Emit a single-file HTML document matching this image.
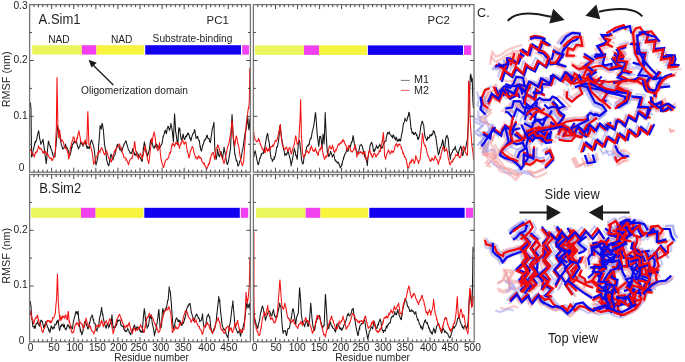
<!DOCTYPE html><html><head><meta charset="utf-8"><style>html,body{margin:0;padding:0;background:#fff;width:685px;height:362px;overflow:hidden}svg{display:block;will-change:transform;filter:blur(0.35px)}text{font-family:"Liberation Sans",sans-serif;fill:#1e1e1e}</style></head><body>
<svg width="685" height="362" viewBox="0 0 685 362">
<rect x="32.2" y="45.2" width="49.70" height="9.40" fill="#ebf55c"/>
<rect x="81.9" y="45.2" width="14.50" height="9.40" fill="#f040f0"/>
<rect x="96.4" y="45.2" width="47.70" height="9.40" fill="#f6f43c"/>
<rect x="145.2" y="45.2" width="95.80" height="9.40" fill="#1400f0"/>
<rect x="242.2" y="45.2" width="6.70" height="9.40" fill="#f040f0"/>
<rect x="254.9" y="45.4" width="49.10" height="9.50" fill="#ebf55c"/>
<rect x="304.0" y="45.4" width="15.20" height="9.50" fill="#f040f0"/>
<rect x="319.2" y="45.4" width="47.80" height="9.50" fill="#f6f43c"/>
<rect x="367.9" y="45.4" width="95.10" height="9.50" fill="#1400f0"/>
<rect x="464.0" y="45.4" width="7.20" height="9.50" fill="#f040f0"/>
<rect x="31.1" y="207.8" width="49.90" height="10.00" fill="#ebf55c"/>
<rect x="81.0" y="207.8" width="14.60" height="10.00" fill="#f040f0"/>
<rect x="95.6" y="207.8" width="47.80" height="10.00" fill="#f6f43c"/>
<rect x="144.3" y="207.8" width="95.50" height="10.00" fill="#1400f0"/>
<rect x="240.8" y="207.8" width="7.40" height="10.00" fill="#f040f0"/>
<rect x="256.1" y="207.8" width="49.60" height="10.00" fill="#ebf55c"/>
<rect x="305.7" y="207.8" width="14.70" height="10.00" fill="#f040f0"/>
<rect x="320.4" y="207.8" width="47.80" height="10.00" fill="#f6f43c"/>
<rect x="369.3" y="207.8" width="95.30" height="10.00" fill="#1400f0"/>
<rect x="465.8" y="207.8" width="7.20" height="10.00" fill="#f040f0"/>
<path d="M30.10,104.03 30.29,102.54 30.54,104.31 30.94,107.93 30.98,109.32 31.42,143.79 31.59,157.50 31.86,156.34 32.30,155.07 32.74,152.34 33.18,150.31 33.31,148.88 33.62,148.73 34.05,147.24 34.49,144.81 34.93,142.20 35.37,141.68 35.47,142.41 35.81,141.92 36.25,140.81 36.69,139.20 37.13,136.89 37.57,134.99 38.01,133.23 38.45,131.34 38.70,130.56 38.89,132.04 39.33,135.70 39.77,139.10 40.21,140.67 40.65,142.72 40.85,144.57 41.09,143.53 41.52,142.41 41.96,142.01 42.40,140.83 42.84,139.67 43.01,139.18 43.28,140.99 43.72,144.54 44.16,147.61 44.60,151.38 45.04,154.92 45.16,155.34 45.48,157.62 45.92,160.77 46.24,163.97 46.36,162.84 46.80,158.15 47.24,152.96 47.68,148.33 48.12,143.47 48.40,141.34 48.55,141.25 48.99,143.11 49.43,144.68 49.87,145.46 50.31,146.94 50.55,146.72 50.75,148.36 51.19,149.39 51.63,149.70 52.07,151.90 52.51,153.48 52.71,153.19 52.95,155.19 53.39,156.05 53.83,156.26 54.27,155.91 54.71,155.93 54.86,157.50 55.15,154.02 55.59,149.33 56.02,145.34 56.46,139.88 56.59,138.10 56.90,134.97 57.34,129.38 57.66,125.17 57.78,126.99 58.22,129.29 58.66,131.11 59.10,132.90 59.17,133.79 59.54,134.90 59.98,137.58 60.42,139.93 60.86,141.89 61.30,144.77 61.33,144.57 61.74,145.84 62.18,147.12 62.62,148.69 63.05,148.70 63.48,148.88 63.49,149.06 63.93,148.12 64.37,146.59 64.81,146.20 65.25,145.17 65.64,144.57 65.69,145.11 66.13,147.31 66.57,147.17 67.01,147.57 67.45,148.53 67.79,148.88 67.89,149.45 68.33,151.45 68.77,152.80 69.21,154.14 69.65,154.98 69.95,155.34 70.09,155.03 70.52,153.48 70.96,151.70 71.40,148.81 71.84,146.24 72.10,146.72 72.28,144.32 72.72,144.37 73.16,143.84 73.60,142.67 74.04,141.00 74.26,142.41 74.48,141.79 74.92,142.58 75.36,141.84 75.80,141.99 76.24,141.54 76.41,140.26 76.68,142.25 77.12,144.48 77.56,146.14 77.99,147.20 78.43,148.87 78.57,148.88 78.87,147.30 79.31,147.09 79.75,146.66 80.19,144.19 80.63,142.84 80.72,142.41 81.07,142.62 81.51,143.11 81.95,144.10 82.39,144.51 82.83,144.63 82.88,146.72 83.27,144.69 83.71,144.01 84.15,143.03 84.59,141.48 85.03,140.79 85.03,141.34 85.46,142.98 85.90,144.48 86.34,145.47 86.78,147.14 87.19,146.72 87.22,148.24 87.66,147.93 88.10,146.96 88.54,148.01 88.98,147.85 89.34,148.88 89.42,147.80 89.86,146.00 90.30,144.06 90.74,141.96 91.18,140.88 91.50,140.26 91.62,139.69 92.06,141.40 92.49,143.03 92.93,143.88 93.37,145.64 93.66,146.72 93.81,146.92 94.25,149.96 94.69,153.19 95.13,158.09 95.57,162.51 95.81,163.97 96.01,164.63 96.45,163.10 96.89,161.55 97.33,159.63 97.77,157.51 97.97,155.34 98.21,152.96 98.65,146.31 99.09,140.16 99.53,134.44 99.96,128.56 100.12,125.17 100.40,127.58 100.84,128.16 101.28,128.80 101.41,127.33 101.72,126.24 102.16,122.93 102.28,124.09 102.60,124.93 103.04,128.06 103.35,129.48 103.48,131.63 103.92,136.86 104.36,142.11 104.43,144.57 104.80,145.67 105.24,148.86 105.68,151.41 106.12,154.24 106.56,158.53 106.59,159.66 107.00,160.99 107.43,162.98 107.87,164.30 108.31,165.17 108.74,166.12 108.75,165.71 109.19,163.56 109.63,160.95 110.07,158.23 110.51,156.33 110.90,155.34 110.95,153.87 111.39,154.77 111.83,156.68 112.27,158.83 112.71,159.29 113.05,159.66 113.15,158.94 113.59,157.20 114.03,155.78 114.46,155.45 114.90,154.93 115.21,153.19 115.34,152.57 115.78,151.06 116.22,148.96 116.66,147.39 117.10,144.95 117.36,144.57 117.54,144.32 117.98,144.79 118.42,145.99 118.86,146.26 119.30,147.83 119.52,148.88 119.74,148.20 120.18,148.69 120.62,149.30 121.06,150.65 121.50,151.49 121.67,151.03 121.93,150.41 122.37,149.59 122.81,147.83 123.25,146.32 123.69,145.33 123.83,144.57 124.13,144.16 124.57,143.34 125.01,142.82 125.45,141.90 125.89,140.47 125.98,141.34 126.33,141.76 126.77,143.90 127.21,145.39 127.65,146.81 128.09,148.47 128.14,148.88 128.53,149.75 128.97,150.36 129.40,151.02 129.84,151.89 130.28,153.57 130.29,153.19 130.72,152.97 131.16,153.02 131.60,153.30 132.04,151.52 132.45,151.03 132.48,149.50 132.92,150.26 133.36,151.00 133.80,151.99 134.24,152.63 134.60,155.34 134.68,153.30 135.12,154.37 135.56,154.57 136.00,155.50 136.43,153.41 136.76,153.19 136.87,152.22 137.31,153.28 137.75,153.85 138.19,154.19 138.63,154.96 138.91,157.50 139.07,156.01 139.51,156.30 139.95,156.93 140.39,158.10 140.83,158.43 141.15,159.61 141.27,159.41 141.71,160.84 142.15,161.48 142.23,161.77 142.59,157.22 143.03,152.94 143.31,148.84 143.47,149.04 143.90,145.30 144.34,142.31 144.38,142.38 144.78,143.63 145.22,146.44 145.66,148.63 145.89,151.00 146.10,150.56 146.54,152.01 146.98,153.89 147.42,155.83 147.62,155.31 147.86,155.20 148.30,153.47 148.74,151.76 149.18,150.78 149.34,148.84 149.62,147.50 150.06,144.14 150.50,140.29 150.85,140.23 150.94,140.34 151.37,143.57 151.81,143.12 152.25,142.86 152.35,144.54 152.69,144.94 153.13,147.01 153.57,147.18 154.01,147.15 154.08,148.84 154.45,146.66 154.89,145.90 155.33,145.59 155.77,146.35 155.80,144.54 156.21,144.97 156.65,144.29 157.09,145.25 157.31,146.69 157.53,146.19 157.97,146.73 158.40,146.89 158.84,147.21 159.28,147.93 159.46,148.84 159.72,147.84 160.16,146.98 160.60,145.86 161.04,145.12 161.48,144.91 161.61,144.54 161.92,143.59 162.36,141.71 162.80,139.01 163.12,135.92 163.24,137.15 163.68,135.45 164.12,134.20 164.56,132.33 164.85,130.54 165.00,131.18 165.44,130.47 165.87,132.08 166.31,133.96 166.57,132.69 166.75,131.90 167.19,128.72 167.63,127.68 168.07,125.76 168.08,127.31 168.51,127.03 168.95,128.77 169.39,129.97 169.58,129.46 169.83,129.35 170.27,127.63 170.71,125.26 170.88,123.00 171.15,124.90 171.59,126.66 172.03,129.63 172.38,131.61 172.47,133.12 172.91,137.55 173.34,140.92 173.46,142.38 173.78,132.25 174.22,121.17 174.54,114.38 174.66,114.56 175.10,121.79 175.54,129.54 175.61,131.61 175.98,133.19 176.42,136.40 176.69,138.08 176.86,139.85 177.30,142.87 177.74,145.05 177.77,144.54 178.18,137.71 178.62,129.94 178.84,127.31 179.06,127.97 179.50,129.99 179.92,129.46 179.94,131.45 180.37,134.49 180.81,137.43 181.00,138.08 181.25,139.47 181.69,139.83 182.08,140.23 182.13,139.35 182.57,136.60 183.01,134.72 183.15,133.77 183.45,135.86 183.89,138.01 184.33,139.09 184.66,138.08 184.77,139.53 185.21,138.00 185.65,136.20 186.09,136.45 186.38,135.92 186.53,136.75 186.97,135.29 187.41,134.23 187.84,133.24 188.11,133.77 188.28,132.78 188.72,134.37 189.16,135.00 189.60,136.97 189.61,138.08 190.04,137.92 190.48,139.26 190.92,140.64 191.12,140.23 191.36,138.87 191.80,136.78 192.24,135.33 192.68,133.98 192.84,133.77 193.12,133.41 193.56,133.26 194.00,131.90 194.44,129.94 194.57,129.46 194.88,130.96 195.31,133.32 195.75,136.06 196.08,138.08 196.19,137.97 196.63,137.17 197.07,137.73 197.51,138.08 197.58,135.92 197.95,138.36 198.39,139.33 198.83,140.33 199.27,141.31 199.31,140.23 199.71,143.57 200.15,146.90 200.38,146.69 200.59,149.31 201.03,150.30 201.46,151.00 201.47,151.54 201.91,149.13 202.34,147.26 202.75,144.54 202.78,145.90 203.22,144.42 203.66,143.04 204.10,141.34 204.26,140.23 204.54,140.71 204.98,140.30 205.42,139.20 205.77,138.08 205.86,139.01 206.30,137.27 206.74,135.67 207.18,136.30 207.49,135.92 207.62,137.68 208.06,138.33 208.50,138.24 208.94,138.77 209.00,138.08 209.38,140.08 209.81,141.84 210.25,142.03 210.51,142.38 210.69,141.17 211.13,137.14 211.57,134.49 212.01,130.72 212.23,129.46 212.45,128.45 212.89,127.04 213.33,125.51 213.77,123.87 213.95,121.92 214.21,131.06 214.65,144.12 214.81,148.84 215.09,151.10 215.53,154.85 215.97,158.32 216.11,159.61 216.41,158.10 216.84,155.35 217.28,153.11 217.61,148.84 217.72,150.79 218.16,152.57 218.60,154.79 219.04,156.42 219.12,155.31 219.48,156.29 219.92,154.91 220.36,153.46 220.80,151.49 220.84,151.00 221.24,153.07 221.68,155.04 222.12,156.88 222.56,159.27 222.57,159.61 223.00,155.44 223.44,152.78 223.88,148.95 224.07,146.69 224.31,148.89 224.75,151.49 225.19,153.23 225.58,155.31 225.63,156.58 226.07,159.02 226.51,161.47 226.95,163.70 227.30,163.92 227.39,164.90 227.83,163.53 228.27,161.82 228.71,159.90 229.03,157.46 229.15,156.67 229.59,154.10 230.03,151.44 230.47,148.93 230.54,148.84 230.91,139.55 231.35,129.46 231.78,119.44 232.04,114.38 232.22,117.64 232.66,125.47 233.10,134.22 233.34,138.08 233.54,142.11 233.98,145.55 234.42,149.15 234.84,155.31 234.86,153.82 235.30,155.54 235.74,157.91 236.18,160.60 236.35,159.61 236.62,161.10 237.06,161.01 237.50,163.03 237.94,166.03 238.07,166.07 238.38,165.66 238.82,164.62 239.25,163.38 239.69,161.59 239.80,161.77 240.13,160.71 240.57,159.35 241.01,158.23 241.30,157.46 241.45,155.90 241.89,153.21 242.33,150.80 242.77,149.44 242.81,148.84 243.21,146.68 243.65,143.58 244.09,140.20 244.53,137.44 244.54,138.08 244.97,134.34 245.41,131.12 245.85,130.05 246.26,127.31 246.28,128.12 246.72,125.03 247.16,122.35 247.60,118.83 247.77,116.54 248.04,120.68 248.48,126.44 248.84,129.46 248.92,130.10 249.36,127.76 249.80,118.69 249.80,120.85 249.80,124.03 249.80,125.15" fill="none" stroke="#141414" stroke-width="1.05" stroke-linejoin="miter" stroke-miterlimit="4"/>
<path d="M30.10,148.88 30.10,150.25 30.54,150.07 30.98,149.77 31.42,151.82 31.86,153.79 32.23,153.19 32.30,153.50 32.74,153.76 33.18,153.99 33.62,154.95 34.05,156.33 34.39,157.50 34.49,156.09 34.93,154.31 35.37,152.55 35.81,152.98 36.25,152.77 36.54,151.03 36.69,151.84 37.13,151.78 37.57,149.98 38.01,148.66 38.45,146.30 38.70,146.72 38.89,147.07 39.33,147.84 39.77,148.83 40.21,148.77 40.65,148.43 40.85,148.88 41.09,148.80 41.52,149.25 41.96,150.33 42.40,151.52 42.84,152.76 43.01,151.03 43.28,152.99 43.72,152.33 44.16,152.27 44.60,151.75 45.04,152.12 45.16,152.11 45.48,151.47 45.92,152.67 46.36,154.45 46.80,153.47 47.24,153.05 47.32,153.19 47.68,154.34 48.12,155.22 48.55,156.04 48.99,156.93 49.43,157.64 49.47,157.50 49.87,157.77 50.31,158.50 50.75,158.29 51.19,158.05 51.63,159.66 51.63,160.09 52.07,160.51 52.51,160.22 52.95,158.99 53.39,157.62 53.78,156.42 53.83,157.49 54.27,155.91 54.71,154.08 55.15,152.42 55.29,153.19 55.59,144.65 56.02,134.65 56.37,127.33 56.46,118.87 56.90,85.26 57.02,77.33 57.34,95.26 57.78,120.43 57.88,127.33 58.22,129.67 58.66,135.05 58.74,138.10 59.10,133.63 59.54,130.26 59.60,129.48 59.98,133.31 60.42,136.08 60.86,138.84 61.30,141.97 61.33,140.26 61.74,140.61 62.18,140.16 62.62,141.04 63.05,141.49 63.48,142.41 63.49,142.99 63.93,144.47 64.37,146.83 64.81,147.05 65.25,147.17 65.64,148.88 65.69,147.89 66.13,148.60 66.57,149.76 67.01,150.56 67.45,151.16 67.79,153.19 67.89,152.38 68.33,156.02 68.77,159.49 68.87,158.58 69.21,157.04 69.65,154.02 70.09,150.96 70.52,147.63 70.96,145.83 71.03,146.72 71.40,143.59 71.84,142.38 72.28,140.81 72.72,139.32 73.16,137.16 73.18,137.03 73.60,136.97 74.04,137.33 74.48,139.32 74.92,141.53 75.34,142.41 75.36,142.74 75.80,143.03 76.24,141.35 76.68,139.21 77.12,137.63 77.49,138.10 77.56,136.56 77.99,134.54 78.43,132.77 78.87,131.36 79.00,130.56 79.31,133.43 79.75,135.74 80.19,137.56 80.63,140.89 80.72,142.41 81.07,141.49 81.51,142.18 81.95,142.49 82.39,143.12 82.83,143.46 82.88,144.57 83.27,143.70 83.71,144.74 84.15,142.93 84.59,140.99 85.03,140.82 85.03,140.26 85.46,142.12 85.90,142.53 86.34,143.11 86.76,144.57 86.78,143.47 87.22,129.42 87.66,116.02 87.84,111.16 88.10,118.46 88.54,132.67 88.91,144.57 88.98,144.56 89.42,145.06 89.86,145.71 90.30,145.84 90.74,146.62 91.18,148.58 91.50,148.88 91.62,150.09 92.06,152.07 92.49,154.26 92.93,158.16 93.37,161.54 93.66,163.97 93.81,163.71 94.25,162.97 94.69,162.80 95.13,161.09 95.57,158.96 95.81,159.66 96.01,157.20 96.45,156.87 96.89,156.63 97.33,155.26 97.77,154.47 97.97,153.19 98.21,153.61 98.65,152.50 99.09,150.64 99.53,151.50 99.96,152.33 100.12,151.03 100.40,150.79 100.84,149.44 101.28,147.75 101.72,148.02 102.16,148.58 102.28,148.88 102.60,149.82 103.04,150.75 103.48,152.36 103.92,153.75 104.36,154.27 104.43,153.19 104.80,154.29 105.24,153.67 105.68,153.15 106.12,152.25 106.56,150.96 106.59,151.03 107.00,152.21 107.43,153.34 107.87,154.76 108.31,156.88 108.74,157.50 108.75,158.63 109.19,158.53 109.63,158.62 110.07,159.03 110.51,159.11 110.90,161.81 110.95,161.46 111.39,161.73 111.83,160.54 112.27,158.71 112.71,156.95 113.05,155.34 113.15,155.33 113.59,154.19 114.03,152.97 114.46,151.03 114.90,150.57 115.21,151.03 115.34,149.79 115.78,150.20 116.22,148.82 116.66,148.09 117.10,147.06 117.36,146.72 117.54,147.05 117.98,146.19 118.42,146.19 118.86,146.22 119.30,145.23 119.52,143.49 119.74,145.17 120.18,145.98 120.62,146.69 121.06,147.39 121.50,148.20 121.67,148.88 121.93,150.28 122.37,153.45 122.81,153.59 123.25,154.26 123.69,156.09 123.83,157.50 124.13,157.36 124.57,157.82 125.01,157.78 125.45,158.06 125.89,158.29 125.98,159.66 126.33,159.00 126.77,160.29 127.21,160.71 127.65,161.77 128.09,163.76 128.14,163.97 128.53,164.60 128.97,163.11 129.40,161.34 129.84,160.18 130.28,159.74 130.29,159.66 130.72,159.35 131.16,158.62 131.60,157.88 132.04,158.17 132.45,157.50 132.48,157.09 132.92,154.14 133.36,151.34 133.80,148.06 134.24,144.60 134.60,141.34 134.68,141.93 135.12,145.39 135.56,149.57 135.68,151.03 136.00,151.53 136.43,152.37 136.87,153.78 137.31,154.87 137.75,157.48 137.84,157.50 138.19,157.53 138.63,158.55 139.07,156.70 139.51,156.13 139.95,154.80 140.39,153.82 140.72,154.23 140.83,154.13 141.27,155.74 141.71,157.17 142.15,158.34 142.23,159.61 142.59,156.57 143.03,155.56 143.47,154.63 143.74,151.00 143.90,151.63 144.34,149.57 144.78,147.65 145.22,146.14 145.46,146.69 145.66,148.44 146.10,152.42 146.54,154.42 146.98,156.13 147.42,158.55 147.62,159.61 147.86,160.09 148.30,161.98 148.69,163.92 148.74,163.38 149.18,160.34 149.62,157.26 150.06,152.81 150.20,151.00 150.50,148.90 150.94,144.22 151.37,139.25 151.49,138.08 151.81,139.94 152.25,141.74 152.35,142.38 152.69,138.95 153.13,136.02 153.57,134.16 154.01,132.59 154.08,131.61 154.45,133.93 154.89,135.25 155.15,138.08 155.33,138.58 155.77,143.66 156.21,147.49 156.23,146.69 156.65,148.38 157.09,149.07 157.53,149.55 157.95,151.00 157.97,150.53 158.40,148.81 158.84,146.62 159.28,144.08 159.46,142.38 159.72,146.24 160.16,150.98 160.54,155.31 160.60,155.80 161.04,158.79 161.48,161.09 161.92,162.51 162.26,163.92 162.36,164.09 162.80,165.33 163.24,167.25 163.68,167.39 163.77,166.07 164.12,165.95 164.56,164.13 165.00,162.10 165.28,161.77 165.44,160.41 165.87,160.04 166.31,159.63 166.75,159.72 167.00,159.61 167.19,159.09 167.63,159.05 168.07,158.00 168.51,157.38 168.72,157.46 168.95,155.66 169.39,154.05 169.83,152.59 170.23,153.15 170.27,152.71 170.71,151.74 171.15,149.39 171.59,146.16 171.74,146.69 172.03,144.32 172.47,143.61 172.91,143.44 173.03,144.54 173.34,144.07 173.78,144.51 174.22,145.57 174.54,146.69 174.66,145.97 175.10,145.01 175.54,143.15 175.98,142.33 176.05,142.38 176.42,143.53 176.86,143.58 177.30,143.22 177.74,142.76 177.77,144.54 178.18,143.55 178.62,145.14 179.06,145.69 179.49,148.84 179.50,147.79 179.94,146.23 180.37,144.47 180.81,143.63 181.00,142.38 181.25,143.33 181.69,142.00 182.13,141.02 182.51,140.23 182.57,140.67 183.01,141.13 183.45,141.84 183.89,143.18 184.23,144.54 184.33,144.13 184.77,143.05 185.21,142.36 185.65,142.84 185.95,142.38 186.09,143.07 186.53,146.30 186.97,148.71 187.41,151.92 187.46,151.00 187.84,153.23 188.28,154.40 188.72,156.78 188.97,157.46 189.16,158.27 189.60,155.98 190.04,153.41 190.48,151.04 190.69,151.00 190.92,150.07 191.36,149.05 191.80,147.91 192.24,146.66 192.41,146.69 192.68,146.88 193.12,148.20 193.56,149.99 193.92,153.15 194.00,152.40 194.44,154.13 194.88,155.25 195.31,156.67 195.43,157.46 195.75,156.95 196.19,157.20 196.63,157.37 197.07,158.51 197.15,159.61 197.51,158.31 197.95,157.56 198.39,156.31 198.83,155.90 198.88,155.31 199.27,157.92 199.71,157.72 200.15,157.92 200.38,157.46 200.59,157.59 201.03,158.58 201.47,158.83 201.89,161.77 201.91,160.90 202.34,161.54 202.78,162.17 203.22,163.42 203.61,163.92 203.66,163.59 204.10,163.14 204.54,164.75 204.98,166.02 205.34,166.07 205.42,166.70 205.86,167.25 206.30,167.85 206.74,168.68 206.84,169.31 207.18,167.88 207.62,167.16 208.06,165.41 208.35,166.07 208.50,163.85 208.94,163.66 209.38,163.80 209.81,161.32 210.07,159.61 210.25,160.02 210.69,157.96 211.13,155.76 211.57,154.11 211.80,155.31 212.01,153.59 212.45,153.06 212.89,152.92 213.31,153.15 213.33,152.02 213.77,154.73 214.21,157.18 214.65,158.83 214.81,159.61 215.09,156.85 215.53,153.89 215.97,150.42 216.11,148.84 216.41,148.10 216.84,147.55 217.28,147.46 217.61,144.54 217.72,145.15 218.16,145.36 218.60,146.84 219.04,147.77 219.12,148.84 219.48,149.71 219.92,151.67 220.36,153.90 220.80,154.54 220.84,155.31 221.24,155.66 221.68,155.55 222.12,157.36 222.56,158.38 222.57,159.61 223.00,159.92 223.44,161.95 223.88,163.12 224.07,163.92 224.31,162.35 224.75,160.66 225.19,158.10 225.58,157.46 225.63,155.83 226.07,154.58 226.51,152.90 226.95,150.41 227.30,148.84 227.39,148.10 227.83,146.34 228.27,145.31 228.71,144.11 229.03,142.38 229.15,142.35 229.59,139.71 230.03,136.74 230.47,134.44 230.54,133.77 230.91,131.51 231.35,127.30 231.78,122.75 232.04,120.85 232.22,121.90 232.66,128.42 233.10,135.95 233.34,138.08 233.54,138.91 233.98,140.86 234.42,142.88 234.84,144.54 234.86,146.05 235.30,141.85 235.74,138.72 236.18,136.01 236.35,135.92 236.62,136.88 237.06,139.18 237.50,141.52 237.64,142.38 237.94,143.74 238.38,144.99 238.82,147.24 239.15,148.84 239.25,150.20 239.69,153.28 240.13,156.39 240.57,158.47 240.66,159.61 241.01,161.25 241.45,162.92 241.89,164.05 242.33,165.46 242.38,166.07 242.77,164.37 243.21,162.83 243.65,161.17 243.67,161.77 244.09,154.94 244.53,148.77 244.97,142.38 244.97,142.77 245.41,136.14 245.85,130.39 246.26,123.00 246.28,124.12 246.72,120.65 247.16,117.11 247.60,114.01 247.77,112.23 248.04,110.32 248.48,107.69 248.84,107.92 248.92,105.70 249.36,99.63 249.80,68.08 249.80,71.31 249.80,90.69 249.80,92.37" fill="none" stroke="#f41010" stroke-width="1.05" stroke-linejoin="miter" stroke-miterlimit="4"/>
<path d="M253.90,154.39 253.90,157.50 254.34,153.50 254.78,151.89 255.16,151.03 255.22,151.14 255.66,153.23 256.10,154.87 256.53,157.54 256.88,159.66 256.97,160.18 257.41,161.65 257.85,163.90 258.29,164.98 258.39,163.97 258.73,164.01 259.17,161.28 259.61,159.60 259.90,157.50 260.05,158.93 260.49,156.88 260.92,155.50 261.36,153.91 261.62,155.34 261.80,153.43 262.24,153.10 262.68,153.16 263.12,153.01 263.34,153.19 263.56,151.72 264.00,150.94 264.44,150.29 264.85,146.72 264.88,147.65 265.31,144.59 265.75,142.01 266.19,139.12 266.36,138.10 266.63,136.54 267.07,135.08 267.51,133.08 267.66,133.79 267.95,135.14 268.39,139.60 268.83,140.99 269.16,142.41 269.26,143.04 269.70,147.82 270.14,151.62 270.58,155.89 270.67,155.34 271.02,158.34 271.46,158.75 271.90,159.02 272.34,160.93 272.40,161.81 272.78,159.72 273.22,159.87 273.65,159.17 274.09,159.15 274.12,157.50 274.53,158.12 274.97,156.68 275.41,155.31 275.63,153.19 275.85,153.09 276.29,150.01 276.73,147.36 277.14,146.72 277.17,147.24 277.61,146.29 278.05,143.33 278.48,141.00 278.86,138.10 278.92,137.51 279.36,132.34 279.80,128.42 280.16,125.17 280.24,126.25 280.68,130.34 281.12,134.48 281.45,135.95 281.56,138.45 282.00,139.75 282.44,142.34 282.87,145.07 283.17,146.72 283.31,147.82 283.75,149.55 284.19,151.49 284.63,153.86 284.90,153.19 285.07,155.08 285.51,154.27 285.95,154.06 286.39,155.46 286.41,155.34 286.82,154.43 287.26,153.03 287.70,151.42 287.91,151.03 288.14,151.00 288.58,152.81 289.02,154.45 289.46,156.37 289.64,157.50 289.90,157.71 290.34,160.11 290.78,162.50 291.15,166.12 291.21,164.61 291.65,162.78 292.09,161.03 292.53,158.81 292.87,157.50 292.97,156.13 293.41,153.81 293.85,151.52 294.29,149.10 294.38,148.88 294.73,150.20 295.17,151.50 295.61,153.86 295.67,155.34 296.04,155.11 296.48,155.87 296.92,158.76 297.18,159.66 297.36,157.69 297.80,151.65 298.24,144.96 298.26,144.57 298.68,142.51 299.12,140.29 299.34,140.26 299.56,140.82 300.00,144.21 300.41,148.88 300.43,147.48 300.87,152.41 301.31,157.48 301.49,159.66 301.75,160.65 302.19,162.65 302.63,163.84 303.00,163.97 303.07,163.91 303.51,161.30 303.95,158.45 304.38,155.50 304.72,155.34 304.82,154.76 305.26,154.29 305.70,152.28 306.14,149.49 306.45,148.88 306.58,147.33 307.02,146.54 307.46,145.88 307.90,145.44 307.96,146.72 308.34,144.52 308.77,144.29 309.21,144.47 309.47,142.41 309.65,141.81 310.09,139.26 310.53,138.66 310.97,137.79 311.19,138.10 311.41,136.69 311.85,134.31 312.29,131.46 312.73,130.22 312.91,129.48 313.17,128.50 313.60,126.31 314.04,124.18 314.42,120.86 314.48,120.54 314.92,116.97 315.36,112.95 315.50,112.24 315.80,115.32 316.24,121.02 316.58,125.17 316.68,126.87 317.12,133.12 317.56,137.74 317.66,138.10 317.99,140.41 318.43,144.00 318.73,146.72 318.87,145.50 319.31,141.66 319.75,136.77 319.81,135.95 320.19,136.83 320.63,136.48 320.89,138.10 321.07,138.37 321.51,143.00 321.94,147.61 321.97,148.88 322.38,143.03 322.82,137.98 323.04,133.79 323.26,135.31 323.70,138.53 324.12,144.57 324.14,143.78 324.58,131.48 325.02,119.02 325.20,112.24 325.46,119.21 325.90,128.03 326.28,138.10 326.33,136.99 326.77,144.29 327.21,151.30 327.35,151.03 327.65,152.77 328.09,153.50 328.53,155.68 328.86,155.34 328.97,156.19 329.41,155.45 329.85,154.38 330.29,152.67 330.59,151.03 330.73,152.04 331.16,153.08 331.60,153.94 332.04,155.09 332.31,157.50 332.48,155.95 332.92,155.54 333.36,155.35 333.80,154.54 333.82,155.34 334.24,156.37 334.68,158.67 335.12,160.68 335.33,159.66 335.55,160.92 335.99,160.84 336.43,161.80 336.87,161.82 337.05,161.81 337.31,162.97 337.75,162.71 338.19,162.27 338.63,162.75 338.78,163.97 339.07,163.97 339.50,164.47 339.94,166.32 340.28,168.28 340.38,167.02 340.82,166.40 341.26,166.29 341.70,165.61 341.79,163.97 342.14,164.13 342.58,161.72 343.02,159.98 343.46,159.01 343.52,157.50 343.89,157.60 344.33,155.80 344.77,154.55 345.21,153.79 345.24,153.19 345.65,153.01 346.09,152.20 346.53,150.71 346.75,148.88 346.97,150.19 347.41,151.21 347.85,151.05 348.26,151.03 348.28,149.95 348.72,148.58 349.16,146.98 349.60,146.34 349.98,146.72 350.04,145.91 350.48,146.08 350.92,144.51 351.36,142.25 351.71,142.41 351.80,142.45 352.24,141.09 352.68,138.34 353.11,135.33 353.22,135.95 353.55,138.35 353.99,141.61 354.43,143.63 354.72,144.57 354.87,146.05 355.31,146.91 355.75,147.88 356.19,150.14 356.45,151.03 356.63,151.42 357.06,151.98 357.50,152.24 357.94,152.08 358.17,153.19 358.38,152.57 358.82,151.34 359.26,149.08 359.68,146.72 359.70,146.38 360.14,145.16 360.58,145.03 361.02,144.82 361.19,144.57 361.45,145.20 361.89,145.68 362.33,146.35 362.77,148.52 362.91,148.88 363.21,150.69 363.65,152.46 364.09,153.68 364.53,155.63 364.72,155.31 364.97,157.44 365.41,157.63 365.84,157.59 366.23,159.61 366.28,158.90 366.72,161.76 367.16,163.68 367.31,166.07 367.60,161.77 368.04,157.15 368.38,155.31 368.48,153.63 368.92,151.93 369.36,151.41 369.80,147.87 369.89,146.69 370.24,145.19 370.67,144.31 371.11,143.25 371.55,142.34 371.62,142.38 371.99,143.11 372.43,144.90 372.87,146.77 373.31,150.00 373.34,151.00 373.75,150.65 374.19,151.36 374.62,150.53 374.85,148.84 375.06,150.02 375.50,149.17 375.94,147.74 376.35,146.69 376.38,145.79 376.82,146.56 377.26,147.04 377.70,147.87 378.08,148.84 378.14,147.72 378.58,146.66 379.01,146.10 379.45,146.22 379.80,144.54 379.89,144.72 380.33,145.62 380.77,146.96 381.21,147.60 381.31,148.84 381.65,147.24 382.09,147.47 382.53,147.55 382.81,146.69 382.97,145.76 383.40,143.98 383.84,143.02 384.28,141.99 384.54,142.38 384.72,141.72 385.16,141.33 385.60,141.20 386.04,140.47 386.26,138.08 386.48,137.18 386.92,134.75 387.36,133.74 387.77,132.69 387.79,132.73 388.23,133.65 388.67,132.87 389.11,132.56 389.28,131.61 389.55,133.57 389.99,134.28 390.43,134.77 390.87,135.46 391.00,134.84 391.31,136.07 391.75,136.70 392.18,136.61 392.62,137.48 392.72,135.92 393.06,136.25 393.50,135.25 393.94,136.14 394.23,137.00 394.38,138.07 394.82,138.48 395.26,138.82 395.70,139.57 395.74,138.08 396.14,138.77 396.57,137.91 397.01,139.27 397.45,141.69 397.46,140.23 397.89,140.89 398.33,140.40 398.77,139.68 399.18,141.31 399.21,140.08 399.65,139.30 400.09,139.92 400.53,141.46 400.69,140.23 400.96,138.65 401.40,135.54 401.84,133.93 402.20,131.61 402.28,132.11 402.72,129.28 403.16,125.33 403.49,123.00 403.60,123.47 404.04,122.62 404.48,121.60 404.92,119.22 405.00,118.69 405.36,119.36 405.79,119.83 406.23,120.84 406.51,120.85 406.67,121.03 407.11,119.45 407.55,117.23 407.80,116.54 407.99,116.67 408.43,115.88 408.87,111.91 408.88,112.23 409.31,112.82 409.75,115.50 409.95,118.69 410.18,119.45 410.62,124.20 411.03,129.46 411.06,128.04 411.50,129.94 411.94,131.89 412.11,133.77 412.38,132.11 412.82,132.56 413.26,132.76 413.61,134.84 413.70,133.09 414.13,133.89 414.57,134.22 415.01,132.98 415.12,133.77 415.45,132.76 415.89,133.58 416.33,134.19 416.41,135.92 416.77,134.42 417.21,136.71 417.65,138.43 417.92,138.08 418.09,139.34 418.52,139.24 418.96,137.22 419.40,135.88 419.43,135.92 419.84,133.66 420.28,130.78 420.72,127.36 420.72,127.31 421.16,124.76 421.60,123.42 422.04,121.67 422.23,121.92 422.48,121.72 422.91,122.79 423.35,124.81 423.74,125.15 423.79,126.67 424.23,130.64 424.67,135.03 425.03,135.92 425.11,137.42 425.55,137.96 425.99,138.46 426.43,140.08 426.54,140.23 426.87,140.40 427.30,138.96 427.74,137.22 428.04,138.08 428.18,137.72 428.62,137.58 429.06,137.87 429.50,136.88 429.77,135.92 429.94,134.87 430.38,135.40 430.82,135.94 431.26,135.86 431.49,133.77 431.69,135.58 432.13,134.46 432.57,134.48 433.00,132.69 433.01,132.12 433.45,130.75 433.89,131.25 434.33,132.35 434.51,131.61 434.77,133.55 435.21,135.38 435.65,136.67 435.80,135.92 436.08,139.19 436.52,141.99 436.96,145.31 437.31,148.84 437.40,148.42 437.84,151.38 438.28,153.69 438.38,155.31 438.72,153.87 439.16,153.23 439.60,150.69 440.04,147.93 440.11,148.84 440.47,147.51 440.91,146.75 441.35,145.73 441.61,144.54 441.79,144.63 442.23,142.11 442.67,139.44 442.69,140.23 443.11,141.53 443.55,145.63 443.99,149.35 444.41,151.00 444.43,151.01 444.87,146.33 445.30,141.72 445.74,138.81 445.92,138.08 446.18,136.67 446.62,136.09 447.00,134.84 447.06,137.07 447.50,137.09 447.94,138.07 448.07,138.08 448.38,140.88 448.82,146.40 449.15,151.00 449.25,150.79 449.69,154.42 450.13,157.54 450.23,159.61 450.57,156.46 451.01,154.51 451.45,153.66 451.74,153.15 451.89,152.52 452.33,152.13 452.77,150.72 453.21,149.81 453.46,148.84 453.64,149.55 454.08,149.61 454.52,148.79 454.96,147.60 455.18,146.69 455.40,147.43 455.84,149.42 456.28,150.54 456.69,151.00 456.72,151.34 457.16,151.93 457.60,153.21 458.03,154.33 458.20,155.31 458.47,153.12 458.91,151.21 459.35,149.75 459.49,148.84 459.79,148.25 460.23,147.82 460.67,146.40 461.00,146.69 461.11,146.19 461.55,149.75 461.99,152.43 462.42,155.91 462.50,155.31 462.86,155.32 463.30,153.67 463.74,151.18 464.18,148.87 464.23,148.84 464.62,148.78 465.06,149.44 465.50,148.78 465.94,147.25 465.95,146.69 466.38,144.03 466.81,142.01 467.25,139.55 467.46,138.08 467.69,135.30 468.13,126.97 468.54,120.85 468.57,119.17 469.01,109.15 469.40,99.31 469.45,98.51 469.89,86.94 470.26,75.62 470.33,76.17 470.77,74.38 470.90,74.54 471.20,77.06 471.55,82.08 471.64,80.96 472.08,78.80 472.20,77.77 472.52,88.93 472.84,99.31 472.96,101.86 473.40,107.92 473.40,108.19" fill="none" stroke="#141414" stroke-width="1.05" stroke-linejoin="miter" stroke-miterlimit="4"/>
<path d="M253.90,131.64 253.90,134.81 254.34,136.55 254.78,138.01 255.16,140.26 255.22,139.85 255.66,140.11 256.10,141.04 256.53,141.71 256.88,141.34 256.97,142.18 257.41,141.08 257.85,140.80 258.29,140.00 258.39,138.10 258.73,139.19 259.17,139.63 259.61,141.37 259.90,142.41 260.05,143.30 260.49,144.06 260.92,145.51 261.36,146.29 261.62,146.72 261.80,147.53 262.24,148.94 262.68,149.31 263.12,149.18 263.34,151.03 263.56,149.69 264.00,149.99 264.44,150.75 264.85,153.19 264.88,152.60 265.31,152.48 265.75,149.54 266.19,147.10 266.36,148.88 266.63,148.27 267.07,149.79 267.51,151.09 267.95,150.06 268.09,151.03 268.39,149.07 268.83,149.58 269.26,150.75 269.70,150.20 269.81,148.88 270.14,149.97 270.58,147.64 271.02,146.45 271.32,146.72 271.46,146.72 271.90,146.69 272.34,146.29 272.78,146.51 272.83,144.57 273.22,146.09 273.65,144.92 274.09,144.32 274.53,142.49 274.55,142.41 274.97,141.93 275.41,140.60 275.85,140.84 276.28,141.34 276.29,141.54 276.73,140.44 277.17,139.28 277.61,137.80 277.78,138.10 278.05,135.92 278.48,133.85 278.92,131.31 279.29,131.64 279.36,129.52 279.80,126.61 280.24,125.10 280.37,124.09 280.68,129.37 281.12,135.58 281.45,138.10 281.56,139.77 282.00,142.14 282.44,144.53 282.87,146.62 283.17,146.72 283.31,147.65 283.75,148.29 284.19,148.47 284.63,148.79 284.90,148.88 285.07,149.41 285.51,148.35 285.95,147.45 286.39,147.12 286.41,146.72 286.82,147.84 287.26,149.47 287.70,150.69 287.91,151.03 288.14,150.52 288.58,149.70 289.02,148.47 289.46,147.27 289.64,148.88 289.90,148.24 290.34,149.90 290.78,152.01 291.15,153.19 291.21,153.79 291.65,153.47 292.09,151.24 292.53,149.77 292.87,148.88 292.97,147.45 293.41,147.06 293.85,145.32 294.29,143.88 294.38,144.57 294.73,141.31 295.17,138.72 295.61,135.46 295.67,135.95 296.04,137.34 296.48,139.75 296.92,142.53 297.18,144.57 297.36,144.10 297.80,143.51 298.24,142.71 298.68,142.07 298.69,142.41 299.12,134.35 299.56,126.63 299.98,120.86 300.00,120.41 300.43,107.23 300.63,99.31 300.87,110.84 301.31,129.57 301.49,138.10 301.75,140.04 302.19,147.45 302.57,153.19 302.63,153.61 303.07,155.37 303.51,157.63 303.65,157.50 303.95,156.62 304.38,155.85 304.82,155.40 305.16,155.34 305.26,154.69 305.70,152.91 306.14,152.19 306.58,151.22 306.88,151.03 307.02,150.72 307.46,151.61 307.90,152.07 308.34,152.77 308.60,153.19 308.77,153.32 309.21,151.84 309.65,150.87 310.09,149.79 310.11,148.88 310.53,149.40 310.97,147.50 311.41,146.23 311.62,146.72 311.85,147.13 312.29,148.58 312.73,150.55 313.17,150.93 313.34,151.03 313.60,150.45 314.04,151.01 314.48,151.22 314.92,149.56 315.07,148.88 315.36,148.36 315.80,149.75 316.24,151.18 316.58,153.19 316.68,152.00 317.12,152.95 317.56,153.88 317.99,155.84 318.09,155.34 318.43,153.87 318.87,151.14 319.31,150.56 319.75,149.83 319.81,148.88 320.19,149.85 320.63,148.23 321.07,147.75 321.51,146.30 321.53,144.57 321.94,148.06 322.38,150.09 322.82,151.81 323.04,155.34 323.26,154.50 323.70,155.88 324.14,157.92 324.55,159.66 324.58,159.01 325.02,158.29 325.46,157.39 325.90,156.15 326.28,157.50 326.33,157.04 326.77,156.79 327.21,155.29 327.65,153.79 328.00,153.19 328.09,151.66 328.53,149.97 328.97,147.84 329.41,146.26 329.51,146.72 329.85,146.03 330.29,147.03 330.73,147.87 331.02,148.88 331.16,148.89 331.60,148.38 332.04,146.95 332.48,145.71 332.74,146.72 332.92,146.49 333.36,148.79 333.80,151.01 334.24,151.99 334.47,151.03 334.68,152.55 335.12,151.12 335.55,150.80 335.97,148.88 335.99,151.01 336.43,149.55 336.87,148.46 337.31,147.34 337.48,146.72 337.75,145.48 338.19,144.65 338.63,144.02 339.07,143.61 339.21,144.57 339.50,143.98 339.94,143.91 340.38,143.73 340.82,143.51 340.93,142.41 341.26,142.89 341.70,141.98 342.14,140.95 342.44,141.34 342.58,140.63 343.02,139.71 343.46,141.04 343.89,141.60 343.95,140.26 344.33,142.34 344.77,143.54 345.21,144.03 345.65,145.22 345.67,144.57 346.09,145.97 346.53,147.98 346.97,149.82 347.40,148.88 347.41,149.51 347.85,148.24 348.28,146.54 348.72,145.90 348.91,146.72 349.16,145.06 349.60,146.64 350.04,148.38 350.41,148.88 350.48,150.58 350.92,150.50 351.36,151.48 351.80,151.66 352.14,152.11 352.24,152.04 352.68,151.00 353.11,150.65 353.55,149.78 353.86,148.88 353.99,149.52 354.43,148.01 354.87,146.26 355.31,145.53 355.37,146.72 355.75,148.04 356.19,150.82 356.63,154.20 356.88,157.50 357.06,155.97 357.50,154.70 357.94,153.88 358.38,152.47 358.60,153.19 358.82,152.76 359.26,153.34 359.70,153.02 360.14,152.51 360.58,152.31 360.76,151.03 361.02,152.07 361.45,152.47 361.89,152.77 362.33,153.79 362.77,154.33 362.91,153.19 363.21,153.75 363.65,153.12 364.09,152.87 364.53,151.95 364.72,153.15 364.97,152.50 365.41,155.51 365.84,158.71 366.23,159.61 366.28,160.02 366.72,159.68 367.16,158.54 367.60,157.79 367.74,157.46 368.04,157.37 368.48,154.40 368.92,152.05 369.36,150.03 369.46,151.00 369.80,149.59 370.24,151.69 370.67,153.86 371.11,154.91 371.18,153.15 371.55,156.08 371.99,156.67 372.43,157.02 372.69,157.46 372.87,155.58 373.31,155.33 373.75,153.95 374.19,152.91 374.20,153.15 374.62,153.24 375.06,154.19 375.50,155.53 375.92,157.46 375.94,156.19 376.38,156.40 376.82,154.90 377.26,154.44 377.65,155.31 377.70,154.44 378.14,153.80 378.58,153.41 379.01,151.63 379.15,151.00 379.45,151.55 379.89,150.77 380.33,151.14 380.66,148.84 380.77,148.81 381.21,145.65 381.65,144.17 382.09,141.63 382.38,142.38 382.53,139.57 382.97,135.75 383.40,132.19 383.46,132.69 383.84,139.20 384.28,149.77 384.54,155.31 384.72,156.36 385.16,157.61 385.60,157.65 385.61,159.61 386.04,156.72 386.48,155.42 386.92,153.86 387.12,153.15 387.36,152.57 387.79,152.06 388.23,150.71 388.41,151.00 388.67,150.29 389.11,151.53 389.55,152.87 389.92,153.15 389.99,153.83 390.43,153.48 390.87,152.49 391.31,151.31 391.43,152.08 391.75,151.64 392.18,151.56 392.62,151.39 393.06,152.10 393.15,153.15 393.50,151.26 393.94,150.45 394.38,149.76 394.82,147.27 394.88,146.69 395.26,145.71 395.70,144.83 396.14,144.24 396.38,144.54 396.57,143.90 397.01,145.02 397.45,146.37 397.89,146.69 397.89,145.88 398.33,144.36 398.77,144.19 399.21,144.29 399.61,144.54 399.65,143.67 400.09,145.74 400.53,146.04 400.96,146.10 401.34,148.84 401.40,147.36 401.84,149.71 402.28,150.31 402.72,151.39 402.84,153.15 403.16,152.69 403.60,153.73 404.04,154.96 404.35,157.46 404.48,156.11 404.92,157.17 405.36,157.25 405.79,158.40 406.08,159.61 406.23,159.63 406.67,161.88 407.11,164.70 407.15,163.92 407.55,167.16 407.99,167.55 408.43,167.49 408.66,168.23 408.87,167.15 409.31,164.32 409.75,163.02 409.95,163.92 410.18,162.48 410.62,162.63 411.06,161.12 411.46,161.77 411.50,159.98 411.94,160.52 412.38,160.28 412.82,160.29 412.97,159.61 413.26,160.48 413.70,161.29 414.13,163.21 414.26,163.92 414.57,162.53 415.01,161.43 415.45,158.32 415.77,155.31 415.89,156.10 416.33,157.53 416.77,158.72 417.21,159.44 417.28,159.61 417.65,160.44 418.09,161.54 418.52,163.10 418.57,163.92 418.96,161.42 419.40,160.34 419.84,159.91 420.08,159.61 420.28,157.68 420.72,153.72 421.15,148.84 421.16,149.82 421.60,144.00 422.04,138.60 422.44,132.69 422.48,133.03 422.91,135.81 423.35,139.30 423.74,142.38 423.79,142.72 424.23,144.37 424.67,145.25 425.11,146.18 425.46,146.69 425.55,146.24 425.99,147.62 426.43,149.35 426.87,151.75 427.18,153.15 427.30,154.14 427.74,154.59 428.18,156.07 428.62,156.66 428.69,157.46 429.06,158.20 429.50,159.10 429.94,159.95 430.20,161.77 430.38,160.99 430.82,160.38 431.26,160.50 431.69,159.23 431.92,157.46 432.13,158.90 432.57,158.80 433.01,159.65 433.45,160.27 433.64,159.61 433.89,159.84 434.33,158.63 434.77,157.50 435.15,155.31 435.21,155.68 435.65,156.88 436.08,158.19 436.52,158.89 436.66,159.61 436.96,159.61 437.40,160.52 437.84,162.29 438.28,164.18 438.38,163.92 438.72,162.73 439.16,161.04 439.60,159.79 440.04,158.69 440.11,157.46 440.47,158.05 440.91,155.66 441.35,153.26 441.61,153.15 441.79,151.79 442.23,150.18 442.67,148.51 443.11,146.45 443.12,146.69 443.55,147.22 443.99,147.96 444.43,148.78 444.84,151.00 444.87,150.99 445.30,150.53 445.74,150.49 446.18,149.55 446.57,148.84 446.62,149.64 447.06,151.04 447.50,152.17 447.94,155.68 448.07,157.46 448.38,158.40 448.82,160.28 449.25,162.12 449.58,163.92 449.69,164.14 450.13,164.71 450.57,163.41 451.01,162.88 451.30,161.77 451.45,162.30 451.89,161.94 452.33,161.95 452.77,160.83 453.03,159.61 453.21,160.09 453.64,159.02 454.08,158.87 454.52,157.55 454.54,157.46 454.96,157.14 455.40,156.26 455.84,154.75 456.04,155.31 456.28,155.28 456.72,155.08 457.16,155.64 457.60,154.92 457.77,153.15 458.03,154.99 458.47,155.32 458.91,156.73 459.35,157.16 459.49,157.46 459.79,157.82 460.23,157.36 460.67,157.20 461.00,155.31 461.11,155.11 461.55,151.33 461.99,151.00 462.42,149.63 462.50,148.84 462.86,148.36 463.30,146.50 463.74,147.20 464.18,147.56 464.23,146.69 464.62,149.61 465.06,151.11 465.50,152.37 465.94,153.25 465.95,153.15 466.38,153.54 466.81,153.86 467.25,155.38 467.46,155.31 467.69,146.23 468.10,127.31 468.13,124.19 468.54,82.08 468.57,80.84 469.01,83.57 469.40,86.38 469.45,88.08 469.89,106.09 470.26,123.00 470.33,121.83 470.77,129.36 471.20,136.31 471.34,138.08 471.64,142.25 472.08,146.71 472.41,148.84 472.52,150.04 472.96,152.33 473.40,157.10 473.40,159.61" fill="none" stroke="#f41010" stroke-width="1.05" stroke-linejoin="miter" stroke-miterlimit="4"/>
<path d="M30.10,300.64 30.10,300.90 30.54,303.01 30.72,304.95 30.98,306.15 31.42,312.47 31.59,315.72 31.86,317.94 32.30,321.77 32.74,325.17 32.88,326.50 33.18,326.31 33.62,326.52 34.05,326.89 34.39,328.66 34.49,326.35 34.93,326.68 35.37,327.56 35.81,324.95 35.90,324.34 36.25,323.59 36.69,323.63 37.13,323.54 37.57,321.99 37.62,322.19 38.01,322.91 38.45,323.93 38.89,324.97 39.33,325.97 39.34,326.50 39.77,324.97 40.21,324.14 40.65,321.56 40.85,320.03 41.09,320.64 41.52,320.31 41.96,321.28 42.36,322.19 42.40,321.44 42.84,323.72 43.28,325.49 43.72,327.20 44.09,326.50 44.16,327.57 44.60,326.32 45.04,324.22 45.48,322.88 45.81,322.19 45.92,321.06 46.36,322.44 46.80,324.55 47.24,326.12 47.32,326.50 47.68,327.39 48.12,327.97 48.55,329.65 48.83,328.66 48.99,330.53 49.43,331.44 49.87,332.24 50.12,330.81 50.31,330.78 50.75,328.13 51.19,326.17 51.63,326.50 51.63,326.19 52.07,327.48 52.51,328.90 52.95,329.08 53.14,328.66 53.39,327.63 53.83,327.22 54.27,327.83 54.71,326.26 54.86,324.34 55.15,324.58 55.59,324.64 56.02,324.54 56.46,323.32 56.59,322.19 56.90,322.82 57.34,321.74 57.78,320.36 58.09,320.03 58.22,320.24 58.66,324.45 59.10,327.92 59.54,330.02 59.60,330.81 59.98,328.50 60.42,327.19 60.86,325.76 61.30,325.09 61.33,326.50 61.74,325.04 62.18,325.13 62.62,324.78 63.05,324.34 63.05,324.73 63.49,326.68 63.93,325.98 64.37,325.13 64.56,326.50 64.81,327.59 65.25,329.04 65.69,329.14 66.07,328.66 66.13,329.22 66.57,328.20 67.01,326.91 67.45,325.41 67.79,324.34 67.89,325.43 68.33,325.41 68.77,326.55 69.21,326.58 69.52,328.66 69.65,328.07 70.09,327.36 70.52,327.67 70.96,326.88 71.03,326.50 71.40,327.51 71.84,328.37 72.28,328.63 72.53,328.66 72.72,327.10 73.16,323.40 73.60,320.46 73.83,320.03 74.04,318.99 74.48,317.06 74.92,316.30 75.34,313.57 75.36,313.80 75.80,311.92 76.24,312.04 76.41,311.41 76.68,313.16 77.12,313.51 77.49,314.65 77.56,313.15 77.99,311.48 78.14,311.41 78.43,315.02 78.87,320.09 79.00,320.03 79.31,324.74 79.75,326.91 80.19,329.26 80.29,330.81 80.63,330.12 81.07,332.01 81.51,333.31 81.80,335.12 81.95,334.46 82.39,332.99 82.83,331.51 83.27,329.80 83.31,328.66 83.71,326.75 84.15,324.69 84.59,321.59 84.60,322.19 85.03,322.01 85.46,321.54 85.90,323.21 86.11,324.34 86.34,324.43 86.78,325.74 87.22,326.50 87.62,328.66 87.66,328.77 88.10,329.04 88.54,327.37 88.98,325.55 89.34,322.19 89.42,324.08 89.86,321.82 90.30,320.35 90.74,317.99 91.07,317.88 91.18,316.89 91.62,316.55 92.06,315.32 92.49,316.03 92.58,315.72 92.93,318.74 93.37,320.38 93.66,320.03 93.81,322.19 94.25,323.40 94.69,323.61 95.13,323.53 95.38,326.50 95.57,326.59 96.01,329.77 96.45,330.23 96.89,330.81 96.89,330.08 97.33,328.57 97.77,327.89 98.21,327.26 98.40,326.50 98.65,326.39 99.09,322.14 99.53,318.37 99.96,316.59 100.12,315.72 100.40,315.48 100.84,312.47 101.28,310.46 101.63,307.10 101.72,308.83 102.16,311.75 102.60,315.12 102.71,313.57 103.04,316.53 103.48,318.94 103.92,320.83 104.36,323.11 104.43,322.19 104.80,325.02 105.24,325.82 105.68,327.38 106.12,328.11 106.16,328.66 106.56,326.48 107.00,324.77 107.43,324.24 107.66,324.34 107.87,325.37 108.31,325.98 108.75,327.44 109.17,326.50 109.19,326.93 109.63,324.82 110.07,324.17 110.51,323.58 110.90,322.19 110.95,322.58 111.39,319.81 111.83,316.64 111.97,314.65 112.27,319.16 112.71,323.91 113.05,328.66 113.15,327.32 113.59,327.17 114.03,327.44 114.46,327.77 114.78,326.50 114.90,327.30 115.34,327.25 115.78,326.04 116.22,325.05 116.28,324.34 116.66,324.66 117.10,322.65 117.54,321.13 117.79,322.19 117.98,320.89 118.42,320.31 118.86,320.36 119.30,320.04 119.52,320.03 119.74,320.34 120.18,320.65 120.62,322.85 121.06,325.57 121.24,324.34 121.50,325.40 121.93,326.21 122.37,326.47 122.75,326.50 122.81,326.53 123.25,325.85 123.69,328.13 124.13,329.93 124.26,328.66 124.57,330.29 125.01,330.88 125.45,330.70 125.89,331.34 125.98,330.81 126.33,330.96 126.77,331.16 127.21,329.66 127.65,329.10 127.71,328.66 128.09,329.30 128.53,329.85 128.97,330.59 129.22,332.97 129.40,332.48 129.84,333.12 130.28,334.09 130.72,334.35 130.72,335.12 131.16,332.29 131.60,331.17 132.04,330.26 132.45,330.81 132.48,329.50 132.92,328.92 133.36,327.80 133.80,326.53 134.17,326.50 134.24,325.14 134.68,325.57 135.12,327.92 135.56,329.66 135.68,328.66 136.00,329.30 136.43,328.49 136.87,327.07 137.31,327.70 137.75,328.59 137.84,326.50 138.19,328.26 138.63,328.74 139.07,328.65 139.34,328.66 139.51,329.72 139.95,330.33 140.39,331.64 140.72,330.77 140.83,330.99 141.27,331.30 141.71,332.03 142.15,332.26 142.23,332.92 142.59,327.80 143.03,321.65 143.31,317.84 143.47,315.73 143.90,312.36 144.34,308.35 144.38,309.23 144.78,311.73 145.22,317.22 145.46,320.00 145.66,321.99 146.10,322.76 146.54,323.66 146.98,326.25 147.18,328.61 147.42,326.85 147.86,326.52 148.30,326.03 148.69,324.31 148.74,324.48 149.18,320.38 149.62,317.21 149.77,315.69 150.06,316.94 150.50,317.73 150.94,316.64 151.37,315.87 151.49,317.84 151.81,319.47 152.25,323.50 152.69,325.15 153.00,326.46 153.13,327.02 153.57,328.60 154.01,331.95 154.45,335.21 154.51,335.07 154.89,333.50 155.33,331.46 155.77,330.20 156.21,327.83 156.23,326.46 156.65,325.47 157.09,322.55 157.53,319.24 157.95,317.84 157.97,316.58 158.40,312.36 158.81,309.23 158.84,309.33 159.28,315.82 159.72,321.70 160.11,328.61 160.16,327.29 160.60,327.73 161.04,327.53 161.48,324.88 161.61,324.31 161.92,318.37 162.36,312.72 162.69,309.23 162.80,308.35 163.24,310.84 163.68,312.37 163.77,313.54 164.12,311.75 164.56,310.86 165.00,309.93 165.28,309.23 165.44,308.68 165.87,308.35 166.31,308.27 166.75,305.85 167.00,304.92 167.19,303.82 167.63,300.42 168.07,300.40 168.08,300.61 168.51,295.77 168.95,290.56 169.15,286.61 169.39,289.64 169.83,290.13 170.23,292.00 170.27,291.53 170.71,296.33 171.15,301.54 171.31,302.77 171.59,307.68 172.03,314.04 172.38,317.84 172.47,319.94 172.91,324.58 173.34,328.91 173.46,328.61 173.78,328.68 174.22,326.70 174.66,324.75 175.10,322.60 175.18,322.15 175.54,320.27 175.98,318.97 176.42,318.03 176.69,317.84 176.86,318.78 177.30,319.28 177.74,320.33 178.18,321.47 178.20,322.15 178.62,320.39 179.06,321.20 179.50,321.66 179.92,320.00 179.94,321.38 180.37,321.97 180.81,323.31 181.25,324.37 181.64,324.31 181.69,325.71 182.13,324.76 182.57,323.84 183.01,323.67 183.15,322.15 183.45,323.39 183.89,321.71 184.33,320.21 184.66,317.84 184.77,319.43 185.21,316.74 185.65,315.06 186.09,312.36 186.38,311.38 186.53,309.24 186.97,308.47 187.41,306.73 187.84,306.22 188.11,307.08 188.28,305.05 188.72,305.01 189.16,304.14 189.60,303.27 189.61,304.92 190.04,304.09 190.48,306.46 190.69,307.08 190.92,310.03 191.36,312.07 191.80,313.82 192.24,315.12 192.41,315.69 192.68,316.48 193.12,318.19 193.56,320.39 193.92,320.00 194.00,321.40 194.44,319.56 194.88,317.86 195.31,316.89 195.43,315.69 195.75,315.64 196.19,315.25 196.63,313.95 196.72,313.54 197.07,315.15 197.51,315.74 197.95,316.39 198.23,317.84 198.39,317.54 198.83,318.29 199.27,318.83 199.71,320.86 199.74,322.15 200.15,320.97 200.59,320.64 201.03,320.44 201.46,320.00 201.47,319.55 201.91,317.98 202.34,315.72 202.54,313.54 202.78,317.50 203.22,321.86 203.61,324.31 203.66,326.11 204.10,326.47 204.54,326.49 204.98,326.80 205.34,326.46 205.42,327.29 205.86,325.10 206.30,321.42 206.74,318.10 206.84,317.84 207.18,316.03 207.62,315.80 208.06,315.71 208.35,313.54 208.50,315.40 208.94,315.68 209.38,316.70 209.64,317.84 209.81,317.60 210.25,321.96 210.69,326.73 211.13,329.80 211.15,328.61 211.57,330.95 212.01,332.15 212.45,332.45 212.66,332.92 212.89,331.76 213.33,330.50 213.77,329.05 214.21,329.11 214.38,328.61 214.65,328.42 215.09,326.31 215.53,324.35 215.97,322.20 216.11,322.15 216.41,319.10 216.84,314.40 217.28,310.49 217.61,307.08 217.72,307.07 218.16,302.88 218.60,298.83 218.69,296.31 219.04,299.00 219.48,301.07 219.77,300.61 219.92,303.77 220.36,308.74 220.80,314.10 220.84,313.54 221.24,317.30 221.68,321.72 221.92,322.15 222.12,324.97 222.56,326.01 223.00,327.68 223.43,328.61 223.44,329.15 223.88,329.45 224.31,329.36 224.75,329.32 225.15,330.77 225.19,329.85 225.63,331.72 226.07,333.67 226.51,334.80 226.87,335.07 226.95,335.56 227.39,337.11 227.74,337.23 227.83,337.69 228.27,335.26 228.71,330.72 229.03,328.61 229.15,327.16 229.59,325.38 230.03,323.60 230.47,321.58 230.54,320.00 230.91,317.67 231.35,313.26 231.78,309.63 232.04,307.08 232.22,307.06 232.66,303.76 232.90,300.61 233.10,304.66 233.54,309.79 233.77,311.38 233.98,313.75 234.42,319.19 234.84,324.31 234.86,324.69 235.30,326.06 235.74,327.87 235.92,328.61 236.18,328.88 236.62,330.26 237.06,330.86 237.50,332.81 237.64,332.92 237.94,332.58 238.38,332.12 238.82,331.39 239.15,330.77 239.25,331.06 239.69,331.99 240.13,334.15 240.57,336.55 240.66,335.07 241.01,334.10 241.45,332.14 241.89,331.55 242.33,330.77 242.38,328.61 242.77,328.54 243.21,326.07 243.65,324.30 244.09,323.23 244.10,324.31 244.53,319.93 244.97,317.82 245.41,314.85 245.61,311.38 245.85,310.24 246.28,306.95 246.69,302.77 246.72,302.96 247.16,304.08 247.60,305.41 247.77,307.08 248.04,306.51 248.48,307.05 248.84,304.92 248.92,305.03 249.36,305.19 249.80,302.77 249.80,307.39 249.80,309.23" fill="none" stroke="#141414" stroke-width="1.05" stroke-linejoin="miter" stroke-miterlimit="4"/>
<path d="M30.10,314.04 30.10,315.72 30.54,311.90 30.72,311.41 30.98,311.88 31.42,314.65 31.86,317.69 32.23,320.03 32.30,319.14 32.74,319.59 33.18,321.43 33.62,323.09 33.74,324.34 34.05,322.19 34.49,320.59 34.93,319.24 35.37,318.62 35.47,317.88 35.81,318.29 36.25,318.09 36.69,318.09 37.13,315.78 37.19,315.72 37.57,315.37 38.01,317.86 38.45,320.26 38.70,320.03 38.89,321.70 39.33,322.92 39.77,323.55 40.21,323.39 40.21,324.34 40.65,324.32 41.09,326.90 41.50,328.66 41.52,328.88 41.96,331.37 42.40,331.56 42.84,332.19 43.01,332.97 43.28,330.85 43.72,329.50 44.09,328.66 44.16,328.52 44.60,328.09 45.04,327.12 45.48,325.73 45.81,324.34 45.92,324.15 46.36,322.84 46.80,321.66 47.24,320.50 47.32,322.19 47.68,320.42 48.12,320.62 48.55,320.39 48.83,321.11 48.99,320.74 49.43,321.08 49.87,322.17 50.31,321.48 50.55,322.19 50.75,321.38 51.19,321.80 51.63,322.22 52.07,320.00 52.28,320.03 52.51,317.80 52.95,318.32 53.39,318.03 53.78,317.88 53.83,317.85 54.27,316.68 54.71,315.09 55.15,313.46 55.29,313.57 55.59,309.52 56.02,304.20 56.46,299.56 56.59,298.48 56.90,289.86 57.34,276.92 57.45,273.70 57.78,284.23 58.22,298.54 58.31,302.79 58.66,306.31 59.10,312.45 59.17,313.57 59.54,316.42 59.98,320.51 60.25,320.03 60.42,319.29 60.86,316.66 61.30,317.76 61.33,317.88 61.74,319.35 62.18,317.68 62.62,316.26 63.05,316.80 63.05,316.21 63.49,316.72 63.93,317.45 64.37,317.51 64.56,317.88 64.81,316.43 65.25,315.30 65.69,316.22 66.07,315.72 66.13,317.21 66.57,318.38 67.01,318.72 67.36,320.03 67.45,319.07 67.89,313.38 68.22,311.41 68.33,311.11 68.77,316.33 69.09,322.19 69.21,320.71 69.65,322.58 70.09,324.01 70.38,326.50 70.52,325.75 70.96,328.50 71.40,331.12 71.84,332.33 72.10,332.97 72.28,332.88 72.72,332.29 73.16,332.55 73.60,332.22 73.83,330.81 74.04,330.21 74.48,327.39 74.92,326.31 75.34,324.34 75.36,324.73 75.80,323.93 76.24,324.24 76.68,323.45 76.84,322.19 77.12,324.02 77.56,323.79 77.99,324.09 78.43,325.21 78.57,324.34 78.87,325.31 79.31,323.36 79.75,321.46 80.19,322.02 80.29,322.19 80.63,323.04 81.07,323.70 81.51,323.79 81.80,324.34 81.95,324.07 82.39,325.23 82.83,327.18 83.27,327.98 83.31,328.66 83.71,328.02 84.15,327.05 84.59,325.45 84.60,326.50 85.03,322.63 85.46,320.47 85.90,319.07 86.11,317.88 86.34,319.44 86.78,321.43 87.19,322.19 87.22,323.66 87.66,324.58 88.10,325.28 88.54,325.95 88.91,326.50 88.98,326.09 89.42,325.51 89.86,326.10 90.30,326.28 90.42,328.66 90.74,327.64 91.18,329.48 91.62,330.53 91.93,330.81 92.06,331.04 92.49,331.37 92.93,331.48 93.37,332.48 93.66,332.97 93.81,333.73 94.25,333.09 94.69,331.62 95.13,330.27 95.38,328.66 95.57,328.40 96.01,326.36 96.45,326.05 96.89,326.50 96.89,325.33 97.33,325.24 97.77,325.34 98.21,325.45 98.40,324.34 98.65,326.04 99.09,326.77 99.53,325.80 99.96,325.34 100.12,325.42 100.40,324.50 100.84,322.39 101.28,321.31 101.72,320.50 101.84,322.19 102.16,321.69 102.60,323.28 103.04,325.36 103.35,326.50 103.48,326.33 103.92,324.55 104.36,323.26 104.80,323.14 104.86,324.34 105.24,322.28 105.68,321.74 106.12,321.72 106.56,320.99 106.59,322.19 107.00,322.86 107.43,323.57 107.87,324.16 108.31,324.34 108.31,324.56 108.75,322.48 109.19,320.68 109.63,318.78 109.82,320.03 110.07,319.13 110.51,320.64 110.95,322.13 111.33,322.19 111.39,322.88 111.83,326.52 112.27,328.64 112.71,329.98 113.05,332.97 113.15,333.51 113.59,332.65 114.03,330.68 114.46,328.89 114.78,326.50 114.90,326.82 115.34,325.03 115.78,324.27 116.22,321.91 116.28,322.19 116.66,319.58 117.10,319.29 117.54,319.03 117.79,317.88 117.98,317.04 118.42,316.53 118.86,315.05 119.30,314.46 119.52,314.65 119.74,314.66 120.18,316.15 120.62,317.48 121.06,318.72 121.24,320.03 121.50,319.36 121.93,320.14 122.37,321.86 122.75,323.27 122.81,322.92 123.25,324.41 123.69,325.24 124.13,325.22 124.26,326.50 124.57,326.59 125.01,328.07 125.45,326.99 125.89,326.46 125.98,327.58 126.33,325.37 126.77,325.39 127.21,325.15 127.65,326.33 127.71,326.50 128.09,325.73 128.53,324.54 128.97,323.23 129.22,322.19 129.40,323.58 129.84,325.60 130.28,327.06 130.72,329.07 130.72,328.66 131.16,330.70 131.60,331.46 132.04,331.99 132.45,332.97 132.48,332.78 132.92,330.81 133.36,328.74 133.80,328.16 134.17,328.66 134.24,328.19 134.68,328.62 135.12,330.05 135.56,330.55 135.68,330.81 136.00,330.25 136.43,329.72 136.87,329.04 137.31,329.32 137.75,330.00 137.84,328.66 138.19,328.61 138.63,327.44 139.07,327.34 139.34,326.50 139.51,327.72 139.95,326.61 140.39,325.25 140.72,326.46 140.83,325.57 141.27,326.39 141.71,327.48 142.15,328.29 142.23,328.61 142.59,328.81 143.03,329.78 143.47,331.56 143.74,332.92 143.90,332.21 144.34,331.91 144.78,328.57 145.22,326.02 145.46,326.46 145.66,323.97 146.10,322.18 146.54,319.13 146.98,317.51 147.18,317.84 147.42,316.94 147.86,317.10 148.30,317.06 148.69,315.69 148.74,314.75 149.18,313.54 149.62,314.33 150.06,315.30 150.20,315.69 150.50,315.00 150.94,314.95 151.37,315.43 151.81,316.58 151.92,316.77 152.25,317.22 152.69,318.26 153.13,318.89 153.57,320.05 153.65,320.00 154.01,322.34 154.45,323.43 154.89,323.71 155.15,324.31 155.33,323.50 155.77,325.57 156.21,326.73 156.65,327.89 156.66,328.61 157.09,328.00 157.53,329.53 157.97,331.34 158.38,332.92 158.40,332.82 158.84,332.04 159.28,331.44 159.72,331.50 160.11,328.61 160.16,328.94 160.60,325.70 161.04,322.43 161.48,321.99 161.61,322.15 161.92,320.93 162.36,318.92 162.80,318.20 163.12,315.69 163.24,316.47 163.68,314.07 164.12,311.67 164.56,311.43 164.85,311.38 165.00,311.35 165.44,310.08 165.87,309.58 166.31,309.32 166.57,310.31 166.75,309.46 167.19,309.98 167.63,309.82 168.07,309.24 168.08,307.08 168.51,307.87 168.95,306.81 169.39,308.41 169.58,309.23 169.83,309.97 170.27,311.40 170.71,313.08 170.88,313.54 171.15,317.84 171.59,322.12 172.03,327.36 172.38,332.92 172.47,331.77 172.91,331.34 173.34,330.83 173.78,330.00 173.89,328.61 174.22,329.98 174.66,329.35 175.10,328.30 175.54,327.86 175.61,326.46 175.98,327.13 176.42,327.73 176.86,328.69 177.30,328.73 177.34,327.54 177.74,328.68 178.18,328.12 178.62,327.90 178.84,326.46 179.06,326.45 179.50,323.58 179.94,324.73 180.35,324.31 180.37,325.38 180.81,323.71 181.25,322.91 181.69,323.08 182.08,322.15 182.13,323.23 182.57,321.76 183.01,319.15 183.45,316.78 183.80,315.69 183.89,315.58 184.33,314.53 184.77,313.14 185.21,311.84 185.31,310.31 185.65,311.79 186.09,311.82 186.53,312.13 186.81,311.38 186.97,311.81 187.41,313.09 187.84,315.04 188.11,315.69 188.28,316.62 188.72,317.22 189.16,318.10 189.60,318.37 189.61,317.84 190.04,319.18 190.48,319.76 190.92,321.52 191.12,322.15 191.36,321.74 191.80,320.93 192.24,319.70 192.68,318.89 192.84,320.00 193.12,318.83 193.56,319.68 194.00,320.00 194.44,320.92 194.57,322.15 194.88,321.59 195.31,321.77 195.75,321.20 196.08,320.00 196.19,320.30 196.63,322.25 197.07,323.38 197.51,324.86 197.58,324.31 197.95,325.75 198.39,326.34 198.83,326.18 199.27,327.15 199.31,326.46 199.71,328.86 200.15,329.08 200.59,329.71 201.03,330.08 201.03,330.77 201.47,331.46 201.91,332.77 202.34,334.76 202.54,332.92 202.78,333.53 203.22,331.66 203.66,329.50 204.04,328.61 204.10,327.34 204.54,325.92 204.98,325.69 205.42,326.71 205.77,324.31 205.86,325.27 206.30,324.85 206.74,324.33 207.18,324.00 207.49,322.15 207.62,323.83 208.06,324.45 208.50,324.96 208.94,325.58 209.00,324.31 209.38,327.26 209.81,328.54 210.25,329.28 210.51,328.61 210.69,329.82 211.13,330.32 211.57,330.94 212.01,332.37 212.23,332.92 212.45,332.41 212.89,331.93 213.33,331.82 213.77,330.99 213.95,330.77 214.21,330.23 214.65,328.59 215.09,326.32 215.46,324.31 215.53,324.71 215.97,323.13 216.41,321.53 216.84,321.16 216.97,320.00 217.28,320.33 217.72,319.39 218.16,317.85 218.26,317.84 218.60,319.67 219.04,321.32 219.48,322.38 219.77,322.15 219.92,323.47 220.36,325.68 220.80,328.27 221.24,329.14 221.27,328.61 221.68,329.75 222.12,329.49 222.56,330.40 223.00,331.78 223.00,330.77 223.44,332.09 223.88,333.01 224.31,333.29 224.72,332.92 224.75,333.29 225.19,331.20 225.63,329.76 226.07,327.33 226.23,328.61 226.51,327.37 226.95,327.06 227.39,326.58 227.74,326.46 227.83,326.08 228.27,326.33 228.71,327.93 229.15,330.16 229.46,330.77 229.59,330.25 230.03,329.48 230.47,328.55 230.91,327.91 231.18,328.61 231.35,328.55 231.78,331.11 232.22,331.78 232.66,332.46 232.69,332.92 233.10,330.25 233.54,329.80 233.98,328.37 234.20,326.46 234.42,325.74 234.86,323.85 235.30,325.06 235.74,325.89 235.92,324.31 236.18,325.16 236.62,323.73 237.06,322.49 237.50,321.19 237.64,320.00 237.94,323.19 238.38,325.13 238.82,326.92 239.15,328.61 239.25,328.38 239.69,330.25 240.13,331.41 240.57,330.25 240.66,330.77 241.01,329.97 241.45,330.95 241.89,331.79 242.33,331.90 242.38,332.92 242.77,330.07 243.21,329.88 243.65,329.31 244.09,329.10 244.10,328.61 244.53,323.96 244.97,317.84 244.97,317.55 245.41,307.86 245.85,298.15 246.04,292.00 246.28,294.75 246.72,298.79 247.12,302.77 247.16,302.89 247.60,301.76 248.04,298.59 248.41,296.31 248.48,294.90 248.92,289.44 249.27,285.54 249.36,283.98 249.80,257.54 249.80,259.69 249.80,276.92 249.80,280.30" fill="none" stroke="#f41010" stroke-width="1.05" stroke-linejoin="miter" stroke-miterlimit="4"/>
<path d="M253.90,313.57 253.90,316.44 254.34,317.38 254.72,317.88 254.78,318.81 255.22,320.38 255.66,322.55 256.10,324.55 256.23,324.34 256.54,325.57 256.98,326.26 257.42,327.04 257.74,328.66 257.85,327.89 258.29,325.49 258.73,323.43 259.17,321.65 259.47,320.03 259.61,320.05 260.05,316.26 260.49,313.43 260.93,311.43 261.19,311.41 261.37,309.87 261.81,308.19 262.25,306.79 262.69,305.67 262.70,307.10 263.13,307.90 263.57,310.38 264.01,312.01 264.21,313.57 264.45,314.04 264.88,316.75 265.32,319.51 265.50,320.03 265.76,319.38 266.20,317.25 266.64,316.54 267.01,315.72 267.08,314.89 267.52,313.59 267.96,313.09 268.40,310.97 268.52,311.41 268.84,310.97 269.28,310.89 269.72,311.54 270.16,312.33 270.24,313.57 270.60,313.78 271.04,316.00 271.48,315.68 271.92,315.71 271.97,315.72 272.35,313.20 272.79,311.82 273.23,310.60 273.47,309.26 273.67,311.29 274.11,313.43 274.55,315.62 274.98,315.72 274.99,317.06 275.43,317.03 275.87,317.38 276.31,316.69 276.71,317.88 276.75,317.25 277.19,315.86 277.63,313.64 278.07,311.78 278.43,309.26 278.51,309.78 278.95,307.63 279.39,305.97 279.72,302.79 279.82,304.79 280.26,305.21 280.70,306.73 281.02,307.10 281.14,309.65 281.58,316.65 282.02,323.42 282.09,324.34 282.46,327.87 282.90,331.81 283.17,332.97 283.34,332.68 283.78,330.97 284.22,331.19 284.66,330.94 284.90,330.81 285.10,330.64 285.54,330.93 285.98,333.65 286.41,335.12 286.42,335.90 286.86,334.18 287.29,331.61 287.73,329.50 287.91,328.66 288.17,328.64 288.61,328.45 289.05,328.43 289.49,327.78 289.64,326.50 289.93,325.58 290.37,322.79 290.81,320.55 291.25,317.77 291.36,317.88 291.69,315.39 292.13,312.13 292.57,309.61 292.87,309.26 293.01,308.43 293.45,310.02 293.89,312.36 294.32,314.99 294.38,315.72 294.76,317.68 295.20,321.41 295.64,324.99 295.67,324.34 296.08,321.53 296.52,318.38 296.96,316.56 297.18,315.72 297.40,315.35 297.84,314.26 298.26,313.57 298.28,313.22 298.72,304.07 299.16,295.64 299.55,287.71 299.60,287.57 300.04,292.59 300.41,298.48 300.48,297.87 300.92,306.12 301.36,314.51 301.49,315.72 301.79,317.49 302.23,320.24 302.67,322.42 303.00,324.34 303.11,323.69 303.55,323.73 303.99,324.54 304.43,326.14 304.72,326.50 304.87,325.12 305.31,323.73 305.75,322.05 306.19,321.02 306.45,320.03 306.63,320.74 307.07,322.27 307.51,324.75 307.95,326.99 307.96,326.50 308.39,325.81 308.82,323.79 309.26,321.77 309.47,320.03 309.70,317.67 310.14,311.75 310.58,305.58 310.76,302.79 311.02,306.31 311.46,311.94 311.62,313.57 311.90,317.31 312.34,321.19 312.78,324.94 312.91,326.50 313.22,326.96 313.66,328.07 314.10,329.12 314.42,330.81 314.54,330.40 314.98,328.73 315.42,325.02 315.86,322.25 315.93,322.19 316.29,321.48 316.73,320.22 317.17,319.43 317.61,318.30 317.66,317.88 318.05,317.65 318.49,317.56 318.93,316.50 319.37,315.04 319.38,315.72 319.81,316.26 320.25,318.58 320.69,320.48 320.89,322.19 321.13,322.65 321.57,324.82 322.01,326.77 322.40,326.50 322.45,327.94 322.89,327.16 323.33,326.77 323.76,326.14 324.12,324.34 324.20,324.49 324.64,313.98 325.08,302.49 325.41,294.17 325.52,294.92 325.96,301.22 326.28,307.10 326.40,308.00 326.84,316.37 327.28,325.55 327.35,326.50 327.72,328.98 328.16,328.30 328.60,327.34 328.86,328.66 329.04,326.82 329.48,324.51 329.92,323.27 330.36,322.39 330.59,322.19 330.79,323.06 331.23,325.65 331.67,326.12 332.11,326.69 332.31,326.50 332.55,327.46 332.99,328.02 333.43,328.18 333.82,328.66 333.87,328.22 334.31,329.45 334.75,330.72 335.19,331.26 335.33,330.81 335.63,331.43 336.07,328.90 336.51,326.35 336.95,324.28 337.05,324.34 337.39,323.81 337.83,324.42 338.26,325.15 338.70,325.18 338.78,326.50 339.14,326.46 339.58,328.21 340.02,327.95 340.28,328.66 340.46,328.17 340.90,328.85 341.34,329.73 341.78,329.78 341.79,330.81 342.22,328.14 342.66,328.43 343.10,327.67 343.52,326.50 343.54,326.34 343.98,325.03 344.42,323.72 344.86,323.33 345.24,322.19 345.30,322.05 345.73,321.20 346.17,320.22 346.61,318.22 346.75,317.88 347.05,316.27 347.49,314.24 347.93,313.87 348.26,313.57 348.37,314.40 348.81,315.38 349.25,315.91 349.69,315.71 349.98,315.72 350.13,314.07 350.57,313.94 351.01,313.60 351.45,311.88 351.71,311.41 351.89,309.67 352.33,309.63 352.76,308.84 353.20,308.53 353.22,309.26 353.64,312.42 354.08,315.29 354.52,318.24 354.72,320.03 354.96,320.15 355.40,322.64 355.84,325.86 356.28,328.25 356.45,328.66 356.72,330.41 357.16,331.91 357.60,334.30 358.04,335.88 358.17,335.12 358.48,333.62 358.92,330.22 359.36,328.10 359.68,328.66 359.80,326.24 360.23,325.44 360.67,324.58 361.11,324.40 361.19,324.34 361.55,323.60 361.99,323.73 362.43,323.32 362.87,323.34 362.91,322.19 363.31,322.37 363.75,320.34 364.19,320.47 364.63,319.96 364.72,320.00 365.07,322.47 365.51,325.83 365.95,329.21 366.23,330.77 366.39,331.72 366.83,333.90 367.27,336.70 367.70,338.34 367.74,339.38 368.14,337.37 368.58,335.43 369.02,333.42 369.46,330.77 369.46,331.00 369.90,330.86 370.34,329.63 370.78,328.45 371.18,326.46 371.22,327.27 371.66,327.55 372.10,327.76 372.54,328.52 372.69,328.61 372.98,327.02 373.42,324.27 373.86,322.08 374.20,322.15 374.30,321.28 374.73,323.40 375.17,325.06 375.49,326.46 375.61,326.44 376.05,328.10 376.49,328.33 376.93,327.93 377.00,328.61 377.37,326.39 377.81,324.64 378.25,323.81 378.51,324.31 378.69,322.17 379.13,321.96 379.57,320.47 380.01,319.32 380.23,320.00 380.45,320.01 380.89,321.67 381.33,324.92 381.77,327.71 381.95,328.61 382.20,330.34 382.64,330.34 383.08,330.82 383.46,332.92 383.52,331.87 383.96,330.65 384.40,330.26 384.84,330.81 384.97,330.77 385.28,330.97 385.72,329.25 386.16,326.66 386.60,326.83 386.69,326.46 387.04,327.34 387.48,325.74 387.92,324.79 388.36,323.58 388.41,324.31 388.80,323.58 389.24,323.29 389.67,323.31 389.92,322.15 390.11,323.11 390.55,320.90 390.99,318.32 391.43,317.84 391.43,317.24 391.87,316.88 392.31,316.44 392.75,316.56 393.15,315.69 393.19,317.14 393.63,315.83 394.07,314.80 394.51,314.10 394.88,311.38 394.95,313.20 395.39,313.85 395.83,314.28 396.27,314.71 396.38,313.54 396.70,313.79 397.14,312.29 397.58,310.71 397.89,309.23 398.02,310.71 398.46,312.53 398.90,313.86 399.34,315.66 399.61,315.69 399.78,316.45 400.22,317.81 400.66,319.02 401.10,319.12 401.34,320.00 401.54,317.46 401.98,314.89 402.42,311.56 402.84,309.23 402.86,309.22 403.30,307.20 403.74,305.63 404.17,302.91 404.35,302.77 404.61,300.94 405.05,298.79 405.49,299.11 405.64,298.46 405.93,301.35 406.37,301.46 406.81,302.22 407.15,304.92 407.25,304.56 407.69,306.67 408.13,306.51 408.57,306.97 408.66,307.08 409.01,308.62 409.45,310.05 409.89,311.90 409.95,311.38 410.33,311.40 410.77,310.61 411.21,310.55 411.46,309.23 411.64,310.13 412.08,311.33 412.52,310.81 412.96,311.08 412.97,311.38 413.40,311.45 413.84,312.48 414.26,313.54 414.28,313.39 414.72,313.12 415.16,313.28 415.60,312.43 415.77,311.38 416.04,313.83 416.48,315.94 416.92,317.56 417.28,317.84 417.36,319.88 417.80,319.47 418.24,319.65 418.67,321.43 419.00,322.15 419.11,323.84 419.55,324.34 419.99,324.56 420.43,326.45 420.72,326.46 420.87,327.95 421.31,327.98 421.75,327.06 422.19,329.08 422.23,328.61 422.63,329.27 423.07,326.90 423.51,324.72 423.74,324.31 423.95,322.96 424.39,322.26 424.83,320.48 425.27,320.29 425.46,320.00 425.71,320.94 426.14,322.73 426.58,322.96 427.02,322.71 427.18,324.31 427.46,323.56 427.90,324.94 428.34,325.96 428.69,328.61 428.78,327.26 429.22,328.27 429.66,329.78 430.10,331.05 430.20,330.77 430.54,331.90 430.98,332.20 431.42,333.00 431.86,333.77 431.92,332.92 432.30,333.68 432.74,332.33 433.18,330.60 433.61,328.56 433.64,328.61 434.05,329.01 434.49,329.71 434.93,332.59 435.15,332.92 435.37,332.99 435.81,330.78 436.25,328.18 436.66,326.46 436.69,326.34 437.13,325.65 437.57,325.11 438.01,324.14 438.38,324.31 438.45,323.23 438.89,324.96 439.33,326.45 439.77,327.66 440.11,328.61 440.21,329.33 440.64,330.55 441.08,331.68 441.52,333.30 441.61,332.92 441.96,332.59 442.40,330.22 442.84,328.33 443.12,328.61 443.28,328.62 443.72,329.61 444.16,330.38 444.60,331.81 444.84,330.77 445.04,331.73 445.48,331.37 445.92,332.28 446.36,332.47 446.57,332.92 446.80,332.67 447.24,333.14 447.68,333.30 448.07,335.07 448.11,334.84 448.55,335.90 448.99,336.92 449.43,337.48 449.58,337.23 449.87,337.49 450.31,336.68 450.75,335.84 451.19,334.71 451.30,332.92 451.63,332.85 452.07,330.78 452.51,329.14 452.95,327.92 453.03,328.61 453.39,326.57 453.83,327.17 454.27,328.49 454.54,326.46 454.71,327.13 455.15,326.33 455.58,325.71 456.02,325.25 456.04,324.31 456.46,323.42 456.90,322.09 457.34,319.92 457.77,317.84 457.78,318.68 458.22,318.32 458.66,317.26 458.84,315.69 459.10,317.08 459.54,318.71 459.98,320.43 460.35,322.15 460.42,322.11 460.86,323.15 461.30,324.81 461.74,325.27 462.07,326.46 462.18,326.03 462.62,327.23 463.05,327.76 463.49,328.00 463.80,328.61 463.93,327.46 464.37,325.92 464.81,325.80 465.25,325.96 465.30,326.46 465.69,326.09 466.13,327.60 466.57,328.54 466.81,328.61 467.01,327.97 467.45,326.28 467.89,323.37 468.10,322.15 468.33,317.29 468.77,307.43 468.97,302.77 469.21,299.50 469.65,293.41 469.83,292.00 470.08,293.14 470.52,296.44 470.69,298.46 470.96,300.64 471.40,304.50 471.77,307.08 471.84,306.50 472.28,294.81 472.41,289.85 472.72,270.57 473.06,246.77 473.16,248.67 473.49,251.08 473.60,251.06" fill="none" stroke="#141414" stroke-width="1.05" stroke-linejoin="miter" stroke-miterlimit="4"/>
<path d="M253.90,231.67 253.90,264.00 253.90,290.91 254.08,307.10 254.34,314.54 254.72,322.19 254.78,323.84 255.22,324.24 255.66,325.75 256.10,326.41 256.23,328.66 256.54,328.35 256.98,330.47 257.42,332.27 257.74,330.81 257.85,332.63 258.29,334.22 258.73,335.13 259.17,335.15 259.47,335.12 259.61,335.68 260.05,332.40 260.49,329.98 260.93,328.01 261.19,328.66 261.37,326.25 261.81,322.74 262.25,319.74 262.69,316.92 262.70,317.88 263.13,316.64 263.57,315.92 264.01,313.96 264.21,311.41 264.45,313.93 264.88,314.43 265.32,314.41 265.76,313.88 265.93,315.72 266.20,313.11 266.64,311.27 267.08,308.89 267.52,307.06 267.66,304.95 267.96,308.09 268.40,310.67 268.84,313.17 269.16,313.57 269.28,314.96 269.72,316.40 270.16,317.64 270.60,318.91 270.67,320.03 271.04,318.57 271.48,317.95 271.92,318.15 272.35,318.10 272.40,317.88 272.79,319.74 273.23,320.70 273.67,321.94 274.11,323.33 274.12,322.19 274.55,322.65 274.99,322.24 275.43,322.01 275.63,320.03 275.87,320.42 276.31,318.39 276.75,316.81 277.14,313.57 277.19,314.68 277.63,309.21 278.07,304.42 278.43,298.48 278.51,298.64 278.95,292.72 279.39,286.77 279.82,280.20 279.94,280.16 280.26,284.05 280.70,291.07 281.02,294.17 281.14,297.50 281.58,302.14 282.02,306.90 282.09,307.10 282.46,306.86 282.90,308.44 283.34,309.13 283.60,309.26 283.78,308.48 284.22,306.39 284.66,304.40 284.90,302.79 285.10,304.95 285.54,306.57 285.98,307.64 286.41,311.41 286.42,311.00 286.86,313.42 287.29,315.95 287.73,317.56 287.91,317.88 288.17,318.27 288.61,317.96 289.05,319.01 289.49,320.37 289.64,320.03 289.93,320.90 290.37,321.56 290.81,321.56 291.25,322.34 291.36,322.19 291.69,322.10 292.13,321.89 292.57,320.70 292.87,320.03 293.01,319.64 293.45,319.47 293.89,321.61 294.32,323.75 294.38,322.19 294.76,324.01 295.20,324.28 295.64,324.29 296.08,325.98 296.10,326.50 296.52,326.61 296.96,326.78 297.40,327.85 297.83,328.66 297.84,327.80 298.28,326.70 298.72,324.54 299.16,324.43 299.34,324.34 299.60,323.75 300.04,323.89 300.48,323.17 300.84,322.19 300.92,322.49 301.36,322.03 301.79,323.58 302.23,325.13 302.57,324.34 302.67,325.31 303.11,323.59 303.55,322.76 303.99,321.82 304.29,320.03 304.43,320.56 304.87,320.16 305.31,318.75 305.75,317.24 305.80,317.88 306.19,318.74 306.63,320.20 307.07,321.71 307.31,320.03 307.51,321.11 307.95,321.71 308.39,321.26 308.82,322.48 309.03,322.19 309.26,323.39 309.70,324.58 310.14,325.19 310.58,326.03 310.76,326.50 311.02,327.67 311.46,329.51 311.90,330.65 312.27,332.97 312.34,333.16 312.78,332.59 313.22,331.85 313.66,330.29 313.78,328.66 314.10,328.34 314.54,327.01 314.98,325.71 315.42,324.09 315.50,322.19 315.86,322.76 316.29,319.97 316.73,317.59 317.17,314.90 317.22,315.72 317.61,316.04 318.05,317.13 318.49,316.54 318.73,317.88 318.93,316.88 319.37,317.83 319.81,319.06 320.24,320.03 320.25,320.27 320.69,322.61 321.13,324.95 321.57,325.73 321.97,326.50 322.01,326.41 322.45,328.36 322.89,331.11 323.33,332.78 323.69,335.12 323.76,334.84 324.20,334.49 324.64,334.77 325.08,335.91 325.20,337.28 325.52,335.97 325.96,334.43 326.40,331.92 326.71,330.81 326.84,329.82 327.28,327.58 327.72,327.16 328.16,326.81 328.43,324.34 328.60,325.04 329.04,323.68 329.48,321.64 329.92,320.53 330.16,320.03 330.36,319.97 330.79,318.52 331.23,316.57 331.66,315.72 331.67,316.40 332.11,319.00 332.55,319.72 332.99,320.61 333.17,320.03 333.43,322.49 333.87,323.79 334.31,324.36 334.75,325.17 334.90,326.50 335.19,327.17 335.63,328.53 336.07,327.82 336.51,327.93 336.62,328.66 336.95,327.92 337.39,328.34 337.83,326.06 338.13,324.34 338.26,323.73 338.70,322.93 339.14,321.40 339.58,322.57 339.64,322.19 340.02,323.67 340.46,322.19 340.90,321.78 341.34,321.23 341.36,320.03 341.78,320.84 342.22,319.58 342.66,318.35 343.09,315.72 343.10,316.99 343.54,318.47 343.98,319.95 344.42,321.31 344.59,322.19 344.86,322.60 345.30,324.76 345.73,326.68 346.10,328.66 346.17,329.01 346.61,328.45 347.05,327.56 347.49,326.47 347.83,326.50 347.93,326.16 348.37,326.11 348.81,325.41 349.25,324.01 349.55,322.19 349.69,323.26 350.13,322.13 350.57,320.48 351.01,319.33 351.06,317.88 351.45,317.75 351.89,315.60 352.33,313.69 352.57,313.57 352.76,313.39 353.20,313.88 353.64,314.50 354.08,314.97 354.29,315.72 354.52,315.74 354.96,317.46 355.40,319.08 355.84,319.52 356.02,320.03 356.28,319.42 356.72,319.44 357.16,320.19 357.53,321.11 357.60,320.65 358.04,322.15 358.48,321.75 358.92,322.46 359.36,321.47 359.68,322.19 359.80,321.02 360.23,320.84 360.67,321.16 361.11,321.33 361.55,321.11 361.84,320.03 361.99,321.39 362.43,322.08 362.87,323.49 363.31,323.31 363.34,322.19 363.75,321.06 364.19,318.92 364.63,317.56 364.72,317.84 365.07,317.49 365.51,316.50 365.58,315.69 365.95,318.51 366.39,320.94 366.83,322.42 366.88,322.15 367.27,324.13 367.70,325.59 368.14,327.34 368.38,328.61 368.58,327.29 369.02,327.20 369.46,327.22 369.89,326.46 369.90,326.50 370.34,326.36 370.78,326.05 371.22,324.04 371.62,324.31 371.66,322.53 372.10,322.94 372.54,323.25 372.98,322.36 373.34,320.00 373.42,321.26 373.86,322.62 374.30,323.43 374.73,324.43 374.85,326.46 375.17,326.27 375.61,328.19 376.05,330.55 376.35,330.77 376.49,331.20 376.93,331.55 377.37,330.84 377.81,330.83 378.08,332.92 378.25,332.27 378.69,331.73 379.13,331.74 379.57,330.78 379.80,328.61 380.01,330.21 380.45,329.71 380.89,328.73 381.31,326.46 381.33,327.61 381.77,325.89 382.20,325.15 382.64,323.95 382.81,322.15 383.08,322.70 383.52,320.45 383.96,318.50 384.40,317.72 384.54,317.84 384.84,317.91 385.28,317.17 385.72,317.72 386.16,317.47 386.26,315.69 386.60,317.26 387.04,316.82 387.48,317.22 387.77,317.84 387.92,316.68 388.36,315.59 388.80,313.68 389.24,314.29 389.28,313.54 389.67,313.84 390.11,312.83 390.55,311.72 390.99,310.19 391.00,309.23 391.43,311.42 391.87,311.86 392.31,312.88 392.72,311.38 392.75,313.45 393.19,311.61 393.63,309.24 394.07,307.31 394.23,307.08 394.51,306.58 394.95,307.75 395.31,309.23 395.39,309.53 395.83,309.25 396.27,308.53 396.70,307.44 397.03,307.08 397.14,306.08 397.58,305.64 398.02,304.53 398.46,304.37 398.54,302.77 398.90,305.42 399.34,307.69 399.78,311.19 400.05,313.54 400.22,313.26 400.66,313.44 401.10,313.54 401.54,313.92 401.77,315.69 401.98,312.95 402.42,310.44 402.86,307.49 403.30,304.26 403.49,304.92 403.74,302.56 404.17,302.26 404.61,301.39 405.00,298.46 405.05,299.57 405.49,299.40 405.93,298.29 406.37,297.13 406.51,296.31 406.81,294.37 407.25,292.51 407.69,290.71 407.80,289.85 408.13,288.63 408.57,287.51 408.88,285.54 409.01,286.20 409.45,287.81 409.89,290.54 409.95,292.00 410.33,292.76 410.77,294.92 411.21,296.46 411.46,298.46 411.64,297.73 412.08,296.54 412.52,296.06 412.96,294.77 412.97,296.31 413.40,293.87 413.84,293.55 414.26,294.15 414.28,293.33 414.72,294.66 415.16,295.92 415.60,297.61 415.77,298.46 416.04,298.65 416.48,299.15 416.92,300.46 417.28,302.77 417.36,301.58 417.80,302.68 418.24,302.94 418.57,304.92 418.67,304.18 419.11,302.17 419.55,300.80 419.99,300.21 420.08,300.61 420.43,300.26 420.87,299.07 421.31,296.96 421.58,296.31 421.75,295.65 422.19,295.51 422.63,297.89 422.88,298.46 423.07,300.11 423.51,300.49 423.95,301.56 424.38,304.92 424.39,303.51 424.83,306.02 425.27,308.09 425.71,310.77 425.89,311.38 426.14,312.74 426.58,312.52 427.02,312.18 427.46,313.97 427.61,315.69 427.90,313.42 428.34,312.74 428.78,312.45 429.22,309.76 429.34,309.23 429.66,310.59 430.10,311.24 430.54,313.12 430.84,315.69 430.98,313.83 431.42,311.58 431.86,310.60 432.30,309.68 432.35,309.23 432.74,307.72 433.18,303.75 433.61,299.13 433.64,300.61 434.05,302.95 434.49,307.29 434.93,311.52 435.15,313.54 435.37,313.82 435.81,314.72 436.25,316.87 436.66,320.00 436.69,318.18 437.13,320.29 437.57,322.81 438.01,324.79 438.38,324.31 438.45,324.34 438.89,324.83 439.33,325.46 439.77,327.23 440.11,328.61 440.21,328.16 440.64,328.97 441.08,330.67 441.52,331.81 441.61,330.77 441.96,329.78 442.40,327.56 442.84,325.91 443.12,326.46 443.28,324.43 443.72,322.62 444.16,321.21 444.60,319.29 444.84,320.00 445.04,318.64 445.48,317.54 445.92,317.51 446.36,318.50 446.57,317.84 446.80,320.28 447.24,321.97 447.68,324.40 448.07,324.31 448.11,325.34 448.55,326.67 448.99,327.54 449.43,328.87 449.58,328.61 449.87,329.93 450.31,331.02 450.75,330.00 451.19,328.94 451.30,330.77 451.63,329.21 452.07,328.70 452.51,328.09 452.95,325.92 453.03,326.46 453.39,323.72 453.83,323.60 454.27,323.12 454.54,322.15 454.71,322.50 455.15,319.09 455.58,316.46 456.02,312.84 456.04,313.54 456.46,307.66 456.90,301.77 457.34,296.31 457.34,297.02 457.78,306.79 458.20,313.54 458.22,315.52 458.66,316.76 459.10,317.25 459.49,317.84 459.54,316.63 459.98,313.13 460.42,311.08 460.86,308.75 461.00,309.23 461.30,309.76 461.74,311.72 462.18,314.62 462.50,317.84 462.62,316.62 463.05,315.72 463.49,315.00 463.80,315.69 463.93,314.73 464.37,318.05 464.81,320.73 465.25,324.04 465.30,324.31 465.69,326.52 466.13,329.28 466.57,330.00 466.81,330.77 467.01,331.22 467.45,332.07 467.89,333.46 468.10,332.92 468.33,328.05 468.77,314.31 468.97,307.08 469.21,302.35 469.65,292.00 469.83,287.69 470.08,288.93 470.52,291.16 470.69,292.00 470.96,295.71 471.40,301.82 471.77,307.08 471.84,307.01 472.28,305.48 472.72,304.00 472.84,302.77 473.16,300.30 473.49,296.31 473.60,297.23" fill="none" stroke="#f41010" stroke-width="1.05" stroke-linejoin="miter" stroke-miterlimit="4"/>
<rect x="29.60" y="4.60" width="220.80" height="167.60" fill="none" stroke="#767676" stroke-width="1.3"/>
<path d="M34.02,172.20v-2.6M34.02,4.60v2.6M38.43,172.20v-2.6M38.43,4.60v2.6M42.85,172.20v-2.6M42.85,4.60v2.6M47.26,172.20v-2.6M47.26,4.60v2.6M51.68,172.20v-4.5M51.68,4.60v4.5M56.10,172.20v-2.6M56.10,4.60v2.6M60.51,172.20v-2.6M60.51,4.60v2.6M64.93,172.20v-2.6M64.93,4.60v2.6M69.34,172.20v-2.6M69.34,4.60v2.6M73.76,172.20v-4.5M73.76,4.60v4.5M78.18,172.20v-2.6M78.18,4.60v2.6M82.59,172.20v-2.6M82.59,4.60v2.6M87.01,172.20v-2.6M87.01,4.60v2.6M91.42,172.20v-2.6M91.42,4.60v2.6M95.84,172.20v-4.5M95.84,4.60v4.5M100.26,172.20v-2.6M100.26,4.60v2.6M104.67,172.20v-2.6M104.67,4.60v2.6M109.09,172.20v-2.6M109.09,4.60v2.6M113.50,172.20v-2.6M113.50,4.60v2.6M117.92,172.20v-4.5M117.92,4.60v4.5M122.34,172.20v-2.6M122.34,4.60v2.6M126.75,172.20v-2.6M126.75,4.60v2.6M131.17,172.20v-2.6M131.17,4.60v2.6M135.58,172.20v-2.6M135.58,4.60v2.6M140.00,172.20v-4.5M140.00,4.60v4.5M144.42,172.20v-2.6M144.42,4.60v2.6M148.83,172.20v-2.6M148.83,4.60v2.6M153.25,172.20v-2.6M153.25,4.60v2.6M157.66,172.20v-2.6M157.66,4.60v2.6M162.08,172.20v-4.5M162.08,4.60v4.5M166.50,172.20v-2.6M166.50,4.60v2.6M170.91,172.20v-2.6M170.91,4.60v2.6M175.33,172.20v-2.6M175.33,4.60v2.6M179.74,172.20v-2.6M179.74,4.60v2.6M184.16,172.20v-4.5M184.16,4.60v4.5M188.58,172.20v-2.6M188.58,4.60v2.6M192.99,172.20v-2.6M192.99,4.60v2.6M197.41,172.20v-2.6M197.41,4.60v2.6M201.82,172.20v-2.6M201.82,4.60v2.6M206.24,172.20v-4.5M206.24,4.60v4.5M210.66,172.20v-2.6M210.66,4.60v2.6M215.07,172.20v-2.6M215.07,4.60v2.6M219.49,172.20v-2.6M219.49,4.60v2.6M223.90,172.20v-2.6M223.90,4.60v2.6M228.32,172.20v-4.5M228.32,4.60v4.5M232.74,172.20v-2.6M232.74,4.60v2.6M237.15,172.20v-2.6M237.15,4.60v2.6M241.57,172.20v-2.6M241.57,4.60v2.6M245.98,172.20v-2.6M245.98,4.60v2.6M29.60,144.27h2.4M250.40,144.27h-2.4M29.60,116.33h4M250.40,116.33h-4M29.60,88.40h2.4M250.40,88.40h-2.4M29.60,60.47h4M250.40,60.47h-4M29.60,32.53h2.4M250.40,32.53h-2.4" stroke="#4a4a4a" stroke-width="1" fill="none"/>
<rect x="253.40" y="4.60" width="220.60" height="167.60" fill="none" stroke="#767676" stroke-width="1.3"/>
<path d="M257.81,172.20v-2.6M257.81,4.60v2.6M262.22,172.20v-2.6M262.22,4.60v2.6M266.64,172.20v-2.6M266.64,4.60v2.6M271.05,172.20v-2.6M271.05,4.60v2.6M275.46,172.20v-4.5M275.46,4.60v4.5M279.87,172.20v-2.6M279.87,4.60v2.6M284.28,172.20v-2.6M284.28,4.60v2.6M288.70,172.20v-2.6M288.70,4.60v2.6M293.11,172.20v-2.6M293.11,4.60v2.6M297.52,172.20v-4.5M297.52,4.60v4.5M301.93,172.20v-2.6M301.93,4.60v2.6M306.34,172.20v-2.6M306.34,4.60v2.6M310.76,172.20v-2.6M310.76,4.60v2.6M315.17,172.20v-2.6M315.17,4.60v2.6M319.58,172.20v-4.5M319.58,4.60v4.5M323.99,172.20v-2.6M323.99,4.60v2.6M328.40,172.20v-2.6M328.40,4.60v2.6M332.82,172.20v-2.6M332.82,4.60v2.6M337.23,172.20v-2.6M337.23,4.60v2.6M341.64,172.20v-4.5M341.64,4.60v4.5M346.05,172.20v-2.6M346.05,4.60v2.6M350.46,172.20v-2.6M350.46,4.60v2.6M354.88,172.20v-2.6M354.88,4.60v2.6M359.29,172.20v-2.6M359.29,4.60v2.6M363.70,172.20v-4.5M363.70,4.60v4.5M368.11,172.20v-2.6M368.11,4.60v2.6M372.52,172.20v-2.6M372.52,4.60v2.6M376.94,172.20v-2.6M376.94,4.60v2.6M381.35,172.20v-2.6M381.35,4.60v2.6M385.76,172.20v-4.5M385.76,4.60v4.5M390.17,172.20v-2.6M390.17,4.60v2.6M394.58,172.20v-2.6M394.58,4.60v2.6M399.00,172.20v-2.6M399.00,4.60v2.6M403.41,172.20v-2.6M403.41,4.60v2.6M407.82,172.20v-4.5M407.82,4.60v4.5M412.23,172.20v-2.6M412.23,4.60v2.6M416.64,172.20v-2.6M416.64,4.60v2.6M421.06,172.20v-2.6M421.06,4.60v2.6M425.47,172.20v-2.6M425.47,4.60v2.6M429.88,172.20v-4.5M429.88,4.60v4.5M434.29,172.20v-2.6M434.29,4.60v2.6M438.70,172.20v-2.6M438.70,4.60v2.6M443.12,172.20v-2.6M443.12,4.60v2.6M447.53,172.20v-2.6M447.53,4.60v2.6M451.94,172.20v-4.5M451.94,4.60v4.5M456.35,172.20v-2.6M456.35,4.60v2.6M460.76,172.20v-2.6M460.76,4.60v2.6M465.18,172.20v-2.6M465.18,4.60v2.6M469.59,172.20v-2.6M469.59,4.60v2.6M253.40,144.27h2.4M474.00,144.27h-2.4M253.40,116.33h4M474.00,116.33h-4M253.40,88.40h2.4M474.00,88.40h-2.4M253.40,60.47h4M474.00,60.47h-4M253.40,32.53h2.4M474.00,32.53h-2.4" stroke="#4a4a4a" stroke-width="1" fill="none"/>
<rect x="29.60" y="174.50" width="220.80" height="167.30" fill="none" stroke="#767676" stroke-width="1.3"/>
<path d="M34.02,341.80v-2.6M34.02,174.50v2.6M38.43,341.80v-2.6M38.43,174.50v2.6M42.85,341.80v-2.6M42.85,174.50v2.6M47.26,341.80v-2.6M47.26,174.50v2.6M51.68,341.80v-4.5M51.68,174.50v4.5M56.10,341.80v-2.6M56.10,174.50v2.6M60.51,341.80v-2.6M60.51,174.50v2.6M64.93,341.80v-2.6M64.93,174.50v2.6M69.34,341.80v-2.6M69.34,174.50v2.6M73.76,341.80v-4.5M73.76,174.50v4.5M78.18,341.80v-2.6M78.18,174.50v2.6M82.59,341.80v-2.6M82.59,174.50v2.6M87.01,341.80v-2.6M87.01,174.50v2.6M91.42,341.80v-2.6M91.42,174.50v2.6M95.84,341.80v-4.5M95.84,174.50v4.5M100.26,341.80v-2.6M100.26,174.50v2.6M104.67,341.80v-2.6M104.67,174.50v2.6M109.09,341.80v-2.6M109.09,174.50v2.6M113.50,341.80v-2.6M113.50,174.50v2.6M117.92,341.80v-4.5M117.92,174.50v4.5M122.34,341.80v-2.6M122.34,174.50v2.6M126.75,341.80v-2.6M126.75,174.50v2.6M131.17,341.80v-2.6M131.17,174.50v2.6M135.58,341.80v-2.6M135.58,174.50v2.6M140.00,341.80v-4.5M140.00,174.50v4.5M144.42,341.80v-2.6M144.42,174.50v2.6M148.83,341.80v-2.6M148.83,174.50v2.6M153.25,341.80v-2.6M153.25,174.50v2.6M157.66,341.80v-2.6M157.66,174.50v2.6M162.08,341.80v-4.5M162.08,174.50v4.5M166.50,341.80v-2.6M166.50,174.50v2.6M170.91,341.80v-2.6M170.91,174.50v2.6M175.33,341.80v-2.6M175.33,174.50v2.6M179.74,341.80v-2.6M179.74,174.50v2.6M184.16,341.80v-4.5M184.16,174.50v4.5M188.58,341.80v-2.6M188.58,174.50v2.6M192.99,341.80v-2.6M192.99,174.50v2.6M197.41,341.80v-2.6M197.41,174.50v2.6M201.82,341.80v-2.6M201.82,174.50v2.6M206.24,341.80v-4.5M206.24,174.50v4.5M210.66,341.80v-2.6M210.66,174.50v2.6M215.07,341.80v-2.6M215.07,174.50v2.6M219.49,341.80v-2.6M219.49,174.50v2.6M223.90,341.80v-2.6M223.90,174.50v2.6M228.32,341.80v-4.5M228.32,174.50v4.5M232.74,341.80v-2.6M232.74,174.50v2.6M237.15,341.80v-2.6M237.15,174.50v2.6M241.57,341.80v-2.6M241.57,174.50v2.6M245.98,341.80v-2.6M245.98,174.50v2.6M29.60,313.92h2.4M250.40,313.92h-2.4M29.60,286.03h4M250.40,286.03h-4M29.60,258.15h2.4M250.40,258.15h-2.4M29.60,230.27h4M250.40,230.27h-4M29.60,202.38h2.4M250.40,202.38h-2.4" stroke="#4a4a4a" stroke-width="1" fill="none"/>
<rect x="253.40" y="174.50" width="220.80" height="167.30" fill="none" stroke="#767676" stroke-width="1.3"/>
<path d="M257.82,341.80v-2.6M257.82,174.50v2.6M262.23,341.80v-2.6M262.23,174.50v2.6M266.65,341.80v-2.6M266.65,174.50v2.6M271.06,341.80v-2.6M271.06,174.50v2.6M275.48,341.80v-4.5M275.48,174.50v4.5M279.90,341.80v-2.6M279.90,174.50v2.6M284.31,341.80v-2.6M284.31,174.50v2.6M288.73,341.80v-2.6M288.73,174.50v2.6M293.14,341.80v-2.6M293.14,174.50v2.6M297.56,341.80v-4.5M297.56,174.50v4.5M301.98,341.80v-2.6M301.98,174.50v2.6M306.39,341.80v-2.6M306.39,174.50v2.6M310.81,341.80v-2.6M310.81,174.50v2.6M315.22,341.80v-2.6M315.22,174.50v2.6M319.64,341.80v-4.5M319.64,174.50v4.5M324.06,341.80v-2.6M324.06,174.50v2.6M328.47,341.80v-2.6M328.47,174.50v2.6M332.89,341.80v-2.6M332.89,174.50v2.6M337.30,341.80v-2.6M337.30,174.50v2.6M341.72,341.80v-4.5M341.72,174.50v4.5M346.14,341.80v-2.6M346.14,174.50v2.6M350.55,341.80v-2.6M350.55,174.50v2.6M354.97,341.80v-2.6M354.97,174.50v2.6M359.38,341.80v-2.6M359.38,174.50v2.6M363.80,341.80v-4.5M363.80,174.50v4.5M368.22,341.80v-2.6M368.22,174.50v2.6M372.63,341.80v-2.6M372.63,174.50v2.6M377.05,341.80v-2.6M377.05,174.50v2.6M381.46,341.80v-2.6M381.46,174.50v2.6M385.88,341.80v-4.5M385.88,174.50v4.5M390.30,341.80v-2.6M390.30,174.50v2.6M394.71,341.80v-2.6M394.71,174.50v2.6M399.13,341.80v-2.6M399.13,174.50v2.6M403.54,341.80v-2.6M403.54,174.50v2.6M407.96,341.80v-4.5M407.96,174.50v4.5M412.38,341.80v-2.6M412.38,174.50v2.6M416.79,341.80v-2.6M416.79,174.50v2.6M421.21,341.80v-2.6M421.21,174.50v2.6M425.62,341.80v-2.6M425.62,174.50v2.6M430.04,341.80v-4.5M430.04,174.50v4.5M434.46,341.80v-2.6M434.46,174.50v2.6M438.87,341.80v-2.6M438.87,174.50v2.6M443.29,341.80v-2.6M443.29,174.50v2.6M447.70,341.80v-2.6M447.70,174.50v2.6M452.12,341.80v-4.5M452.12,174.50v4.5M456.54,341.80v-2.6M456.54,174.50v2.6M460.95,341.80v-2.6M460.95,174.50v2.6M465.37,341.80v-2.6M465.37,174.50v2.6M469.78,341.80v-2.6M469.78,174.50v2.6M253.40,313.92h2.4M474.20,313.92h-2.4M253.40,286.03h4M474.20,286.03h-4M253.40,258.15h2.4M474.20,258.15h-2.4M253.40,230.27h4M474.20,230.27h-4M253.40,202.38h2.4M474.20,202.38h-2.4" stroke="#4a4a4a" stroke-width="1" fill="none"/>
<text x="27.60" y="8.80" font-size="10.2" text-anchor="end" >0.3</text>
<text x="27.60" y="62.87" font-size="10.2" text-anchor="end" >0.2</text>
<text x="27.60" y="118.73" font-size="10.2" text-anchor="end" >0.1</text>
<text x="27.60" y="232.67" font-size="10.2" text-anchor="end" >0.2</text>
<text x="27.60" y="288.43" font-size="10.2" text-anchor="end" >0.1</text>
<text x="24.40" y="171.00" font-size="10.2" text-anchor="end" >0</text>
<text x="24.40" y="344.20" font-size="10.2" text-anchor="end" >0</text>
<text x="30.60" y="351.40" font-size="10.2" text-anchor="middle" >0</text>
<text x="53.98" y="351.40" font-size="10.2" text-anchor="middle" >50</text>
<text x="74.96" y="351.40" font-size="10.2" text-anchor="middle" >100</text>
<text x="97.44" y="351.40" font-size="10.2" text-anchor="middle" >150</text>
<text x="118.62" y="351.40" font-size="10.2" text-anchor="middle" >200</text>
<text x="138.90" y="351.40" font-size="10.2" text-anchor="middle" >250</text>
<text x="160.78" y="351.40" font-size="10.2" text-anchor="middle" >300</text>
<text x="183.16" y="351.40" font-size="10.2" text-anchor="middle" >350</text>
<text x="206.84" y="351.40" font-size="10.2" text-anchor="middle" >400</text>
<text x="228.82" y="351.40" font-size="10.2" text-anchor="middle" >450</text>
<text x="254.60" y="351.40" font-size="10.2" text-anchor="middle" >0</text>
<text x="276.08" y="351.40" font-size="10.2" text-anchor="middle" >50</text>
<text x="297.16" y="351.40" font-size="10.2" text-anchor="middle" >100</text>
<text x="319.24" y="351.40" font-size="10.2" text-anchor="middle" >150</text>
<text x="340.72" y="351.40" font-size="10.2" text-anchor="middle" >200</text>
<text x="360.90" y="351.40" font-size="10.2" text-anchor="middle" >250</text>
<text x="383.08" y="351.40" font-size="10.2" text-anchor="middle" >300</text>
<text x="405.06" y="351.40" font-size="10.2" text-anchor="middle" >350</text>
<text x="428.44" y="351.40" font-size="10.2" text-anchor="middle" >400</text>
<text x="450.12" y="351.40" font-size="10.2" text-anchor="middle" >450</text>
<text x="472.40" y="351.40" font-size="10.2" text-anchor="middle" >500</text>
<text x="151.50" y="360.60" font-size="10.2" text-anchor="middle" >Residue number</text>
<text x="372.60" y="360.60" font-size="10.2" text-anchor="middle" >Residue number</text>
<text transform="translate(10.4,79.3) rotate(-90)" font-size="10.8" text-anchor="middle">RMSF (nm)</text>
<text transform="translate(10.4,255.9) rotate(-90)" font-size="10.8" text-anchor="middle">RMSF (nm)</text>
<text transform="translate(38.60,23.60) scale(0.93,1)" font-size="14.0" text-anchor="start" >A.Sim1</text>
<text transform="translate(39.20,193.00) scale(0.93,1)" font-size="14.0" text-anchor="start" >B.Sim2</text>
<text x="206.60" y="23.70" font-size="11.4" text-anchor="start" >PC1</text>
<text x="427.60" y="23.70" font-size="11.4" text-anchor="start" >PC2</text>
<text x="48.20" y="43.10" font-size="10.2" text-anchor="start" >NAD</text>
<text x="110.90" y="43.10" font-size="10.2" text-anchor="start" >NAD</text>
<text x="152.60" y="42.20" font-size="10.2" text-anchor="start" >Substrate-binding</text>
<text x="81.00" y="93.80" font-size="10.2" text-anchor="start" >Oligomerization domain</text>
<path d="M113.3,85 L92,64" stroke="#1a1a1a" stroke-width="1.3"/>
<path d="M88.6,59.8 L96.8,62.8 L91.4,67.4 Z" fill="#1a1a1a"/>
<path d="M400.9,80.4h8.8" stroke="#555" stroke-width="0.8"/>
<path d="M400.9,90.4h8.8" stroke="#f04040" stroke-width="0.8"/>
<text x="414.00" y="82.80" font-size="10.8" text-anchor="start" >M1</text>
<text x="414.00" y="93.90" font-size="10.8" text-anchor="start" >M2</text>
<text transform="translate(477.00,17.20) scale(0.93,1)" font-size="13.6" text-anchor="start" >C.</text>
<text transform="translate(544.60,199.30) scale(0.915,1)" font-size="14.1" text-anchor="start" >Side view</text>
<text transform="translate(547.90,342.60) scale(0.92,1)" font-size="14.0" text-anchor="start" >Top view</text>
<g fill="none" stroke-width="2.2" stroke-linejoin="miter" stroke-miterlimit="3">
<path d="M493.3,66.5 502.5,71.9 503.8,67.3 505.4,61.3 514.0,66.1 515.5,62.9 516.7,57.3 520.3,60.2" stroke="#f29a9a" stroke-opacity="0.55"/>
<path d="M496.5,61.8 505.7,67.2 507.1,62.6 508.6,56.6 517.2,61.4 518.7,58.2 519.9,52.6 523.5,55.5" stroke="#f29a9a" stroke-opacity="0.55"/>
<path d="M498.3,62.4 507.4,67.8 508.8,63.2 510.3,57.2 519.0,62.0 520.5,58.7 521.7,53.2 525.3,56.0" stroke="#f29a9a" stroke-opacity="0.55"/>
<path d="M605.0,80.0 600.5,87.9 609.2,92.0 604.5,99.6 607.1,101.9" stroke="#9c9cee" stroke-opacity="0.55"/>
<path d="M599.5,77.8 595.1,85.6 603.7,89.8 599.1,97.3 601.7,99.7" stroke="#f29a9a" stroke-opacity="0.55"/>
<path d="M606.1,78.8 601.7,86.7 610.3,90.8 605.7,98.4 608.3,100.8" stroke="#9c9cee" stroke-opacity="0.55"/>
<path d="M650.5,97.7 651.4,107.2 660.5,102.9 661.6,111.9 664.7,111.2 670.1,107.7 670.7,111.2" stroke="#9c9cee" stroke-opacity="0.55"/>
<path d="M652.0,96.5 652.9,106.0 662.0,101.7 663.1,110.7 666.2,110.0 671.6,106.5 672.3,110.0" stroke="#f29a9a" stroke-opacity="0.55"/>
<path d="M655.2,93.8 656.1,103.3 665.2,98.9 666.3,108.0 669.4,107.3 674.8,103.8 675.5,107.3" stroke="#f29a9a" stroke-opacity="0.55"/>
<path d="M573.4,64.5 578.6,68.3 585.1,68.6 589.5,63.8" stroke="#f29a9a" stroke-opacity="0.55"/>
<path d="M571.1,62.1 576.3,66.0 582.8,66.3 587.2,61.5" stroke="#f29a9a" stroke-opacity="0.55"/>
<path d="M575.2,67.8 580.4,71.7 586.9,72.0 591.3,67.2" stroke="#9c9cee" stroke-opacity="0.55"/>
<path d="M525.4,163.3 525.8,154.0 535.3,158.2 535.9,147.6" stroke="#f29a9a" stroke-opacity="0.55"/>
<path d="M526.6,163.0 527.1,153.7 536.5,157.9 537.1,147.3" stroke="#9c9cee" stroke-opacity="0.55"/>
<path d="M520.1,162.3 520.5,153.0 530.0,157.2 530.6,146.6" stroke="#f29a9a" stroke-opacity="0.55"/>
<path d="M631.3,67.0 642.1,69.7 636.8,79.1 646.6,80.8" stroke="#9c9cee" stroke-opacity="0.55"/>
<path d="M634.7,64.5 645.5,67.1 640.3,76.6 650.1,78.3" stroke="#9c9cee" stroke-opacity="0.55"/>
<path d="M635.5,66.0 646.3,68.6 641.0,78.1 650.8,79.8" stroke="#9c9cee" stroke-opacity="0.55"/>
<path d="M631.6,40.1 639.9,40.8 638.9,44.4 637.2,49.2 646.4,50.2 645.6,54.4 644.5,59.6 647.5,60.6" stroke="#9c9cee" stroke-opacity="0.55"/>
<path d="M629.7,43.5 638.0,44.2 637.0,47.8 635.3,52.6 644.5,53.6 643.7,57.8 642.6,63.0 645.6,64.0" stroke="#9c9cee" stroke-opacity="0.55"/>
<path d="M633.1,42.4 641.3,43.1 640.4,46.7 638.6,51.4 647.9,52.5 647.0,56.7 645.9,61.9 649.0,62.9" stroke="#9c9cee" stroke-opacity="0.55"/>
<path d="M616.5,48.9 618.8,50.9 624.8,52.6 618.9,60.8 627.7,64.5 620.7,71.9 625.2,73.6 629.6,75.9" stroke="#9c9cee" stroke-opacity="0.55"/>
<path d="M612.6,55.4 614.9,57.3 621.0,59.0 615.0,67.3 623.8,70.9 616.8,78.3 621.4,80.1 625.7,82.4" stroke="#9c9cee" stroke-opacity="0.55"/>
<path d="M612.4,50.7 614.7,52.7 620.8,54.4 614.8,62.6 623.6,66.2 616.6,73.7 621.2,75.4 625.5,77.7" stroke="#f29a9a" stroke-opacity="0.55"/>
<path d="M560.9,75.7 568.3,81.3 572.5,72.2 580.6,77.1 584.4,67.8" stroke="#9c9cee" stroke-opacity="0.55"/>
<path d="M560.0,79.4 567.4,85.1 571.6,76.0 579.7,80.8 583.5,71.6" stroke="#9c9cee" stroke-opacity="0.55"/>
<path d="M562.6,75.6 570.0,81.3 574.1,72.1 582.3,77.0 586.1,67.8" stroke="#9c9cee" stroke-opacity="0.55"/>
<path d="M523.3,117.4 526.9,108.6 534.2,114.6 535.6,111.2 536.6,104.8 540.2,106.9" stroke="#9c9cee" stroke-opacity="0.55"/>
<path d="M519.9,121.6 523.5,112.8 530.9,118.8 532.2,115.4 533.2,109.0 536.8,111.1" stroke="#9c9cee" stroke-opacity="0.55"/>
<path d="M523.4,118.0 526.9,109.2 534.3,115.2 535.7,111.8 536.7,105.4 540.2,107.5" stroke="#f29a9a" stroke-opacity="0.55"/>
<path d="M503.6,108.4 510.0,107.4 511.9,101.2 518.4,101.4 521.7,107.1 527.9,108.7 532.7,104.3" stroke="#9c9cee" stroke-opacity="0.55"/>
<path d="M504.0,112.8 510.4,111.8 512.4,105.6 518.8,105.8 522.1,111.5 528.3,113.1 533.2,108.7" stroke="#f29a9a" stroke-opacity="0.55"/>
<path d="M501.0,111.1 507.4,110.1 509.3,103.9 515.8,104.1 519.0,109.8 525.3,111.4 530.1,107.0" stroke="#f29a9a" stroke-opacity="0.55"/>
<path d="M619.5,81.4 613.5,87.9 621.0,91.7" stroke="#f29a9a" stroke-opacity="0.55"/>
<path d="M620.4,83.0 614.3,89.5 621.8,93.3" stroke="#9c9cee" stroke-opacity="0.55"/>
<path d="M620.9,77.2 614.8,83.7 622.3,87.5" stroke="#9c9cee" stroke-opacity="0.55"/>
<path d="M525.3,120.9 532.9,125.7 536.5,117.5 539.5,118.8 544.0,123.4 548.0,113.6" stroke="#f29a9a" stroke-opacity="0.55"/>
<path d="M523.9,120.5 531.6,125.3 535.2,117.1 538.2,118.4 542.7,123.0 546.7,113.2" stroke="#9c9cee" stroke-opacity="0.55"/>
<path d="M525.9,125.6 533.5,130.4 537.1,122.2 540.1,123.5 544.6,128.1 548.6,118.2" stroke="#f29a9a" stroke-opacity="0.55"/>
<path d="M536.7,47.8 542.7,50.1 547.0,55.0 549.2,61.1 555.6,60.2" stroke="#f29a9a" stroke-opacity="0.55"/>
<path d="M534.9,52.6 540.9,54.9 545.2,59.8 547.4,65.9 553.8,65.1" stroke="#f29a9a" stroke-opacity="0.55"/>
<path d="M541.2,50.9 547.3,53.3 551.5,58.2 553.7,64.3 560.2,63.4" stroke="#9c9cee" stroke-opacity="0.55"/>
<path d="M662.8,59.5 672.6,60.0 672.6,63.4 670.5,69.4 674.4,69.2" stroke="#f29a9a" stroke-opacity="0.55"/>
<path d="M660.2,58.1 670.0,58.6 670.0,62.1 667.9,68.0 671.8,67.9" stroke="#f29a9a" stroke-opacity="0.55"/>
<path d="M660.1,56.5 669.9,57.0 669.9,60.5 667.8,66.4 671.7,66.2" stroke="#9c9cee" stroke-opacity="0.55"/>
<path d="M535.2,100.2 533.5,106.5 527.2,105.0 522.3,100.7 520.8,94.3" stroke="#f29a9a" stroke-opacity="0.55"/>
<path d="M532.6,104.8 530.9,111.1 524.6,109.7 519.7,105.3 518.2,99.0" stroke="#f29a9a" stroke-opacity="0.55"/>
<path d="M535.9,100.8 534.2,107.1 527.9,105.7 523.0,101.3 521.5,95.0" stroke="#9c9cee" stroke-opacity="0.55"/>
<path d="M494.3,84.9 498.1,94.3 505.8,87.2 507.0,92.0 509.1,95.9 517.0,91.1 518.3,95.2" stroke="#f29a9a" stroke-opacity="0.55"/>
<path d="M495.2,83.5 499.0,92.9 506.7,85.8 507.9,90.6 509.9,94.5 517.8,89.7 519.2,93.8" stroke="#f29a9a" stroke-opacity="0.55"/>
<path d="M492.3,85.8 496.1,95.2 503.8,88.1 505.0,92.9 507.0,96.8 514.9,92.0 516.3,96.1" stroke="#f29a9a" stroke-opacity="0.55"/>
<path d="M547.5,121.0 552.9,124.7 556.9,119.6 561.0,114.6 556.0,110.4 553.7,104.3 549.3,99.5" stroke="#f29a9a" stroke-opacity="0.55"/>
<path d="M548.5,125.3 553.8,129.0 557.9,123.9 561.9,118.8 556.9,114.7 554.7,108.6 550.3,103.8" stroke="#f29a9a" stroke-opacity="0.55"/>
<path d="M547.1,125.9 552.4,129.6 556.5,124.5 560.5,119.5 555.5,115.3 553.3,109.2 548.9,104.4" stroke="#9c9cee" stroke-opacity="0.55"/>
<path d="M558.4,138.4 562.6,130.2 570.2,136.1 574.7,128.5" stroke="#9c9cee" stroke-opacity="0.55"/>
<path d="M555.4,137.4 559.6,129.1 567.2,135.0 571.7,127.4" stroke="#f29a9a" stroke-opacity="0.55"/>
<path d="M555.0,138.5 559.2,130.2 566.8,136.2 571.4,128.5" stroke="#f29a9a" stroke-opacity="0.55"/>
<path d="M508.9,110.9 511.8,111.6 516.6,116.7 520.5,107.1 527.7,112.8 528.6,108.0 530.2,103.7 533.9,105.4" stroke="#9c9cee" stroke-opacity="0.55"/>
<path d="M505.5,106.6 508.4,107.3 513.2,112.4 517.1,102.8 524.3,108.5 525.2,103.7 526.8,99.4 530.4,101.1" stroke="#9c9cee" stroke-opacity="0.55"/>
<path d="M507.0,107.8 509.8,108.5 514.6,113.7 518.5,104.1 525.7,109.7 526.7,104.9 528.3,100.6 531.9,102.3" stroke="#f29a9a" stroke-opacity="0.55"/>
<path d="M657.8,68.8 653.9,74.0 647.5,74.7 644.3,80.4 646.9,86.4 653.2,88.1 653.0,94.6" stroke="#f29a9a" stroke-opacity="0.55"/>
<path d="M661.4,73.6 657.4,78.7 651.0,79.4 647.8,85.1 650.4,91.1 656.7,92.8 656.5,99.3" stroke="#9c9cee" stroke-opacity="0.55"/>
<path d="M659.5,74.7 655.5,79.9 649.1,80.6 645.9,86.3 648.5,92.3 654.8,94.0 654.6,100.5" stroke="#f29a9a" stroke-opacity="0.55"/>
<path d="M502.4,95.7 497.9,91.1 502.4,86.4 508.7,87.8 512.1,82.2 515.0,76.4 521.3,78.0 523.0,84.3 526.8,89.5" stroke="#f29a9a" stroke-opacity="0.55"/>
<path d="M507.0,99.3 502.4,94.6 506.9,89.9 513.3,91.3 516.7,85.8 519.5,80.0 525.8,81.6 527.5,87.9 531.4,93.1" stroke="#9c9cee" stroke-opacity="0.55"/>
<path d="M506.7,95.7 502.2,91.1 506.6,86.3 513.0,87.8 516.4,82.2 519.3,76.4 525.6,78.0 527.2,84.3 531.1,89.5" stroke="#f29a9a" stroke-opacity="0.55"/>
<path d="M579.4,72.9 584.5,68.7 590.5,71.0 596.6,68.8 603.1,68.8 608.6,72.3 615.1,71.4" stroke="#f29a9a" stroke-opacity="0.55"/>
<path d="M577.7,70.8 582.7,66.6 588.8,68.9 594.9,66.7 601.4,66.7 606.9,70.2 613.3,69.3" stroke="#9c9cee" stroke-opacity="0.55"/>
<path d="M577.1,66.8 582.1,62.6 588.1,64.9 594.3,62.7 600.8,62.7 606.2,66.1 612.7,65.3" stroke="#f29a9a" stroke-opacity="0.55"/>
<path d="M542.1,137.7 550.5,141.4 552.2,132.0" stroke="#9c9cee" stroke-opacity="0.55"/>
<path d="M537.8,138.1 546.1,141.7 547.9,132.4" stroke="#9c9cee" stroke-opacity="0.55"/>
<path d="M539.5,133.9 547.8,137.6 549.6,128.2" stroke="#f29a9a" stroke-opacity="0.55"/>
<path d="M516.0,135.3 524.0,142.6 528.3,133.7 531.3,136.6 534.9,139.3 538.9,130.4 545.6,137.2 547.5,133.7" stroke="#9c9cee" stroke-opacity="0.55"/>
<path d="M513.0,133.9 521.1,141.2 525.4,132.3 528.4,135.1 531.9,137.8 535.9,128.9 542.7,135.7 544.5,132.2" stroke="#9c9cee" stroke-opacity="0.55"/>
<path d="M514.6,129.4 522.6,136.7 526.9,127.8 529.9,130.6 533.5,133.3 537.5,124.4 544.2,131.2 546.1,127.7" stroke="#f29a9a" stroke-opacity="0.55"/>
<path d="M523.1,95.0 521.4,85.5 532.0,88.2" stroke="#f29a9a" stroke-opacity="0.55"/>
<path d="M519.4,95.6 517.8,86.2 528.4,88.9" stroke="#f29a9a" stroke-opacity="0.55"/>
<path d="M521.3,92.8 519.7,83.4 530.3,86.1" stroke="#f29a9a" stroke-opacity="0.55"/>
<path d="M527.1,132.1 533.0,138.8 538.9,130.9 541.7,135.6 545.2,139.1 550.7,130.3" stroke="#9c9cee" stroke-opacity="0.55"/>
<path d="M523.8,137.9 529.7,144.6 535.6,136.7 538.4,141.4 541.9,144.8 547.4,136.1" stroke="#9c9cee" stroke-opacity="0.55"/>
<path d="M522.4,134.0 528.2,140.7 534.1,132.8 537.0,137.5 540.4,141.0 546.0,132.3" stroke="#f29a9a" stroke-opacity="0.55"/>
<path d="M556.1,137.8 562.5,139.0 569.0,139.2 572.8,134.0 579.1,135.9 580.9,129.7 583.8,123.8 589.0,120.0 594.3,116.2" stroke="#9c9cee" stroke-opacity="0.55"/>
<path d="M561.7,136.3 568.1,137.6 574.6,137.8 578.5,132.5 584.7,134.4 586.5,128.2 589.4,122.4 594.6,118.5 599.9,114.8" stroke="#f29a9a" stroke-opacity="0.55"/>
<path d="M558.2,138.0 564.6,139.2 571.1,139.4 574.9,134.2 581.1,136.1 583.0,129.9 585.8,124.0 591.1,120.2 596.4,116.4" stroke="#9c9cee" stroke-opacity="0.55"/>
<path d="M520.1,132.7 514.0,134.8 511.3,140.7 510.7,147.1 516.9,149.2 523.1,147.5 525.2,153.6 519.5,156.8 517.6,163.0" stroke="#9c9cee" stroke-opacity="0.55"/>
<path d="M517.1,126.7 511.0,128.7 508.3,134.6 507.7,141.1 513.9,143.2 520.1,141.4 522.2,147.6 516.5,150.8 514.6,157.0" stroke="#9c9cee" stroke-opacity="0.55"/>
<path d="M519.1,128.5 513.0,130.5 510.2,136.4 509.7,142.9 515.9,145.0 522.1,143.2 524.2,149.4 518.5,152.6 516.6,158.8" stroke="#f29a9a" stroke-opacity="0.55"/>
<path d="M647.9,77.0 651.7,76.5 656.9,75.3 655.8,85.6 666.2,84.3" stroke="#9c9cee" stroke-opacity="0.55"/>
<path d="M651.1,76.6 654.9,76.1 660.1,74.9 659.0,85.2 669.4,83.9" stroke="#9c9cee" stroke-opacity="0.55"/>
<path d="M649.5,77.7 653.3,77.2 658.5,76.0 657.4,86.4 667.8,85.0" stroke="#9c9cee" stroke-opacity="0.55"/>
<path d="M629.5,99.5 638.9,100.5 637.0,110.0 641.7,110.0 647.2,110.1 644.4,119.3 647.4,120.0" stroke="#f29a9a" stroke-opacity="0.55"/>
<path d="M635.3,94.0 644.7,95.0 642.8,104.5 647.5,104.5 653.0,104.6 650.2,113.9 653.2,114.5" stroke="#9c9cee" stroke-opacity="0.55"/>
<path d="M630.0,98.8 639.4,99.8 637.6,109.3 642.2,109.3 647.7,109.4 644.9,118.6 648.0,119.3" stroke="#9c9cee" stroke-opacity="0.55"/>
<path d="M522.5,104.8 522.8,99.2 524.3,94.9 532.8,100.0 533.6,95.6 534.6,90.4 538.5,93.5 542.5,95.5" stroke="#9c9cee" stroke-opacity="0.55"/>
<path d="M524.6,105.3 525.0,99.7 526.5,95.4 535.0,100.6 535.8,96.2 536.8,90.9 540.6,94.1 544.6,96.0" stroke="#9c9cee" stroke-opacity="0.55"/>
<path d="M522.5,103.2 522.9,97.6 524.4,93.3 532.9,98.5 533.6,94.0 534.7,88.8 538.5,91.9 542.5,93.9" stroke="#f29a9a" stroke-opacity="0.55"/>
<path d="M595.2,66.8 587.1,71.7 589.4,74.5 594.9,78.0" stroke="#f29a9a" stroke-opacity="0.55"/>
<path d="M597.9,69.0 589.8,73.9 592.1,76.7 597.6,80.2" stroke="#9c9cee" stroke-opacity="0.55"/>
<path d="M593.3,68.2 585.2,73.2 587.5,76.0 593.0,79.5" stroke="#f29a9a" stroke-opacity="0.55"/>
<path d="M591.0,55.5 600.7,54.9 600.1,59.0 598.7,64.4 601.4,65.7 608.0,64.3 607.3,68.3" stroke="#9c9cee" stroke-opacity="0.55"/>
<path d="M592.2,56.4 601.9,55.8 601.3,59.8 599.9,65.3 602.6,66.5 609.2,65.1 608.5,69.1" stroke="#9c9cee" stroke-opacity="0.55"/>
<path d="M591.8,57.6 601.6,57.0 600.9,61.1 599.5,66.5 602.2,67.7 608.8,66.4 608.1,70.4" stroke="#9c9cee" stroke-opacity="0.55"/>
<path d="M585.4,79.7 581.4,84.8 583.9,90.8 578.6,94.5 573.7,98.8 568.4,95.0 568.5,88.5" stroke="#9c9cee" stroke-opacity="0.55"/>
<path d="M581.2,80.2 577.2,85.3 579.8,91.3 574.4,94.9 569.5,99.2 564.2,95.5 564.3,89.0" stroke="#f29a9a" stroke-opacity="0.55"/>
<path d="M583.4,83.3 579.4,88.4 582.0,94.4 576.6,98.1 571.7,102.4 566.4,98.6 566.5,92.1" stroke="#9c9cee" stroke-opacity="0.55"/>
<path d="M530.5,94.0 534.5,94.5 539.2,94.8 540.2,91.6 539.5,85.6 548.9,87.1 549.1,77.3" stroke="#f29a9a" stroke-opacity="0.55"/>
<path d="M532.2,92.5 536.2,92.9 540.9,93.2 541.8,90.0 541.2,84.1 550.6,85.6 550.8,75.8" stroke="#9c9cee" stroke-opacity="0.55"/>
<path d="M527.6,93.8 531.6,94.2 536.3,94.5 537.3,91.3 536.6,85.4 546.0,86.9 546.2,77.1" stroke="#f29a9a" stroke-opacity="0.55"/>
<path d="M528.1,126.8 533.3,122.8 539.8,122.5 545.1,118.7 548.2,113.0" stroke="#f29a9a" stroke-opacity="0.55"/>
<path d="M528.7,124.4 533.9,120.5 540.4,120.2 545.6,116.4 548.7,110.7" stroke="#9c9cee" stroke-opacity="0.55"/>
<path d="M533.8,124.7 539.0,120.7 545.5,120.4 550.8,116.6 553.8,110.9" stroke="#9c9cee" stroke-opacity="0.55"/>
<path d="M583.4,52.9 592.3,57.8 585.5,64.2 592.3,69.2 590.6,71.6 586.3,74.8" stroke="#9c9cee" stroke-opacity="0.55"/>
<path d="M585.2,57.1 594.0,62.0 587.2,68.4 594.0,73.3 592.3,75.8 588.0,79.0" stroke="#9c9cee" stroke-opacity="0.55"/>
<path d="M584.1,57.7 593.0,62.7 586.1,69.1 592.9,74.0 591.2,76.4 587.0,79.6" stroke="#9c9cee" stroke-opacity="0.55"/>
<path d="M524.9,129.8 531.2,128.0 534.9,133.3 541.4,133.3 545.5,138.3 552.0,137.6" stroke="#9c9cee" stroke-opacity="0.55"/>
<path d="M528.5,133.5 534.7,131.7 538.4,137.0 544.9,136.9 549.0,141.9 555.5,141.3" stroke="#f29a9a" stroke-opacity="0.55"/>
<path d="M525.0,131.8 531.3,130.0 534.9,135.3 541.4,135.3 545.6,140.3 552.1,139.6" stroke="#f29a9a" stroke-opacity="0.55"/>
<path d="M505.1,56.8 506.0,63.2 499.8,65.2 493.4,66.3" stroke="#f29a9a" stroke-opacity="0.55"/>
<path d="M503.7,60.2 504.7,66.6 498.5,68.6 492.1,69.7" stroke="#9c9cee" stroke-opacity="0.55"/>
<path d="M503.3,59.2 504.3,65.6 498.1,67.6 491.7,68.7" stroke="#9c9cee" stroke-opacity="0.55"/>
<path d="M504.2,86.0 510.3,88.1 516.8,87.4 520.8,92.5 526.6,95.4" stroke="#9c9cee" stroke-opacity="0.55"/>
<path d="M502.6,85.8 508.8,87.9 515.2,87.1 519.2,92.3 525.0,95.2" stroke="#f29a9a" stroke-opacity="0.55"/>
<path d="M501.4,79.4 507.5,81.5 514.0,80.7 518.0,85.8 523.8,88.7" stroke="#f29a9a" stroke-opacity="0.55"/>
<path d="M583.0,133.5 590.4,137.6 592.2,134.7 593.5,128.8" stroke="#f29a9a" stroke-opacity="0.55"/>
<path d="M581.7,128.9 589.2,133.0 591.0,130.1 592.2,124.3" stroke="#9c9cee" stroke-opacity="0.55"/>
<path d="M577.5,132.5 585.0,136.6 586.8,133.8 588.1,127.9" stroke="#9c9cee" stroke-opacity="0.55"/>
<path d="M508.9,62.5 511.3,56.4 512.9,50.1" stroke="#f29a9a" stroke-opacity="0.55"/>
<path d="M513.4,63.9 515.8,57.8 517.4,51.5" stroke="#f29a9a" stroke-opacity="0.55"/>
<path d="M509.3,68.4 511.7,62.4 513.3,56.1" stroke="#f29a9a" stroke-opacity="0.55"/>
<path d="M554.5,59.0 556.1,55.8 557.4,49.8 566.0,55.2 566.6,50.3 568.1,46.1" stroke="#f29a9a" stroke-opacity="0.55"/>
<path d="M553.2,59.3 554.8,56.1 556.1,50.2 564.6,55.5 565.3,50.6 566.8,46.4" stroke="#f29a9a" stroke-opacity="0.55"/>
<path d="M551.6,56.0 553.2,52.7 554.4,46.8 563.0,52.1 563.7,47.2 565.1,43.0" stroke="#f29a9a" stroke-opacity="0.55"/>
<path d="M486.9,158.7 486.0,152.2 484.6,145.9 490.8,143.9 492.4,137.6" stroke="#f29a9a" stroke-opacity="0.55"/>
<path d="M487.6,156.2 486.7,149.8 485.3,143.5 491.5,141.5 493.1,135.2" stroke="#f29a9a" stroke-opacity="0.55"/>
<path d="M532.3,174.4 526.5,171.5 520.1,170.4 513.6,170.5" stroke="#9c9cee" stroke-opacity="0.55"/>
<path d="M534.9,176.7 529.1,173.8 522.7,172.7 516.2,172.8" stroke="#9c9cee" stroke-opacity="0.55"/>
<path d="M478.1,110.7 478.5,117.2 485.0,117.5 487.3,123.5 493.3,125.8" stroke="#9c9cee" stroke-opacity="0.55"/>
<path d="M480.0,116.0 480.4,122.4 486.9,122.7 489.2,128.8 495.3,131.1" stroke="#9c9cee" stroke-opacity="0.55"/>
<path d="M487.1,143.4 486.1,146.8 482.3,151.9 491.7,155.1 486.0,163.0 490.1,163.9" stroke="#f29a9a" stroke-opacity="0.55"/>
<path d="M488.2,146.2 487.1,149.6 483.4,154.7 492.8,157.8 487.1,165.7 491.2,166.7" stroke="#f29a9a" stroke-opacity="0.55"/>
<path d="M484.5,142.3 485.4,151.6 494.4,149.5 496.1,159.0" stroke="#9c9cee" stroke-opacity="0.55"/>
<path d="M482.9,145.4 483.8,154.8 492.8,152.7 494.5,162.2" stroke="#f29a9a" stroke-opacity="0.55"/>
<path d="M483.1,153.8 483.3,147.3 485.5,141.2 483.7,135.0 477.2,134.8" stroke="#9c9cee" stroke-opacity="0.55"/>
<path d="M487.4,151.5 487.6,145.0 489.8,138.9 488.0,132.6 481.5,132.4" stroke="#9c9cee" stroke-opacity="0.55"/>
<path d="M472.9,120.5 482.5,125.9 475.0,132.9 483.6,138.5 477.2,145.8" stroke="#9c9cee" stroke-opacity="0.55"/>
<path d="M475.1,118.2 484.7,123.6 477.3,130.6 485.9,136.2 479.4,143.5" stroke="#9c9cee" stroke-opacity="0.55"/>
<path d="M516.7,175.2 510.7,172.8 505.7,168.6 499.9,165.7 495.0,161.4" stroke="#f29a9a" stroke-opacity="0.55"/>
<path d="M511.5,174.5 505.4,172.1 500.4,167.9 494.6,165.0 489.8,160.7" stroke="#9c9cee" stroke-opacity="0.55"/>
<path d="M483.4,107.3 486.4,109.9 490.8,113.0 483.7,119.8 489.9,125.4" stroke="#f29a9a" stroke-opacity="0.55"/>
<path d="M480.0,105.9 483.0,108.5 487.4,111.7 480.3,118.4 486.5,124.0" stroke="#f29a9a" stroke-opacity="0.55"/>
<path d="M612.8,150.5 619.5,157.1 621.8,154.6 624.4,149.5" stroke="#f29a9a" stroke-opacity="0.55"/>
<path d="M610.4,150.3 617.0,156.9 619.4,154.4 621.9,149.3" stroke="#9c9cee" stroke-opacity="0.55"/>
<path d="M630.0,157.3 624.8,153.5 618.3,153.9 617.5,147.4" stroke="#9c9cee" stroke-opacity="0.55"/>
<path d="M630.5,154.3 625.3,150.5 618.8,150.9 618.0,144.4" stroke="#f29a9a" stroke-opacity="0.55"/>
<path d="M614.9,152.4 609.1,155.4 605.8,149.8" stroke="#9c9cee" stroke-opacity="0.55"/>
<path d="M608.9,150.8 603.1,153.8 599.8,148.2" stroke="#9c9cee" stroke-opacity="0.55"/>
<path d="M641.2,37.3 650.9,36.1 650.6,39.4 648.8,44.9 657.8,44.0 656.5,54.1 666.3,52.2 664.1,62.3 673.5,60.6 673.5,64.0 671.5,69.9 681.7,69.2" stroke="#f29a9a" stroke-opacity="0.55"/>
<path d="M635.6,32.7 645.3,31.4 645.0,34.8 643.3,40.3 652.2,39.4 650.9,49.4 660.7,47.6 658.5,57.7 667.9,56.0 667.9,59.4 665.9,65.3 676.1,64.5" stroke="#9c9cee" stroke-opacity="0.55"/>
<path d="M637.7,35.5 647.4,34.3 647.1,37.7 645.4,43.1 654.3,42.2 653.0,52.3 662.8,50.4 660.6,60.6 670.0,58.8 670.0,62.3 668.1,68.2 678.2,67.4" stroke="#f29a9a" stroke-opacity="0.55"/>
<path d="M609.2,37.0 606.2,38.3 599.7,38.8 604.8,46.3 595.4,49.3 601.2,59.0 596.8,59.9 592.0,61.2" stroke="#f29a9a" stroke-opacity="0.55"/>
<path d="M615.6,37.2 612.6,38.5 606.1,39.0 611.2,46.5 601.8,49.5 607.7,59.2 603.3,60.1 598.4,61.4" stroke="#f29a9a" stroke-opacity="0.55"/>
<path d="M612.1,34.5 609.1,35.9 602.6,36.4 607.7,43.9 598.3,46.9 604.2,56.6 599.8,57.5 595.0,58.8" stroke="#9c9cee" stroke-opacity="0.55"/>
<path d="M628.8,41.9 619.8,44.8 625.4,53.2 621.6,54.1 615.3,54.5 621.2,62.8 612.1,65.1" stroke="#9c9cee" stroke-opacity="0.55"/>
<path d="M628.5,43.8 619.5,46.8 625.1,55.2 621.4,56.1 615.1,56.5 620.9,64.8 611.9,67.1" stroke="#f29a9a" stroke-opacity="0.55"/>
<path d="M629.0,43.3 620.0,46.3 625.6,54.7 621.9,55.6 615.6,56.0 621.4,64.3 612.4,66.6" stroke="#f29a9a" stroke-opacity="0.55"/>
<path d="M623.9,49.0 621.1,57.8 630.2,59.2 626.9,68.3 635.4,70.0" stroke="#f29a9a" stroke-opacity="0.55"/>
<path d="M624.0,54.1 621.3,62.9 630.4,64.2 627.0,73.4 635.5,75.1" stroke="#9c9cee" stroke-opacity="0.55"/>
<path d="M620.5,54.6 617.7,63.4 626.8,64.7 623.5,73.9 632.0,75.5" stroke="#9c9cee" stroke-opacity="0.55"/>
<path d="M609.2,34.7 618.3,29.1 626.5,26.6 628.8,31.4" stroke="#9c9cee" stroke-opacity="0.55"/>
<path d="M615.3,32.8 623.5,28.7 632.7,26.7 633.7,33.8" stroke="#f29a9a" stroke-opacity="0.55"/>
<path d="M631.7,36.4 635.8,30.2 639.9,29.2 644.0,35.3 651.1,33.3 655.2,38.4 657.2,43.5" stroke="#f29a9a" stroke-opacity="0.55"/>
<path d="M636.2,38.6 643.3,33.5 647.4,36.6 655.6,39.6 660.2,44.2" stroke="#f29a9a" stroke-opacity="0.55"/>
<path d="M605.9,34.5 611.9,36.5 607.9,40.5 614.9,43.5" stroke="#f29a9a" stroke-opacity="0.55"/>
<path d="M636.3,35.5 637.3,45.5 638.3,55.5 643.3,65.5 649.3,73.5 656.3,80.0" stroke="#f29a9a" stroke-opacity="0.55"/>
<path d="M633.0,31.7 634.0,41.7 635.0,51.7 640.0,61.7 646.0,69.7 653.0,76.2" stroke="#f29a9a" stroke-opacity="0.55"/>
<path d="M632.0,34.0 633.0,44.0 634.0,54.0 639.0,64.0 645.0,72.0 652.0,78.5" stroke="#9c9cee" stroke-opacity="0.55"/>
<path d="M634.8,32.8 635.8,42.8 637.8,52.8 642.8,60.8 648.8,67.8 654.8,73.8" stroke="#f29a9a" stroke-opacity="0.55"/>
<path d="M637.4,35.5 638.4,45.5 640.4,55.5 645.4,63.5 651.4,70.5 657.4,76.5" stroke="#f29a9a" stroke-opacity="0.55"/>
<path d="M634.1,31.7 635.1,41.7 637.1,51.7 642.1,59.7 648.1,66.7 654.1,72.7" stroke="#f29a9a" stroke-opacity="0.55"/>
<path d="M577.0,77.0 591.0,79.5 605.7,81.5 619.0,80.5 632.0,79.2 643.0,85.8" stroke="#f29a9a" stroke-opacity="0.55"/>
<path d="M582.7,80.6 596.7,83.1 611.4,85.1 624.7,84.1 637.7,82.8 648.7,89.4" stroke="#f29a9a" stroke-opacity="0.55"/>
<path d="M582.8,79.5 596.8,82.0 611.5,84.0 624.8,83.0 637.8,81.7 648.8,88.3" stroke="#f29a9a" stroke-opacity="0.55"/>
<path d="M577.4,88.2 590.4,90.2 603.9,92.9 612.4,94.2 621.4,95.2" stroke="#9c9cee" stroke-opacity="0.55"/>
<path d="M582.7,88.0 595.7,90.0 609.2,92.7 617.7,94.0 626.7,95.0" stroke="#9c9cee" stroke-opacity="0.55"/>
<path d="M581.6,86.4 594.6,88.4 608.1,91.1 616.6,92.4 625.6,93.4" stroke="#f29a9a" stroke-opacity="0.55"/>
<path d="M502.0,81.4 505.5,71.1 513.4,76.7 517.5,68.0 524.9,74.8 527.4,65.3 531.4,68.5 535.7,70.5 539.6,62.0 547.1,67.3 548.7,63.7 550.3,57.9" stroke="#9c9cee" stroke-opacity="0.55"/>
<path d="M500.1,81.2 503.6,70.9 511.5,76.5 515.6,67.7 523.0,74.6 525.5,65.1 529.5,68.3 533.8,70.3 537.7,61.8 545.2,67.1 546.8,63.5 548.4,57.7" stroke="#9c9cee" stroke-opacity="0.55"/>
<path d="M497.8,77.4 501.2,67.1 509.2,72.7 513.2,63.9 520.7,70.8 523.2,61.2 527.2,64.5 531.5,66.5 535.4,57.9 542.8,63.3 544.5,59.7 546.1,53.8" stroke="#9c9cee" stroke-opacity="0.55"/>
<path d="M503.7,88.7 512.1,93.9 515.6,84.3 523.6,91.0 527.7,81.2 536.2,86.8 539.5,78.1 548.0,83.6 549.3,79.4 551.1,74.9 559.4,80.5 563.9,71.9 567.7,75.3 572.1,78.0" stroke="#f29a9a" stroke-opacity="0.55"/>
<path d="M507.0,87.8 515.5,93.0 518.9,83.5 527.0,90.1 531.1,80.3 539.6,85.9 542.8,77.2 551.3,82.7 552.7,78.5 554.5,74.0 562.8,79.6 567.2,71.0 571.1,74.4 575.4,77.2" stroke="#9c9cee" stroke-opacity="0.55"/>
<path d="M510.3,89.1 518.8,94.3 522.2,84.7 530.3,91.4 534.4,81.6 542.9,87.2 546.1,78.5 554.6,84.0 555.9,79.8 557.8,75.3 566.1,80.9 570.5,72.3 574.4,75.6 578.7,78.4" stroke="#9c9cee" stroke-opacity="0.55"/>
<path d="M488.4,106.0 490.5,102.7 492.5,97.0 499.7,102.5 503.5,93.5 507.1,97.1" stroke="#f29a9a" stroke-opacity="0.55"/>
<path d="M486.5,103.5 488.5,100.2 490.5,94.5 497.8,100.0 501.6,91.0 505.1,94.6" stroke="#9c9cee" stroke-opacity="0.55"/>
<path d="M484.9,104.3 486.9,101.1 488.9,95.3 496.2,100.9 500.0,91.9 503.6,95.5" stroke="#f29a9a" stroke-opacity="0.55"/>
<path d="M520.2,50.5 527.9,55.6 531.0,45.7 538.5,50.6 541.7,42.3 549.1,46.4" stroke="#9c9cee" stroke-opacity="0.55"/>
<path d="M523.2,51.2 530.8,56.4 534.0,46.4 541.5,51.4 544.7,43.0 552.0,47.1" stroke="#f29a9a" stroke-opacity="0.55"/>
<path d="M522.3,49.8 530.0,54.9 533.2,45.0 540.7,49.9 543.9,41.6 551.2,45.7" stroke="#9c9cee" stroke-opacity="0.55"/>
<path d="M564.9,76.3 567.6,79.6 570.8,85.4 576.5,78.4 580.9,86.7 587.2,78.6 591.8,87.1 599.1,79.5" stroke="#f29a9a" stroke-opacity="0.55"/>
<path d="M562.7,71.3 565.3,74.6 568.5,80.4 574.2,73.4 578.7,81.7 585.0,73.6 589.5,82.1 596.8,74.5" stroke="#f29a9a" stroke-opacity="0.55"/>
<path d="M563.3,72.1 566.0,75.5 569.1,81.2 574.8,74.2 579.3,82.6 585.6,74.4 590.1,83.0 597.5,75.4" stroke="#f29a9a" stroke-opacity="0.55"/>
<path d="M560.9,135.6 565.0,127.3 567.8,129.9 571.2,133.1 573.0,129.2 575.2,125.3 578.0,128.3 581.4,132.0 583.7,128.3 586.5,123.8 592.5,130.1 596.7,122.7 603.7,128.3 607.7,120.9" stroke="#9c9cee" stroke-opacity="0.55"/>
<path d="M563.5,136.1 567.6,127.9 570.5,130.5 573.9,133.6 575.6,129.7 577.9,125.9 580.6,128.9 584.0,132.5 586.3,128.8 589.2,124.4 595.2,130.6 599.3,123.3 606.3,128.8 610.4,121.5" stroke="#f29a9a" stroke-opacity="0.55"/>
<path d="M563.9,140.5 568.0,132.2 570.8,134.8 574.3,138.0 576.0,134.1 578.2,130.3 581.0,133.2 584.4,136.9 586.7,133.2 589.5,128.8 595.5,135.0 599.7,127.7 606.7,133.2 610.8,125.9" stroke="#9c9cee" stroke-opacity="0.55"/>
<path d="M603.7,122.6 612.5,127.5 615.1,118.6 618.3,120.2 622.9,124.1 626.1,114.6 633.4,119.3 636.5,110.5 639.5,112.1 644.1,116.5 647.7,106.9" stroke="#9c9cee" stroke-opacity="0.55"/>
<path d="M603.9,123.8 612.8,128.7 615.3,119.8 618.5,121.4 623.1,125.3 626.4,115.8 633.7,120.5 636.7,111.7 639.8,113.3 644.4,117.6 647.9,108.1" stroke="#f29a9a" stroke-opacity="0.55"/>
<path d="M603.7,124.4 612.6,129.2 615.1,120.4 618.3,121.9 622.9,125.8 626.2,116.4 633.5,121.0 636.5,112.3 639.6,113.9 644.2,118.2 647.7,108.6" stroke="#f29a9a" stroke-opacity="0.55"/>
<path d="M582.9,152.0 586.0,143.0 594.2,149.5 597.4,140.1 604.5,146.1 606.5,142.2 608.7,136.9 612.4,139.6 616.8,142.5 619.6,133.4 627.3,139.8 630.2,130.0 637.7,136.0 639.7,134.1 640.9,127.5 649.4,133.6 653.8,124.4" stroke="#9c9cee" stroke-opacity="0.55"/>
<path d="M584.0,151.2 587.1,142.2 595.3,148.7 598.5,139.3 605.6,145.3 607.5,141.4 609.7,136.1 613.4,138.8 617.8,141.7 620.6,132.6 628.4,139.0 631.2,129.2 638.7,135.2 640.7,133.3 641.9,126.7 650.5,132.8 654.8,123.6" stroke="#9c9cee" stroke-opacity="0.55"/>
<path d="M578.8,149.8 581.9,140.9 590.1,147.3 593.3,137.9 600.4,144.0 602.3,140.0 604.6,134.8 608.3,137.5 612.7,140.4 615.5,131.3 623.2,137.6 626.1,127.9 633.6,133.8 635.5,131.9 636.8,125.3 645.3,131.4 649.7,122.2" stroke="#9c9cee" stroke-opacity="0.55"/>
<path d="M482.6,133.0 489.7,138.0 490.7,133.4 492.3,128.7 500.4,135.1 501.9,129.8 504.7,126.1 512.0,130.2 513.7,126.5 515.8,122.2" stroke="#9c9cee" stroke-opacity="0.55"/>
<path d="M486.0,134.3 493.0,139.3 494.1,134.7 495.7,129.9 503.8,136.3 505.3,131.1 508.0,127.3 515.4,131.4 517.1,127.8 519.2,123.4" stroke="#f29a9a" stroke-opacity="0.55"/>
<path d="M480.5,133.9 487.6,138.9 488.7,134.3 490.2,129.6 498.4,136.0 499.9,130.7 502.6,127.0 510.0,131.1 511.6,127.4 513.7,123.1" stroke="#9c9cee" stroke-opacity="0.55"/>
<path d="M552.9,50.8 561.4,54.6 558.6,58.5 555.6,63.0 565.0,66.6" stroke="#f29a9a" stroke-opacity="0.55"/>
<path d="M554.0,53.8 562.5,57.6 559.7,61.4 556.8,66.0 566.1,69.6" stroke="#f29a9a" stroke-opacity="0.55"/>
<path d="M553.7,50.0 562.2,53.8 559.4,57.7 556.5,62.2 565.8,65.8" stroke="#9c9cee" stroke-opacity="0.55"/>
<path d="M490.8,60.0 492.4,51.7 495.8,56.6 500.7,55.0 507.4,50.0 515.7,46.7 522.3,45.0" stroke="#f29a9a" stroke-opacity="0.55"/>
<path d="M489.9,64.9 491.5,56.6 494.9,61.5 499.8,59.9 506.5,54.9 514.8,51.6 521.4,49.9" stroke="#f29a9a" stroke-opacity="0.55"/>
<path d="M529.9,39.1 534.9,37.5 539.9,38.3 544.9,39.9" stroke="#9c9cee" stroke-opacity="0.55"/>
<path d="M530.6,39.6 535.6,38.0 540.6,38.8 545.6,40.4" stroke="#f29a9a" stroke-opacity="0.55"/>
<path d="M528.2,40.6 533.2,39.0 538.2,39.8 543.2,41.4" stroke="#f29a9a" stroke-opacity="0.55"/>
<path d="M561.1,42.6 566.1,35.9 572.7,31.8 579.4,32.6 580.2,35.9 576.1,39.2 571.1,40.9 566.1,45.9 562.8,49.2" stroke="#f29a9a" stroke-opacity="0.55"/>
<path d="M556.8,43.4 561.8,36.7 568.4,32.6 575.1,33.4 575.9,36.7 571.8,40.0 566.8,41.7 561.8,46.7 558.5,50.0" stroke="#f29a9a" stroke-opacity="0.55"/>
<path d="M557.7,43.9 562.7,37.2 569.3,33.1 576.0,33.9 576.8,37.2 572.7,40.5 567.7,42.2 562.7,47.2 559.4,50.5" stroke="#9c9cee" stroke-opacity="0.55"/>
<path d="M563.1,47.9 568.1,43.0 573.9,38.8 580.6,38.0 582.2,47.1 576.4,46.3 573.1,51.3 568.1,49.6 566.5,57.1 574.8,57.1" stroke="#f29a9a" stroke-opacity="0.55"/>
<path d="M559.8,45.4 564.8,40.5 570.6,36.3 577.3,35.5 578.9,44.6 573.1,43.8 569.8,48.8 564.8,47.1 563.2,54.6 571.5,54.6" stroke="#9c9cee" stroke-opacity="0.55"/>
<path d="M565.2,47.0 570.2,42.1 576.0,37.9 582.7,37.1 584.3,46.2 578.5,45.4 575.2,50.4 570.2,48.7 568.6,56.2 576.9,56.2" stroke="#f29a9a" stroke-opacity="0.55"/>
<path d="M492.2,86.2 487.3,87.9 483.9,96.1 485.6,102.8 490.6,106.1" stroke="#9c9cee" stroke-opacity="0.55"/>
<path d="M492.9,90.7 488.0,92.4 484.6,100.6 486.3,107.3 491.3,110.6" stroke="#f29a9a" stroke-opacity="0.55"/>
<path d="M493.1,90.7 488.2,92.4 484.8,100.6 486.5,107.3 491.5,110.6" stroke="#f29a9a" stroke-opacity="0.55"/>
<path d="M483.3,94.3 484.9,102.6 483.3,107.6 488.3,112.5" stroke="#9c9cee" stroke-opacity="0.55"/>
<path d="M477.3,91.5 478.9,99.8 477.3,104.8 482.3,109.7" stroke="#9c9cee" stroke-opacity="0.55"/>
<path d="M482.1,98.3 483.7,106.6 482.1,111.6 487.1,116.5" stroke="#9c9cee" stroke-opacity="0.55"/>
<path d="M512.1,117.2 510.5,125.5 508.8,132.1" stroke="#9c9cee" stroke-opacity="0.55"/>
<path d="M516.2,119.0 514.6,127.3 512.9,133.9" stroke="#9c9cee" stroke-opacity="0.55"/>
<path d="M511.6,119.8 510.0,128.1 508.3,134.7" stroke="#f29a9a" stroke-opacity="0.55"/>
<path d="M528.6,115.8 531.9,109.2 536.9,102.5 540.2,99.2 543.6,100.9 550.5,100.9 553.9,97.6 557.2,99.2 562.1,104.2 565.5,107.5 560.5,109.2 553.9,107.5 548.9,109.2 545.6,105.9" stroke="#f29a9a" stroke-opacity="0.55"/>
<path d="M533.0,114.5 536.3,107.9 541.3,101.2 544.6,97.9 548.0,99.6 554.9,99.6 558.3,96.3 561.6,97.9 566.5,102.9 569.9,106.2 564.9,107.9 558.3,106.2 553.3,107.9 550.0,104.6" stroke="#f29a9a" stroke-opacity="0.55"/>
<path d="M529.9,117.4 533.2,110.8 538.2,104.1 541.5,100.8 544.9,102.5 551.8,102.5 555.2,99.2 558.5,100.8 563.4,105.8 566.8,109.1 561.8,110.8 555.2,109.1 550.2,110.8 546.9,107.5" stroke="#9c9cee" stroke-opacity="0.55"/>
<path d="M523.5,113.5 528.5,108.5 533.5,106.9 538.4,110.2 541.8,106.9" stroke="#f29a9a" stroke-opacity="0.55"/>
<path d="M523.1,115.1 528.1,110.1 533.1,108.5 538.0,111.8 541.4,108.5" stroke="#9c9cee" stroke-opacity="0.55"/>
<path d="M526.6,116.5 531.6,111.5 536.6,109.9 541.5,113.2 544.9,109.9" stroke="#9c9cee" stroke-opacity="0.55"/>
<path d="M574.3,81.3 581.3,79.3 589.9,77.3 598.7,81.3 607.3,86.0 618.6,88.3 631.8,90.3 629.6,97.0 623.0,101.3 616.3,105.9" stroke="#9c9cee" stroke-opacity="0.55"/>
<path d="M572.1,83.8 579.1,81.8 587.7,79.8 596.5,83.8 605.1,88.5 616.4,90.8 629.6,92.8 627.4,99.5 620.8,103.8 614.1,108.4" stroke="#9c9cee" stroke-opacity="0.55"/>
<path d="M571.5,81.8 578.5,79.8 587.1,77.8 595.9,81.8 604.5,86.5 615.8,88.8 629.0,90.8 626.8,97.5 620.2,101.8 613.5,106.4" stroke="#9c9cee" stroke-opacity="0.55"/>
<path d="M572.1,83.7 579.1,81.7 587.1,79.7 595.1,84.7 604.1,88.7 614.1,91.7 623.1,93.7 621.1,98.7 615.1,103.7" stroke="#f29a9a" stroke-opacity="0.55"/>
<path d="M571.6,89.3 578.6,87.3 586.6,85.3 594.6,90.3 603.6,94.3 613.6,97.3 622.6,99.3 620.6,104.3 614.6,109.3" stroke="#f29a9a" stroke-opacity="0.55"/>
<path d="M573.4,86.2 580.4,84.2 588.4,82.2 596.4,87.2 605.4,91.2 615.4,94.2 624.4,96.2 622.4,101.2 616.4,106.2" stroke="#9c9cee" stroke-opacity="0.55"/>
<path d="M586.5,81.2 588.7,90.2 597.5,98.9 603.9,103.2 608.5,107.8" stroke="#f29a9a" stroke-opacity="0.55"/>
<path d="M589.6,78.7 591.8,87.7 600.6,96.4 607.0,100.7 611.6,105.3" stroke="#9c9cee" stroke-opacity="0.55"/>
<path d="M588.8,82.5 591.0,91.5 599.8,100.2 606.2,104.5 610.8,109.1" stroke="#f29a9a" stroke-opacity="0.55"/>
<path d="M585.8,88.5 590.8,97.5 594.8,104.5 601.8,107.5 605.8,113.5 599.8,118.5 593.8,116.5" stroke="#9c9cee" stroke-opacity="0.55"/>
<path d="M584.5,89.4 589.5,98.4 593.5,105.4 600.5,108.4 604.5,114.4 598.5,119.4 592.5,117.4" stroke="#9c9cee" stroke-opacity="0.55"/>
<path d="M586.2,83.9 591.2,92.9 595.2,99.9 602.2,102.9 606.2,108.9 600.2,113.9 594.2,111.9" stroke="#f29a9a" stroke-opacity="0.55"/>
<path d="M533.1,117.5 537.7,109.9 542.2,108.4 548.3,111.4 554.4,114.4 558.9,120.5 563.5,125.1 569.5,128.1 568.0,132.7 575.6,132.7 578.6,129.6" stroke="#9c9cee" stroke-opacity="0.55"/>
<path d="M529.3,118.2 533.9,110.6 538.4,109.1 544.5,112.1 550.6,115.1 555.1,121.2 559.7,125.8 565.7,128.8 564.2,133.4 571.8,133.4 574.8,130.3" stroke="#f29a9a" stroke-opacity="0.55"/>
<path d="M526.8,120.2 531.4,112.6 535.9,111.1 542.0,114.1 548.1,117.1 552.6,123.2 557.2,127.8 563.2,130.8 561.7,135.4 569.3,135.4 572.3,132.3" stroke="#f29a9a" stroke-opacity="0.55"/>
<path d="M529.3,128.5 536.9,127.0 544.5,127.0 552.1,125.5 559.7,123.9 565.7,120.9 574.8,119.4 582.4,119.4 587.0,117.9" stroke="#f29a9a" stroke-opacity="0.55"/>
<path d="M528.3,127.6 535.9,126.1 543.5,126.1 551.1,124.6 558.7,123.0 564.7,120.0 573.8,118.5 581.4,118.5 586.0,117.0" stroke="#9c9cee" stroke-opacity="0.55"/>
<path d="M528.9,126.6 536.5,125.1 544.1,125.1 551.7,123.6 559.3,122.0 565.3,119.0 574.4,117.5 582.0,117.5 586.6,116.0" stroke="#f29a9a" stroke-opacity="0.55"/>
<path d="M530.5,130.5 539.6,129.0 548.7,127.5 556.3,126.0 563.9,124.5 570.0,127.5 576.0,124.5 582.1,121.4 588.2,118.4 588.2,113.8 591.2,110.8 594.3,113.8 598.8,112.3" stroke="#9c9cee" stroke-opacity="0.55"/>
<path d="M528.0,133.5 537.1,132.0 546.2,130.5 553.8,129.0 561.4,127.5 567.5,130.5 573.5,127.5 579.6,124.4 585.7,121.4 585.7,116.8 588.7,113.8 591.8,116.8 596.3,115.3" stroke="#9c9cee" stroke-opacity="0.55"/>
<path d="M527.7,134.1 536.8,132.6 545.9,131.1 553.5,129.6 561.1,128.1 567.2,131.1 573.2,128.1 579.3,125.0 585.4,122.0 585.4,117.4 588.4,114.4 591.5,117.4 596.0,115.9" stroke="#f29a9a" stroke-opacity="0.55"/>
<path d="M614.6,83.2 621.2,81.5 627.9,79.9 634.5,81.5 639.5,78.2 644.5,79.9 646.1,88.2 647.8,91.5 654.4,93.1 657.7,89.8 659.4,84.9 662.7,79.9 667.7,76.5 674.3,74.9" stroke="#9c9cee" stroke-opacity="0.55"/>
<path d="M617.3,81.2 623.9,79.5 630.6,77.9 637.2,79.5 642.2,76.2 647.2,77.9 648.8,86.2 650.5,89.5 657.1,91.1 660.4,87.8 662.1,82.9 665.4,77.9 670.4,74.5 677.0,72.9" stroke="#f29a9a" stroke-opacity="0.55"/>
<path d="M616.8,83.7 623.4,82.0 630.1,80.4 636.7,82.0 641.7,78.7 646.7,80.4 648.3,88.7 650.0,92.0 656.6,93.6 659.9,90.3 661.6,85.4 664.9,80.4 669.9,77.0 676.5,75.4" stroke="#f29a9a" stroke-opacity="0.55"/>
<path d="M612.7,85.5 619.3,87.1 626.0,88.8 624.3,97.1 619.3,100.4 614.4,103.7" stroke="#9c9cee" stroke-opacity="0.55"/>
<path d="M618.0,90.9 624.6,92.5 631.3,94.2 629.6,102.5 624.6,105.8 619.7,109.1" stroke="#9c9cee" stroke-opacity="0.55"/>
<path d="M614.3,85.3 620.9,86.9 627.6,88.6 625.9,96.9 620.9,100.2 616.0,103.5" stroke="#f29a9a" stroke-opacity="0.55"/>
<path d="M649.9,104.4 658.8,111.0 667.6,106.6 674.2,111.0" stroke="#f29a9a" stroke-opacity="0.55"/>
<path d="M649.7,103.4 658.6,110.0 667.4,105.6 674.0,110.0" stroke="#f29a9a" stroke-opacity="0.55"/>
<path d="M648.0,104.9 656.9,111.5 665.7,107.1 672.3,111.5" stroke="#f29a9a" stroke-opacity="0.55"/>
<path d="M506.2,124.5 507.8,132.8 509.5,141.1 506.2,146.1 502.8,151.0 501.2,154.4 506.2,157.7 512.8,159.3 517.8,162.6 521.1,166.0 522.7,169.3" stroke="#9c9cee" stroke-opacity="0.55"/>
<path d="M503.2,125.3 504.8,133.6 506.5,141.9 503.2,146.9 499.8,151.8 498.2,155.2 503.2,158.5 509.8,160.1 514.8,163.4 518.1,166.8 519.7,170.1" stroke="#9c9cee" stroke-opacity="0.55"/>
<path d="M504.1,121.8 505.7,130.1 507.4,138.4 504.1,143.4 500.7,148.3 499.1,151.7 504.1,155.0 510.7,156.6 515.7,159.9 519.0,163.3 520.6,166.6" stroke="#f29a9a" stroke-opacity="0.55"/>
<path d="M514.2,122.5 512.5,130.8 515.8,139.1 510.9,142.4 505.9,145.7 504.2,149.0 507.6,152.4 512.5,155.7 517.5,157.3 520.8,159.0" stroke="#f29a9a" stroke-opacity="0.55"/>
<path d="M508.6,127.0 506.9,135.3 510.2,143.6 505.3,146.9 500.3,150.2 498.6,153.5 502.0,156.9 506.9,160.2 511.9,161.8 515.2,163.5" stroke="#f29a9a" stroke-opacity="0.55"/>
<path d="M511.2,128.5 509.5,136.8 512.8,145.1 507.9,148.4 502.9,151.7 501.2,155.0 504.6,158.4 509.5,161.7 514.5,163.3 517.8,165.0" stroke="#9c9cee" stroke-opacity="0.55"/>
<path d="M513.3,143.0 519.9,141.3 524.9,138.0 529.9,134.7 536.5,131.4 543.2,129.7" stroke="#f29a9a" stroke-opacity="0.55"/>
<path d="M511.5,141.7 518.1,140.0 523.1,136.7 528.1,133.4 534.7,130.1 541.4,128.4" stroke="#f29a9a" stroke-opacity="0.55"/>
<path d="M518.1,138.8 524.7,137.1 529.7,133.8 534.7,130.5 541.3,127.2 548.0,125.5" stroke="#9c9cee" stroke-opacity="0.55"/>
<path d="M523.5,124.6 526.9,131.2 530.2,137.9 528.5,146.2 530.2,152.8 530.2,157.8 526.9,162.7 523.5,167.7" stroke="#9c9cee" stroke-opacity="0.55"/>
<path d="M520.2,123.1 523.6,129.7 526.9,136.4 525.2,144.7 526.9,151.3 526.9,156.3 523.6,161.2 520.2,166.2" stroke="#f29a9a" stroke-opacity="0.55"/>
<path d="M523.5,123.9 526.9,130.5 530.2,137.2 528.5,145.5 530.2,152.1 530.2,157.1 526.9,162.0 523.5,167.0" stroke="#f29a9a" stroke-opacity="0.55"/>
<path d="M523.5,160.0 528.4,161.7 531.7,160.0 535.1,156.7 540.0,158.4 543.7,156.9" stroke="#9c9cee" stroke-opacity="0.55"/>
<path d="M524.8,160.3 529.7,162.0 533.0,160.3 536.4,157.0 541.3,158.7 545.0,157.2" stroke="#9c9cee" stroke-opacity="0.55"/>
<path d="M525.4,164.0 530.3,165.7 533.6,164.0 537.0,160.7 541.9,162.4 545.6,160.9" stroke="#f29a9a" stroke-opacity="0.55"/>
<path d="M490.7,148.4 495.7,156.7 492.3,160.0 497.3,166.6 500.6,171.6 507.3,173.3 512.2,176.6 515.6,179.9 518.9,176.6" stroke="#f29a9a" stroke-opacity="0.55"/>
<path d="M491.6,144.8 496.6,153.1 493.2,156.4 498.2,163.0 501.5,168.0 508.2,169.7 513.1,173.0 516.5,176.3 519.8,173.0" stroke="#f29a9a" stroke-opacity="0.55"/>
<path d="M494.6,144.3 499.6,152.6 496.2,155.9 501.2,162.5 504.5,167.5 511.2,169.2 516.1,172.5 519.5,175.8 522.8,172.5" stroke="#f29a9a" stroke-opacity="0.55"/>
<path d="M530.7,174.2 535.6,177.6 540.6,175.9 547.3,172.6" stroke="#f29a9a" stroke-opacity="0.55"/>
<path d="M529.3,170.0 534.2,173.4 539.2,171.7 545.9,168.4" stroke="#f29a9a" stroke-opacity="0.55"/>
<path d="M526.7,170.0 531.6,173.4 536.6,171.7 543.3,168.4" stroke="#f29a9a" stroke-opacity="0.55"/>
<path d="M581.9,158.1 585.2,166.3 591.9,164.7 590.2,158.1" stroke="#f29a9a" stroke-opacity="0.55"/>
<path d="M588.0,152.7 591.3,160.9 598.0,159.3 596.3,152.7" stroke="#f29a9a" stroke-opacity="0.55"/>
<path d="M586.5,155.1 589.8,163.3 596.5,161.7 594.8,155.1" stroke="#9c9cee" stroke-opacity="0.55"/>
<path d="M574.7,157.2 579.2,166.1 588.0,161.7 594.6,159.4" stroke="#f29a9a" stroke-opacity="0.55"/>
<path d="M573.0,157.5 577.5,166.4 586.3,162.0 592.9,159.7" stroke="#f29a9a" stroke-opacity="0.55"/>
<path d="M571.8,158.5 576.3,167.4 585.1,163.0 591.7,160.7" stroke="#f29a9a" stroke-opacity="0.55"/>
<path d="M546.1,154.7 551.1,151.7 554.4,159.7 549.4,164.7 546.1,168.2" stroke="#9c9cee" stroke-opacity="0.55"/>
<path d="M544.8,150.9 549.8,147.9 553.1,155.9 548.1,160.9 544.8,164.4" stroke="#f29a9a" stroke-opacity="0.55"/>
<path d="M541.9,151.2 546.9,148.2 550.2,156.2 545.2,161.2 541.9,164.7" stroke="#9c9cee" stroke-opacity="0.55"/>
<path d="M561.8,122.7 570.6,127.1 575.1,133.8 583.9,136.0" stroke="#9c9cee" stroke-opacity="0.55"/>
<path d="M558.4,121.7 567.2,126.1 571.7,132.8 580.5,135.0" stroke="#f29a9a" stroke-opacity="0.55"/>
<path d="M557.9,124.4 566.7,128.8 571.2,135.5 580.0,137.7" stroke="#9c9cee" stroke-opacity="0.55"/>
<path d="M612.2,146.9 615.5,153.4 620.5,158.4 625.5,158.4" stroke="#f29a9a" stroke-opacity="0.55"/>
<path d="M614.1,145.0 617.4,151.5 622.4,156.5 627.4,156.5" stroke="#f29a9a" stroke-opacity="0.55"/>
<path d="M612.9,144.3 616.2,150.8 621.2,155.8 626.2,155.8" stroke="#9c9cee" stroke-opacity="0.55"/>
<path d="M615.7,159.6 617.4,164.6 622.3,161.3 627.3,160.4" stroke="#f29a9a" stroke-opacity="0.55"/>
<path d="M617.5,159.3 619.2,164.3 624.1,161.0 629.1,160.1" stroke="#f29a9a" stroke-opacity="0.55"/>
<path d="M612.5,154.5 614.2,159.5 619.1,156.2 624.1,155.3" stroke="#9c9cee" stroke-opacity="0.55"/>
<path d="M669.4,128.3 671.0,131.6 674.4,129.9" stroke="#f29a9a" stroke-opacity="0.55"/>
<path d="M669.5,128.7 671.1,132.0 674.5,130.3" stroke="#f29a9a" stroke-opacity="0.55"/>
<path d="M480.1,143.7 483.5,138.7 486.8,133.7 490.1,128.7 493.4,123.8" stroke="#9c9cee" stroke-opacity="0.55"/>
<path d="M479.8,144.7 483.2,139.7 486.5,134.7 489.8,129.7 493.1,124.8" stroke="#9c9cee" stroke-opacity="0.55"/>
<path d="M479.7,149.4 483.1,144.4 486.4,139.4 489.7,134.4 493.0,129.5" stroke="#f29a9a" stroke-opacity="0.55"/>
<path d="M626.6,280.4 621.5,284.4 616.5,288.7 610.2,290.3" stroke="#f29a9a" stroke-opacity="0.55"/>
<path d="M627.9,281.9 622.7,285.9 617.8,290.1 611.5,291.8" stroke="#9c9cee" stroke-opacity="0.55"/>
<path d="M625.8,284.0 620.7,288.0 615.8,292.2 609.5,293.9" stroke="#f29a9a" stroke-opacity="0.55"/>
<path d="M646.4,278.0 651.8,274.3 655.2,268.8 655.4,262.3 650.3,258.2" stroke="#f29a9a" stroke-opacity="0.55"/>
<path d="M646.5,278.9 651.9,275.2 655.3,269.7 655.5,263.2 650.4,259.1" stroke="#f29a9a" stroke-opacity="0.55"/>
<path d="M648.3,278.0 653.6,274.4 657.0,268.8 657.2,262.3 652.2,258.2" stroke="#9c9cee" stroke-opacity="0.55"/>
<path d="M656.7,229.2 650.2,229.7 649.1,236.1 642.6,236.4 638.9,231.0 638.4,224.6" stroke="#9c9cee" stroke-opacity="0.55"/>
<path d="M657.8,227.2 651.3,227.6 650.2,234.0 643.7,234.4 640.0,229.0 639.5,222.5" stroke="#9c9cee" stroke-opacity="0.55"/>
<path d="M659.8,229.5 653.3,230.0 652.2,236.4 645.7,236.7 642.0,231.3 641.5,224.9" stroke="#f29a9a" stroke-opacity="0.55"/>
<path d="M627.9,234.7 625.2,236.5 618.8,237.5 623.7,245.1" stroke="#f29a9a" stroke-opacity="0.55"/>
<path d="M627.3,229.9 624.6,231.7 618.2,232.8 623.1,240.4" stroke="#f29a9a" stroke-opacity="0.55"/>
<path d="M628.2,234.1 625.5,236.0 619.1,237.0 624.0,244.6" stroke="#f29a9a" stroke-opacity="0.55"/>
<path d="M627.0,266.8 633.3,276.0 623.2,278.6 629.2,287.0 625.6,288.5 620.1,289.9" stroke="#f29a9a" stroke-opacity="0.55"/>
<path d="M627.9,265.8 634.3,275.1 624.1,277.6 630.1,286.0 626.6,287.5 621.0,288.9" stroke="#9c9cee" stroke-opacity="0.55"/>
<path d="M627.9,265.5 634.3,274.8 624.1,277.4 630.1,285.8 626.5,287.2 621.0,288.6" stroke="#9c9cee" stroke-opacity="0.55"/>
<path d="M629.0,260.2 619.4,259.4 621.3,265.0 621.1,269.7 617.8,269.9 612.5,269.1 614.3,278.9 608.7,278.0" stroke="#9c9cee" stroke-opacity="0.55"/>
<path d="M629.5,258.0 619.9,257.2 621.8,262.8 621.6,267.5 618.3,267.7 613.0,266.9 614.8,276.7 609.2,275.8" stroke="#f29a9a" stroke-opacity="0.55"/>
<path d="M628.6,255.7 619.0,255.0 620.8,260.6 620.7,265.3 617.4,265.5 612.1,264.6 613.8,274.4 608.3,273.5" stroke="#9c9cee" stroke-opacity="0.55"/>
<path d="M613.3,251.1 607.0,249.2 600.7,250.7 595.5,254.6" stroke="#9c9cee" stroke-opacity="0.55"/>
<path d="M615.8,256.7 609.6,254.8 603.3,256.2 598.1,260.1" stroke="#9c9cee" stroke-opacity="0.55"/>
<path d="M617.5,251.2 611.3,249.3 604.9,250.8 599.7,254.7" stroke="#9c9cee" stroke-opacity="0.55"/>
<path d="M658.8,273.8 649.5,269.8 648.5,278.6 639.5,276.4 638.0,279.6" stroke="#f29a9a" stroke-opacity="0.55"/>
<path d="M656.4,273.0 647.1,269.1 646.1,277.8 637.1,275.6 635.6,278.8" stroke="#9c9cee" stroke-opacity="0.55"/>
<path d="M659.5,267.5 650.3,263.6 649.2,272.4 640.3,270.2 638.7,273.3" stroke="#f29a9a" stroke-opacity="0.55"/>
<path d="M601.9,260.0 602.3,263.9 602.6,268.6 598.5,268.0 593.9,267.7" stroke="#f29a9a" stroke-opacity="0.55"/>
<path d="M599.1,255.9 599.5,259.8 599.8,264.4 595.7,263.9 591.1,263.5" stroke="#f29a9a" stroke-opacity="0.55"/>
<path d="M602.0,259.1 602.3,263.0 602.6,267.7 598.6,267.1 594.0,266.8" stroke="#9c9cee" stroke-opacity="0.55"/>
<path d="M599.9,287.0 604.2,287.3 610.1,287.2 609.8,290.4 608.2,295.5 612.3,295.7 617.0,296.2" stroke="#f29a9a" stroke-opacity="0.55"/>
<path d="M598.5,291.0 602.8,291.3 608.7,291.2 608.5,294.4 606.8,299.5 610.9,299.7 615.7,300.2" stroke="#f29a9a" stroke-opacity="0.55"/>
<path d="M598.0,285.8 602.4,286.1 608.3,286.0 608.0,289.2 606.4,294.3 610.5,294.5 615.2,295.0" stroke="#f29a9a" stroke-opacity="0.55"/>
<path d="M628.3,251.8 637.6,256.9 631.2,264.1 634.5,266.4 638.4,269.2 637.4,272.4" stroke="#f29a9a" stroke-opacity="0.55"/>
<path d="M622.6,251.9 631.8,257.0 625.4,264.2 628.7,266.5 632.6,269.4 631.6,272.5" stroke="#f29a9a" stroke-opacity="0.55"/>
<path d="M628.3,252.1 637.6,257.2 631.2,264.4 634.5,266.7 638.3,269.5 637.3,272.7" stroke="#9c9cee" stroke-opacity="0.55"/>
<path d="M654.6,257.7 661.3,249.6 667.5,257.6" stroke="#f29a9a" stroke-opacity="0.55"/>
<path d="M655.7,258.3 662.3,250.2 668.6,258.2" stroke="#f29a9a" stroke-opacity="0.55"/>
<path d="M656.2,258.1 662.9,250.0 669.1,258.0" stroke="#9c9cee" stroke-opacity="0.55"/>
<path d="M628.0,221.4 628.0,231.2 619.1,228.3 618.3,238.0 608.0,235.8" stroke="#9c9cee" stroke-opacity="0.55"/>
<path d="M629.5,215.8 629.4,225.6 620.6,222.7 619.7,232.4 609.4,230.2" stroke="#f29a9a" stroke-opacity="0.55"/>
<path d="M624.6,219.5 624.6,229.3 615.7,226.5 614.9,236.1 604.6,233.9" stroke="#9c9cee" stroke-opacity="0.55"/>
<path d="M602.4,267.4 601.2,261.0 598.9,254.9 601.4,249.0 603.0,242.6 606.7,237.3" stroke="#9c9cee" stroke-opacity="0.55"/>
<path d="M607.2,271.3 606.0,264.9 603.7,258.8 606.2,252.8 607.8,246.5 611.5,241.2" stroke="#f29a9a" stroke-opacity="0.55"/>
<path d="M601.9,270.4 600.7,264.0 598.4,257.9 601.0,252.0 602.5,245.6 606.3,240.3" stroke="#f29a9a" stroke-opacity="0.55"/>
<path d="M608.2,310.5 611.9,305.1 618.2,303.6 624.6,302.6 624.0,296.1 617.5,296.9 617.9,303.4 617.1,309.8 620.9,315.1" stroke="#f29a9a" stroke-opacity="0.55"/>
<path d="M611.4,308.7 615.0,303.3 621.4,301.9 627.8,300.8 627.1,294.3 620.7,295.1 621.1,301.6 620.2,308.0 624.0,313.3" stroke="#9c9cee" stroke-opacity="0.55"/>
<path d="M606.6,310.8 610.2,305.4 616.5,303.9 623.0,302.9 622.3,296.4 615.9,297.2 616.2,303.7 615.4,310.1 619.2,315.4" stroke="#f29a9a" stroke-opacity="0.55"/>
<path d="M606.0,263.5 602.9,257.8 608.0,253.7 608.8,247.3 602.5,245.8 596.0,245.8 594.3,252.1 594.5,258.6" stroke="#f29a9a" stroke-opacity="0.55"/>
<path d="M609.1,262.3 606.0,256.6 611.1,252.6 611.9,246.1 605.6,244.7 599.1,244.7 597.3,250.9 597.6,257.4" stroke="#f29a9a" stroke-opacity="0.55"/>
<path d="M607.4,261.9 604.3,256.2 609.4,252.2 610.3,245.7 603.9,244.3 597.4,244.3 595.7,250.5 595.9,257.0" stroke="#9c9cee" stroke-opacity="0.55"/>
<path d="M634.0,251.7 635.7,256.8 636.7,261.9 626.9,260.2 628.3,269.2 619.1,268.6 619.5,272.6" stroke="#f29a9a" stroke-opacity="0.55"/>
<path d="M631.3,252.7 633.1,257.7 634.1,262.9 624.2,261.2 625.6,270.1 616.5,269.5 616.8,273.6" stroke="#f29a9a" stroke-opacity="0.55"/>
<path d="M632.4,248.5 634.2,253.5 635.2,258.7 625.4,257.0 626.8,265.9 617.6,265.3 618.0,269.4" stroke="#9c9cee" stroke-opacity="0.55"/>
<path d="M642.2,234.3 648.8,227.1 654.1,235.7" stroke="#9c9cee" stroke-opacity="0.55"/>
<path d="M648.2,235.0 654.8,227.8 660.1,236.4" stroke="#9c9cee" stroke-opacity="0.55"/>
<path d="M646.6,240.0 653.2,232.8 658.5,241.3" stroke="#9c9cee" stroke-opacity="0.55"/>
<path d="M609.5,305.9 604.2,302.1 598.0,304.1 591.5,304.0" stroke="#f29a9a" stroke-opacity="0.55"/>
<path d="M610.1,307.5 604.8,303.7 598.6,305.7 592.1,305.6" stroke="#f29a9a" stroke-opacity="0.55"/>
<path d="M613.5,309.5 608.1,305.7 601.9,307.7 595.4,307.6" stroke="#f29a9a" stroke-opacity="0.55"/>
<path d="M612.3,259.3 602.8,260.3 605.0,269.7" stroke="#f29a9a" stroke-opacity="0.55"/>
<path d="M607.8,263.2 598.3,264.2 600.5,273.6" stroke="#f29a9a" stroke-opacity="0.55"/>
<path d="M608.5,261.8 599.0,262.8 601.2,272.2" stroke="#f29a9a" stroke-opacity="0.55"/>
<path d="M650.7,253.4 641.5,254.8 645.6,264.0 635.7,263.7 639.4,272.9" stroke="#f29a9a" stroke-opacity="0.55"/>
<path d="M648.6,251.2 639.5,252.5 643.6,261.7 633.6,261.4 637.3,270.6" stroke="#f29a9a" stroke-opacity="0.55"/>
<path d="M650.6,251.6 641.4,253.0 645.5,262.2 635.6,261.8 639.3,271.1" stroke="#9c9cee" stroke-opacity="0.55"/>
<path d="M615.9,218.5 617.2,224.8 616.5,231.3 616.8,237.8 610.8,240.2" stroke="#9c9cee" stroke-opacity="0.55"/>
<path d="M613.5,218.7 614.8,225.0 614.1,231.5 614.4,238.0 608.3,240.4" stroke="#f29a9a" stroke-opacity="0.55"/>
<path d="M617.9,222.3 619.2,228.7 618.6,235.1 618.8,241.6 612.8,244.0" stroke="#f29a9a" stroke-opacity="0.55"/>
<path d="M613.3,243.4 618.2,245.2 622.9,247.6 616.7,255.1" stroke="#9c9cee" stroke-opacity="0.55"/>
<path d="M614.8,243.8 619.8,245.5 624.4,248.0 618.2,255.5" stroke="#f29a9a" stroke-opacity="0.55"/>
<path d="M613.5,247.9 618.5,249.7 623.2,252.1 616.9,259.6" stroke="#f29a9a" stroke-opacity="0.55"/>
<path d="M628.7,287.6 631.6,290.0 635.9,292.8 630.1,298.7 638.0,303.2 630.9,310.2" stroke="#f29a9a" stroke-opacity="0.55"/>
<path d="M627.0,284.9 629.9,287.3 634.2,290.1 628.4,296.0 636.3,300.5 629.2,307.5" stroke="#f29a9a" stroke-opacity="0.55"/>
<path d="M624.9,283.1 627.8,285.5 632.1,288.3 626.3,294.2 634.2,298.7 627.1,305.7" stroke="#f29a9a" stroke-opacity="0.55"/>
<path d="M626.6,300.9 616.7,298.8 617.2,302.8 618.0,308.0 613.9,306.6 608.8,305.0 609.4,310.1" stroke="#9c9cee" stroke-opacity="0.55"/>
<path d="M626.5,299.4 616.6,297.3 617.0,301.3 617.9,306.5 613.7,305.2 608.6,303.5 609.2,308.7" stroke="#f29a9a" stroke-opacity="0.55"/>
<path d="M629.0,294.6 619.1,292.5 619.6,296.5 620.4,301.6 616.3,300.3 611.2,298.6 611.8,303.8" stroke="#9c9cee" stroke-opacity="0.55"/>
<path d="M626.9,267.2 630.6,265.4 635.8,261.4 639.0,270.8 642.3,268.5 646.3,266.0 647.7,270.7" stroke="#f29a9a" stroke-opacity="0.55"/>
<path d="M628.8,264.3 632.5,262.5 637.6,258.6 640.8,267.9 644.1,265.7 648.1,263.1 649.5,267.8" stroke="#9c9cee" stroke-opacity="0.55"/>
<path d="M627.8,267.9 631.5,266.2 636.7,262.2 639.9,271.6 643.2,269.3 647.1,266.8 648.6,271.5" stroke="#9c9cee" stroke-opacity="0.55"/>
<path d="M621.9,287.2 614.9,293.2 616.5,296.2 622.0,299.8 618.9,302.5 614.7,305.7" stroke="#9c9cee" stroke-opacity="0.55"/>
<path d="M620.8,291.3 613.7,297.3 615.3,300.2 620.8,303.8 617.8,306.5 613.6,309.8" stroke="#f29a9a" stroke-opacity="0.55"/>
<path d="M620.1,291.7 613.1,297.7 614.7,300.7 620.2,304.3 617.1,306.9 612.9,310.2" stroke="#f29a9a" stroke-opacity="0.55"/>
<path d="M600.8,266.7 606.1,263.0 612.2,265.3 618.3,263.2 621.5,268.9 622.6,275.3 626.0,280.9" stroke="#9c9cee" stroke-opacity="0.55"/>
<path d="M597.2,262.4 602.6,258.7 608.6,261.0 614.8,258.9 617.9,264.7 619.1,271.0 622.4,276.6" stroke="#f29a9a" stroke-opacity="0.55"/>
<path d="M600.4,265.9 605.8,262.2 611.9,264.5 618.0,262.5 621.1,268.2 622.3,274.6 625.6,280.2" stroke="#9c9cee" stroke-opacity="0.55"/>
<path d="M610.1,229.4 616.6,229.1 622.5,226.4 627.6,222.3 634.0,221.2" stroke="#9c9cee" stroke-opacity="0.55"/>
<path d="M611.7,234.4 618.2,234.1 624.1,231.4 629.2,227.3 635.6,226.3" stroke="#f29a9a" stroke-opacity="0.55"/>
<path d="M611.5,230.4 618.0,230.1 623.9,227.4 629.0,223.3 635.4,222.2" stroke="#9c9cee" stroke-opacity="0.55"/>
<path d="M608.7,306.8 611.3,300.9 611.1,294.4 615.4,289.5 616.0,283.0 610.3,279.9 610.9,273.4 616.9,270.8 618.5,264.5" stroke="#f29a9a" stroke-opacity="0.55"/>
<path d="M606.2,304.3 608.9,298.3 608.6,291.9 612.9,286.9 613.5,280.5 607.8,277.3 608.5,270.9 614.4,268.3 616.0,262.0" stroke="#9c9cee" stroke-opacity="0.55"/>
<path d="M610.6,306.7 613.2,300.8 613.0,294.3 617.2,289.4 617.8,282.9 612.1,279.8 612.8,273.3 618.8,270.7 620.3,264.4" stroke="#9c9cee" stroke-opacity="0.55"/>
<path d="M633.0,224.2 630.8,230.3 632.8,236.5 639.0,238.3 643.9,233.9" stroke="#9c9cee" stroke-opacity="0.55"/>
<path d="M637.1,225.9 634.9,232.1 636.9,238.3 643.1,240.0 647.9,235.7" stroke="#9c9cee" stroke-opacity="0.55"/>
<path d="M634.8,222.6 632.6,228.7 634.5,234.9 640.8,236.7 645.6,232.3" stroke="#f29a9a" stroke-opacity="0.55"/>
<path d="M632.9,222.1 628.1,226.4 624.1,231.5 619.6,236.3 613.5,238.3 608.2,234.5 603.1,230.5" stroke="#9c9cee" stroke-opacity="0.55"/>
<path d="M636.6,222.6 631.8,227.0 627.8,232.1 623.3,236.8 617.1,238.9 611.9,235.0 606.7,231.1" stroke="#9c9cee" stroke-opacity="0.55"/>
<path d="M636.4,224.4 631.5,228.7 627.5,233.8 623.0,238.5 616.9,240.6 611.7,236.8 606.5,232.8" stroke="#f29a9a" stroke-opacity="0.55"/>
<path d="M610.1,252.7 605.2,248.5 606.7,242.1 600.4,240.4 596.0,245.2 589.5,245.2" stroke="#f29a9a" stroke-opacity="0.55"/>
<path d="M613.3,251.4 608.4,247.1 609.9,240.8 603.7,239.1 599.3,243.9 592.8,243.9" stroke="#f29a9a" stroke-opacity="0.55"/>
<path d="M608.7,250.5 603.8,246.3 605.3,240.0 599.1,238.2 594.7,243.0 588.2,243.1" stroke="#f29a9a" stroke-opacity="0.55"/>
<path d="M624.6,256.2 621.7,250.3 615.4,248.7 608.9,248.7 605.3,243.3" stroke="#f29a9a" stroke-opacity="0.55"/>
<path d="M622.6,258.2 619.7,252.4 613.4,250.8 606.9,250.8 603.2,245.4" stroke="#9c9cee" stroke-opacity="0.55"/>
<path d="M621.6,255.4 618.7,249.6 612.4,248.0 605.9,247.9 602.3,242.5" stroke="#9c9cee" stroke-opacity="0.55"/>
<path d="M643.3,270.8 647.1,265.6 652.8,268.7 656.3,263.2 654.3,257.0 660.0,253.8 665.4,250.2 665.6,243.7 670.6,239.5" stroke="#f29a9a" stroke-opacity="0.55"/>
<path d="M649.0,271.4 652.9,266.2 658.6,269.3 662.1,263.8 660.1,257.6 665.7,254.4 671.1,250.8 671.4,244.3 676.3,240.1" stroke="#9c9cee" stroke-opacity="0.55"/>
<path d="M642.4,275.8 646.2,270.6 651.9,273.7 655.4,268.2 653.4,262.0 659.1,258.8 664.5,255.2 664.7,248.7 669.7,244.4" stroke="#9c9cee" stroke-opacity="0.55"/>
<path d="M644.3,296.1 638.2,298.3 635.3,292.5 641.0,289.5 647.1,291.8 645.9,298.2" stroke="#9c9cee" stroke-opacity="0.55"/>
<path d="M639.0,297.4 632.9,299.6 630.0,293.8 635.8,290.8 641.8,293.1 640.6,299.5" stroke="#9c9cee" stroke-opacity="0.55"/>
<path d="M642.3,300.8 636.2,303.0 633.2,297.2 639.0,294.2 645.1,296.5 643.9,302.9" stroke="#f29a9a" stroke-opacity="0.55"/>
<path d="M593.8,269.4 599.7,268.2 603.9,269.3 602.8,273.3 601.8,277.8 605.0,278.6" stroke="#9c9cee" stroke-opacity="0.55"/>
<path d="M593.8,267.6 599.7,266.4 603.9,267.5 602.8,271.4 601.8,276.0 605.0,276.8" stroke="#9c9cee" stroke-opacity="0.55"/>
<path d="M592.4,265.2 598.2,264.1 602.5,265.1 601.3,269.1 600.4,273.6 603.5,274.4" stroke="#f29a9a" stroke-opacity="0.55"/>
<path d="M624.2,289.5 626.4,283.4 632.4,281.0 636.8,285.9 635.0,292.1 636.5,298.4" stroke="#f29a9a" stroke-opacity="0.55"/>
<path d="M627.6,286.5 629.8,280.4 635.8,278.0 640.1,282.9 638.4,289.1 639.9,295.4" stroke="#f29a9a" stroke-opacity="0.55"/>
<path d="M630.1,290.0 632.3,283.9 638.3,281.5 642.6,286.4 640.9,292.6 642.4,299.0" stroke="#f29a9a" stroke-opacity="0.55"/>
<path d="M638.2,279.1 643.6,279.7 648.5,281.2 644.0,290.1 653.6,291.2" stroke="#9c9cee" stroke-opacity="0.55"/>
<path d="M635.6,277.2 641.0,277.7 645.9,279.3 641.4,288.2 651.1,289.3" stroke="#f29a9a" stroke-opacity="0.55"/>
<path d="M640.6,277.2 646.0,277.7 650.9,279.2 646.4,288.1 656.1,289.2" stroke="#9c9cee" stroke-opacity="0.55"/>
<path d="M637.7,267.1 642.1,265.2 647.1,263.8 649.4,273.2 658.2,269.2" stroke="#f29a9a" stroke-opacity="0.55"/>
<path d="M634.6,272.6 639.0,270.7 643.9,269.2 646.3,278.7 655.1,274.7" stroke="#9c9cee" stroke-opacity="0.55"/>
<path d="M633.0,271.7 637.4,269.8 642.3,268.3 644.7,277.8 653.5,273.8" stroke="#f29a9a" stroke-opacity="0.55"/>
<path d="M616.2,252.8 610.2,244.8 603.6,253.2 600.9,249.8 597.6,244.5" stroke="#f29a9a" stroke-opacity="0.55"/>
<path d="M617.8,252.4 611.9,244.4 605.3,252.8 602.6,249.4 599.3,244.1" stroke="#f29a9a" stroke-opacity="0.55"/>
<path d="M617.7,253.2 611.8,245.2 605.2,253.6 602.5,250.2 599.2,244.9" stroke="#9c9cee" stroke-opacity="0.55"/>
<path d="M588.6,280.5 593.2,275.8 595.0,269.6 601.5,270.4 607.1,267.1 610.2,261.4 615.7,257.9 619.8,252.8" stroke="#f29a9a" stroke-opacity="0.55"/>
<path d="M591.9,281.9 596.4,277.3 598.3,271.0 604.7,271.8 610.3,268.5 613.4,262.8 618.9,259.3 623.0,254.3" stroke="#9c9cee" stroke-opacity="0.55"/>
<path d="M592.8,277.4 597.4,272.8 599.2,266.5 605.7,267.3 611.3,264.0 614.4,258.3 619.9,254.8 624.0,249.8" stroke="#9c9cee" stroke-opacity="0.55"/>
<path d="M615.7,270.2 611.7,275.3 608.0,280.7 612.2,285.6 618.5,287.3 620.9,293.4" stroke="#9c9cee" stroke-opacity="0.55"/>
<path d="M615.3,272.6 611.4,277.8 607.7,283.1 611.9,288.1 618.2,289.8 620.5,295.8" stroke="#f29a9a" stroke-opacity="0.55"/>
<path d="M612.0,269.8 608.1,275.0 604.4,280.3 608.6,285.3 614.9,287.0 617.2,293.0" stroke="#f29a9a" stroke-opacity="0.55"/>
<path d="M641.8,273.7 642.7,267.3 643.2,260.8 642.5,254.4 639.6,248.5 633.6,246.1 634.2,239.6" stroke="#f29a9a" stroke-opacity="0.55"/>
<path d="M640.8,276.6 641.7,270.2 642.2,263.7 641.5,257.3 638.6,251.4 632.6,249.0 633.2,242.5" stroke="#f29a9a" stroke-opacity="0.55"/>
<path d="M643.3,274.9 644.2,268.4 644.7,261.9 644.0,255.5 641.1,249.7 635.1,247.2 635.8,240.8" stroke="#9c9cee" stroke-opacity="0.55"/>
<path d="M604.1,269.5 599.1,265.3 600.7,259.0 599.0,252.7 595.4,247.3 589.0,248.5 588.8,255.0 585.3,260.5 586.0,267.0" stroke="#f29a9a" stroke-opacity="0.55"/>
<path d="M607.5,272.4 602.5,268.2 604.1,261.9 602.3,255.6 598.7,250.2 592.3,251.4 592.2,257.9 588.7,263.4 589.3,269.8" stroke="#9c9cee" stroke-opacity="0.55"/>
<path d="M604.4,271.4 599.4,267.2 601.0,260.9 599.3,254.7 595.7,249.3 589.3,250.4 589.1,256.9 585.6,262.4 586.3,268.9" stroke="#f29a9a" stroke-opacity="0.55"/>
<path d="M621.2,230.2 629.5,224.3 631.9,234.8 635.1,233.2 639.8,229.2" stroke="#9c9cee" stroke-opacity="0.55"/>
<path d="M617.1,224.8 625.4,218.8 627.8,229.3 631.0,227.7 635.7,223.7" stroke="#f29a9a" stroke-opacity="0.55"/>
<path d="M621.6,225.4 629.9,219.5 632.3,230.0 635.5,228.3 640.2,224.3" stroke="#f29a9a" stroke-opacity="0.55"/>
<path d="M606.3,291.3 600.4,288.8 601.7,282.4 596.6,278.5 590.2,279.9" stroke="#f29a9a" stroke-opacity="0.55"/>
<path d="M604.6,293.2 598.6,290.7 600.0,284.3 594.8,280.4 588.4,281.8" stroke="#f29a9a" stroke-opacity="0.55"/>
<path d="M604.2,295.0 598.2,292.5 599.6,286.2 594.4,282.2 588.1,283.6" stroke="#f29a9a" stroke-opacity="0.55"/>
<path d="M651.2,274.7 649.8,281.1 649.6,287.6 649.6,294.1" stroke="#f29a9a" stroke-opacity="0.55"/>
<path d="M649.8,271.6 648.4,278.0 648.2,284.5 648.2,291.0" stroke="#f29a9a" stroke-opacity="0.55"/>
<path d="M650.5,271.2 649.1,277.5 648.9,284.0 648.9,290.5" stroke="#9c9cee" stroke-opacity="0.55"/>
<path d="M613.0,255.0 609.9,263.8 601.6,257.0 600.3,262.2 597.8,265.5" stroke="#f29a9a" stroke-opacity="0.55"/>
<path d="M618.1,254.3 615.0,263.1 606.7,256.2 605.4,261.4 602.9,264.8" stroke="#f29a9a" stroke-opacity="0.55"/>
<path d="M614.4,255.5 611.3,264.3 603.0,257.4 601.7,262.6 599.2,266.0" stroke="#f29a9a" stroke-opacity="0.55"/>
<path d="M632.9,298.7 631.6,303.7 629.4,307.6 625.7,305.3 621.3,302.6 619.9,307.3" stroke="#9c9cee" stroke-opacity="0.55"/>
<path d="M635.1,295.4 633.9,300.4 631.6,304.3 628.0,302.0 623.6,299.3 622.1,304.0" stroke="#f29a9a" stroke-opacity="0.55"/>
<path d="M632.9,294.7 631.7,299.7 629.4,303.6 625.8,301.3 621.4,298.6 619.9,303.3" stroke="#f29a9a" stroke-opacity="0.55"/>
<path d="M628.2,281.3 633.3,285.4 638.1,289.7 644.2,292.1 647.9,286.8 653.9,284.4 652.2,278.1" stroke="#f29a9a" stroke-opacity="0.55"/>
<path d="M631.1,276.7 636.1,280.7 641.0,285.0 647.0,287.5 650.8,282.2 656.8,279.7 655.1,273.5" stroke="#9c9cee" stroke-opacity="0.55"/>
<path d="M630.5,281.1 635.6,285.2 640.4,289.5 646.5,291.9 650.2,286.6 656.2,284.2 654.5,277.9" stroke="#9c9cee" stroke-opacity="0.55"/>
<path d="M641.6,249.0 644.0,251.3 646.0,257.6 653.4,251.0 654.8,255.9" stroke="#9c9cee" stroke-opacity="0.55"/>
<path d="M642.0,254.2 644.4,256.5 646.4,262.8 653.8,256.2 655.2,261.1" stroke="#f29a9a" stroke-opacity="0.55"/>
<path d="M640.9,247.9 643.3,250.1 645.3,256.4 652.7,249.8 654.1,254.8" stroke="#9c9cee" stroke-opacity="0.55"/>
<path d="M593.8,302.1 602.8,297.7 604.6,308.0 613.5,303.5 615.2,306.1 615.4,312.9" stroke="#f29a9a" stroke-opacity="0.55"/>
<path d="M592.9,301.5 601.9,297.1 603.7,307.4 612.6,302.9 614.3,305.5 614.4,312.3" stroke="#f29a9a" stroke-opacity="0.55"/>
<path d="M594.0,299.3 603.0,294.9 604.8,305.3 613.7,300.7 615.4,303.3 615.6,310.2" stroke="#f29a9a" stroke-opacity="0.55"/>
<path d="M600.9,301.2 604.8,306.4 610.1,302.6 608.9,296.2 606.9,290.0" stroke="#f29a9a" stroke-opacity="0.55"/>
<path d="M597.1,300.6 601.0,305.8 606.3,302.0 605.1,295.6 603.1,289.4" stroke="#9c9cee" stroke-opacity="0.55"/>
<path d="M600.9,294.9 604.8,300.1 610.1,296.4 608.9,290.0 606.9,283.8" stroke="#f29a9a" stroke-opacity="0.55"/>
<path d="M650.1,292.9 648.7,286.6 652.6,281.3 650.6,275.1 656.5,272.4 660.3,277.7" stroke="#f29a9a" stroke-opacity="0.55"/>
<path d="M648.4,294.1 647.0,287.7 650.8,282.5 648.9,276.3 654.8,273.6 658.5,278.9" stroke="#f29a9a" stroke-opacity="0.55"/>
<path d="M646.5,288.2 645.1,281.8 648.9,276.6 646.9,270.4 652.9,267.7 656.6,273.0" stroke="#9c9cee" stroke-opacity="0.55"/>
<path d="M618.3,231.2 621.0,237.1 626.7,240.2 625.9,246.7 622.8,252.4 618.6,257.4" stroke="#9c9cee" stroke-opacity="0.55"/>
<path d="M613.4,230.0 616.1,235.9 621.8,239.0 621.0,245.5 617.8,251.1 613.7,256.1" stroke="#f29a9a" stroke-opacity="0.55"/>
<path d="M619.5,226.9 622.3,232.8 627.9,235.9 627.2,242.4 624.0,248.0 619.8,253.0" stroke="#f29a9a" stroke-opacity="0.55"/>
<path d="M611.5,300.4 607.2,308.7 599.9,302.2" stroke="#f29a9a" stroke-opacity="0.55"/>
<path d="M607.4,302.4 603.1,310.7 595.8,304.2" stroke="#f29a9a" stroke-opacity="0.55"/>
<path d="M606.7,301.8 602.3,310.1 595.0,303.6" stroke="#9c9cee" stroke-opacity="0.55"/>
<path d="M604.6,271.8 601.9,265.9 607.5,262.6 613.9,261.5" stroke="#f29a9a" stroke-opacity="0.55"/>
<path d="M604.2,272.2 601.5,266.3 607.1,263.0 613.5,261.9" stroke="#f29a9a" stroke-opacity="0.55"/>
<path d="M606.6,274.6 603.9,268.7 609.5,265.4 615.9,264.3" stroke="#9c9cee" stroke-opacity="0.55"/>
<path d="M621.0,300.4 627.4,299.0 630.3,304.8 636.0,308.0" stroke="#9c9cee" stroke-opacity="0.55"/>
<path d="M626.0,297.8 632.4,296.4 635.3,302.2 641.0,305.4" stroke="#f29a9a" stroke-opacity="0.55"/>
<path d="M623.3,295.8 629.7,294.4 632.6,300.2 638.3,303.4" stroke="#f29a9a" stroke-opacity="0.55"/>
<path d="M610.2,286.3 606.0,281.3 600.1,284.0 594.4,287.1 589.7,282.5 593.4,277.1 597.2,271.9 603.3,269.5" stroke="#f29a9a" stroke-opacity="0.55"/>
<path d="M613.2,283.9 609.0,278.9 603.1,281.6 597.4,284.6 592.7,280.1 596.4,274.7 600.2,269.4 606.3,267.0" stroke="#f29a9a" stroke-opacity="0.55"/>
<path d="M612.2,283.5 608.0,278.5 602.1,281.2 596.3,284.3 591.7,279.7 595.3,274.3 599.2,269.1 605.2,266.7" stroke="#9c9cee" stroke-opacity="0.55"/>
<path d="M632.4,257.0 641.1,254.7 642.3,257.3 641.8,263.3 651.6,260.4 651.9,270.2" stroke="#f29a9a" stroke-opacity="0.55"/>
<path d="M631.1,257.2 639.8,254.9 641.0,257.5 640.5,263.5 650.3,260.6 650.6,270.4" stroke="#f29a9a" stroke-opacity="0.55"/>
<path d="M629.0,259.0 637.7,256.7 638.9,259.2 638.4,265.3 648.2,262.3 648.5,272.2" stroke="#f29a9a" stroke-opacity="0.55"/>
<path d="M637.8,235.1 637.7,241.6 634.7,247.3 637.4,253.2 643.5,255.5" stroke="#f29a9a" stroke-opacity="0.55"/>
<path d="M637.0,237.4 637.0,243.9 633.9,249.7 636.6,255.6 642.7,257.9" stroke="#9c9cee" stroke-opacity="0.55"/>
<path d="M640.3,237.0 640.3,243.5 637.2,249.2 639.9,255.1 646.0,257.4" stroke="#f29a9a" stroke-opacity="0.55"/>
<path d="M612.4,312.6 607.0,308.9 609.1,302.8 604.8,297.9 607.2,291.9 610.9,286.6 608.3,280.6" stroke="#f29a9a" stroke-opacity="0.55"/>
<path d="M614.5,313.3 609.2,309.6 611.3,303.5 607.0,298.6 609.4,292.6 613.1,287.2 610.5,281.3" stroke="#9c9cee" stroke-opacity="0.55"/>
<path d="M615.4,314.8 610.0,311.1 612.1,305.0 607.8,300.1 610.2,294.1 613.9,288.7 611.3,282.8" stroke="#9c9cee" stroke-opacity="0.55"/>
<path d="M592.6,271.3 602.3,272.3 598.9,280.6 607.1,281.6 604.4,289.7" stroke="#9c9cee" stroke-opacity="0.55"/>
<path d="M594.5,273.6 604.2,274.5 600.8,282.8 609.0,283.8 606.3,291.9" stroke="#9c9cee" stroke-opacity="0.55"/>
<path d="M592.1,272.4 601.8,273.4 598.3,281.7 606.5,282.7 603.9,290.8" stroke="#9c9cee" stroke-opacity="0.55"/>
<path d="M638.7,282.9 636.8,289.1 630.4,287.6 629.9,281.1 629.8,274.6 631.6,268.4 633.9,262.3" stroke="#f29a9a" stroke-opacity="0.55"/>
<path d="M635.6,284.1 633.7,290.3 627.4,288.8 626.9,282.3 626.8,275.8 628.6,269.6 630.8,263.5" stroke="#f29a9a" stroke-opacity="0.55"/>
<path d="M639.9,283.4 638.0,289.6 631.7,288.1 631.2,281.6 631.1,275.1 632.9,268.9 635.1,262.8" stroke="#9c9cee" stroke-opacity="0.55"/>
<path d="M612.1,225.5 610.1,235.2 613.2,236.2 619.8,234.9 617.7,244.8 621.9,244.9 627.9,244.3" stroke="#f29a9a" stroke-opacity="0.55"/>
<path d="M609.6,224.9 607.6,234.6 610.7,235.6 617.3,234.3 615.2,244.2 619.4,244.4 625.4,243.7" stroke="#9c9cee" stroke-opacity="0.55"/>
<path d="M608.9,222.0 607.0,231.7 610.0,232.6 616.6,231.4 614.5,241.3 618.7,241.4 624.8,240.7" stroke="#f29a9a" stroke-opacity="0.55"/>
<path d="M619.7,221.1 622.0,227.1 618.9,232.8 614.8,237.9 608.7,240.1" stroke="#9c9cee" stroke-opacity="0.55"/>
<path d="M620.4,224.3 622.8,230.4 619.7,236.1 615.6,241.1 609.5,243.3" stroke="#f29a9a" stroke-opacity="0.55"/>
<path d="M625.0,222.3 627.3,228.4 624.2,234.1 620.2,239.2 614.0,241.4" stroke="#9c9cee" stroke-opacity="0.55"/>
<path d="M644.7,232.3 654.6,230.0 655.0,240.1 664.0,238.4" stroke="#f29a9a" stroke-opacity="0.55"/>
<path d="M647.2,232.7 657.1,230.4 657.5,240.4 666.6,238.7" stroke="#9c9cee" stroke-opacity="0.55"/>
<path d="M647.8,236.4 657.8,234.1 658.1,244.2 667.2,242.5" stroke="#f29a9a" stroke-opacity="0.55"/>
<path d="M614.3,245.5 611.3,254.0 607.8,250.7 604.0,248.4 599.7,257.4 592.8,251.1" stroke="#f29a9a" stroke-opacity="0.55"/>
<path d="M614.1,241.7 611.0,250.1 607.5,246.8 603.7,244.5 599.4,253.5 592.5,247.2" stroke="#9c9cee" stroke-opacity="0.55"/>
<path d="M616.5,243.1 613.5,251.5 610.0,248.2 606.2,245.9 601.9,254.9 594.9,248.7" stroke="#9c9cee" stroke-opacity="0.55"/>
<path d="M635.0,293.8 630.5,298.5 630.2,305.0 632.7,311.0" stroke="#9c9cee" stroke-opacity="0.55"/>
<path d="M640.2,291.0 635.7,295.7 635.4,302.2 637.8,308.2" stroke="#9c9cee" stroke-opacity="0.55"/>
<path d="M635.0,287.3 630.5,292.0 630.2,298.5 632.7,304.5" stroke="#9c9cee" stroke-opacity="0.55"/>
<path d="M609.6,283.1 609.8,289.6 616.3,289.3 617.6,282.9 611.2,281.7 606.1,285.8 601.2,281.6" stroke="#f29a9a" stroke-opacity="0.55"/>
<path d="M609.5,285.1 609.7,291.6 616.2,291.3 617.4,284.9 611.0,283.7 606.0,287.8 601.0,283.6" stroke="#9c9cee" stroke-opacity="0.55"/>
<path d="M606.6,289.1 606.8,295.6 613.3,295.2 614.5,288.9 608.1,287.6 603.1,291.7 598.1,287.5" stroke="#f29a9a" stroke-opacity="0.55"/>
<path d="M631.4,303.5 634.4,297.8 629.3,293.7 631.6,287.6 637.8,289.4 643.1,293.1 649.0,290.3" stroke="#9c9cee" stroke-opacity="0.55"/>
<path d="M630.8,299.8 633.9,294.0 628.8,290.0 631.0,283.9 637.2,285.6 642.5,289.4 648.4,286.6" stroke="#f29a9a" stroke-opacity="0.55"/>
<path d="M632.0,302.0 635.0,296.2 629.9,292.2 632.1,286.1 638.4,287.8 643.7,291.6 649.6,288.8" stroke="#9c9cee" stroke-opacity="0.55"/>
<path d="M615.2,250.5 621.4,248.6 626.6,244.7 628.7,238.6 634.3,235.2" stroke="#9c9cee" stroke-opacity="0.55"/>
<path d="M614.1,250.6 620.3,248.8 625.5,244.9 627.6,238.7 633.2,235.3" stroke="#9c9cee" stroke-opacity="0.55"/>
<path d="M611.7,247.3 617.9,245.5 623.1,241.6 625.2,235.4 630.8,232.0" stroke="#9c9cee" stroke-opacity="0.55"/>
<path d="M614.5,225.7 617.3,227.1 624.2,227.5 618.2,236.7 628.3,239.1" stroke="#9c9cee" stroke-opacity="0.55"/>
<path d="M618.9,225.2 621.6,226.7 628.5,227.1 622.6,236.3 632.7,238.7" stroke="#f29a9a" stroke-opacity="0.55"/>
<path d="M620.9,229.3 623.6,230.8 630.5,231.2 624.5,240.4 634.7,242.8" stroke="#f29a9a" stroke-opacity="0.55"/>
<path d="M617.5,251.7 625.7,246.6 628.4,255.2 631.4,253.4 635.5,250.3" stroke="#9c9cee" stroke-opacity="0.55"/>
<path d="M616.2,252.3 624.3,247.2 627.0,255.9 630.1,254.1 634.1,250.9" stroke="#f29a9a" stroke-opacity="0.55"/>
<path d="M611.2,251.8 619.4,246.6 622.1,255.3 625.1,253.5 629.2,250.4" stroke="#f29a9a" stroke-opacity="0.55"/>
<path d="M530.2,274.5 536.0,271.6 542.5,272.1 544.5,278.2 543.7,284.7" stroke="#9c9cee" stroke-opacity="0.55"/>
<path d="M528.2,274.4 534.0,271.5 540.5,272.0 542.5,278.1 541.7,284.6" stroke="#9c9cee" stroke-opacity="0.55"/>
<path d="M525.9,277.0 531.7,274.1 538.2,274.6 540.2,280.8 539.4,287.2" stroke="#f29a9a" stroke-opacity="0.55"/>
<path d="M524.6,264.7 521.5,267.5 517.6,271.0 526.6,275.1 520.4,281.7 522.7,283.7 527.9,285.8 521.3,292.4" stroke="#9c9cee" stroke-opacity="0.55"/>
<path d="M525.6,263.1 522.6,265.9 518.7,269.4 527.7,273.4 521.5,280.1 523.8,282.1 528.9,284.2 522.4,290.7" stroke="#9c9cee" stroke-opacity="0.55"/>
<path d="M521.4,264.0 518.3,266.8 514.4,270.3 523.4,274.4 517.2,281.0 519.5,283.0 524.7,285.1 518.1,291.7" stroke="#9c9cee" stroke-opacity="0.55"/>
<path d="M547.6,285.4 543.0,280.7 541.0,274.6 542.1,268.2 540.0,262.0 539.9,255.5" stroke="#f29a9a" stroke-opacity="0.55"/>
<path d="M543.3,284.3 538.8,279.7 536.7,273.5 537.8,267.1 535.7,260.9 535.6,254.5" stroke="#f29a9a" stroke-opacity="0.55"/>
<path d="M543.9,280.8 539.3,276.2 537.2,270.0 538.3,263.6 536.3,257.4 536.1,250.9" stroke="#f29a9a" stroke-opacity="0.55"/>
<path d="M545.5,286.5 553.5,291.6 550.6,294.6 547.6,298.2 552.6,300.0" stroke="#9c9cee" stroke-opacity="0.55"/>
<path d="M545.2,284.1 553.1,289.3 550.2,292.3 547.2,295.9 552.2,297.7" stroke="#9c9cee" stroke-opacity="0.55"/>
<path d="M541.9,286.1 549.9,291.3 547.0,294.3 544.0,297.8 549.0,299.6" stroke="#9c9cee" stroke-opacity="0.55"/>
<path d="M521.4,248.1 523.1,254.3 529.5,255.2 536.0,255.8 540.8,251.4 540.6,244.9" stroke="#f29a9a" stroke-opacity="0.55"/>
<path d="M520.5,253.5 522.2,259.8 528.6,260.6 535.1,261.2 539.9,256.8 539.7,250.3" stroke="#9c9cee" stroke-opacity="0.55"/>
<path d="M521.4,249.1 523.1,255.4 529.5,256.2 536.0,256.9 540.7,252.5 540.6,246.0" stroke="#f29a9a" stroke-opacity="0.55"/>
<path d="M518.9,287.6 519.2,281.1 523.9,276.6 523.9,270.1 528.7,265.7" stroke="#f29a9a" stroke-opacity="0.55"/>
<path d="M521.6,290.6 521.9,284.2 526.5,279.6 526.6,273.1 531.4,268.8" stroke="#9c9cee" stroke-opacity="0.55"/>
<path d="M522.7,285.6 523.0,279.1 527.7,274.6 527.8,268.1 532.6,263.8" stroke="#f29a9a" stroke-opacity="0.55"/>
<path d="M522.5,230.7 530.0,238.8 522.6,246.0 529.9,253.8 524.8,260.3 530.6,267.3 524.2,274.3 531.4,281.0 525.1,290.0" stroke="#9c9cee" stroke-opacity="0.55"/>
<path d="M520.3,236.3 527.8,244.4 520.4,251.6 527.7,259.4 522.6,266.0 528.4,272.9 522.0,279.9 529.1,286.6 522.8,295.7" stroke="#f29a9a" stroke-opacity="0.55"/>
<path d="M520.2,235.8 527.7,243.9 520.2,251.1 527.6,258.9 522.4,265.4 528.3,272.4 521.9,279.4 529.0,286.1 522.7,295.2" stroke="#9c9cee" stroke-opacity="0.55"/>
<path d="M520.6,237.7 526.4,246.1 521.1,252.6 525.6,260.5 520.4,267.7 525.3,274.9 519.5,282.3 525.6,288.8" stroke="#f29a9a" stroke-opacity="0.55"/>
<path d="M523.8,234.4 529.6,242.7 524.3,249.3 528.8,257.1 523.6,264.3 528.5,271.5 522.7,278.9 528.9,285.5" stroke="#9c9cee" stroke-opacity="0.55"/>
<path d="M525.6,234.6 531.4,243.0 526.1,249.5 530.6,257.4 525.4,264.6 530.4,271.8 524.5,279.2 530.7,285.7" stroke="#f29a9a" stroke-opacity="0.55"/>
<path d="M533.0,231.7 540.0,238.0 533.7,245.9 540.3,254.3 533.2,261.8 538.3,268.6 533.4,274.9 539.1,281.7 531.4,289.1" stroke="#9c9cee" stroke-opacity="0.55"/>
<path d="M532.4,235.7 539.4,242.0 533.1,249.8 539.7,258.3 532.6,265.8 537.6,272.6 532.8,278.9 538.5,285.7 530.8,293.0" stroke="#f29a9a" stroke-opacity="0.55"/>
<path d="M527.1,231.7 534.0,238.0 527.7,245.8 534.4,254.3 527.2,261.8 532.3,268.6 527.4,274.8 533.2,281.7 525.4,289.0" stroke="#9c9cee" stroke-opacity="0.55"/>
<path d="M535.2,238.7 540.2,246.6 534.0,254.0 539.2,262.0 531.4,268.1 537.4,275.6 530.1,282.4 534.6,289.7" stroke="#9c9cee" stroke-opacity="0.55"/>
<path d="M534.3,236.9 539.3,244.8 533.1,252.2 538.3,260.2 530.5,266.3 536.5,273.8 529.2,280.6 533.7,287.9" stroke="#9c9cee" stroke-opacity="0.55"/>
<path d="M534.9,237.1 539.9,245.0 533.7,252.4 538.9,260.4 531.1,266.5 537.2,274.0 529.8,280.8 534.4,288.1" stroke="#f29a9a" stroke-opacity="0.55"/>
<path d="M542.9,231.2 549.7,239.9 544.1,248.0 549.4,255.0 544.1,262.9 549.8,270.5 541.4,278.1 549.3,284.6 543.1,293.0" stroke="#9c9cee" stroke-opacity="0.55"/>
<path d="M541.4,225.7 548.2,234.4 542.6,242.5 547.8,249.4 542.5,257.4 548.2,265.0 539.9,272.5 547.8,279.1 541.6,287.4" stroke="#9c9cee" stroke-opacity="0.55"/>
<path d="M539.7,229.0 546.5,237.7 540.9,245.8 546.1,252.8 540.8,260.7 546.5,268.3 538.2,275.9 546.1,282.5 539.9,290.8" stroke="#f29a9a" stroke-opacity="0.55"/>
<path d="M546.7,233.9 551.5,240.5 545.7,246.6 549.7,253.5 543.5,261.5 549.0,267.9 543.3,274.4 548.6,281.4 543.1,288.8" stroke="#9c9cee" stroke-opacity="0.55"/>
<path d="M551.1,231.1 556.0,237.7 550.2,243.9 554.2,250.8 548.0,258.7 553.5,265.1 547.7,271.6 553.1,278.6 547.6,286.0" stroke="#9c9cee" stroke-opacity="0.55"/>
<path d="M545.6,233.3 550.5,239.9 544.7,246.0 548.7,252.9 542.5,260.9 548.0,267.2 542.2,273.7 547.6,280.8 542.1,288.2" stroke="#9c9cee" stroke-opacity="0.55"/>
<path d="M559.6,229.7 565.6,238.2 559.2,246.4 564.1,253.3 559.5,259.7 564.2,266.2 557.1,273.3 563.1,280.6 558.5,289.3" stroke="#f29a9a" stroke-opacity="0.55"/>
<path d="M558.9,231.0 564.9,239.4 558.5,247.6 563.4,254.5 558.8,261.0 563.5,267.5 556.4,274.6 562.4,281.9 557.8,290.5" stroke="#9c9cee" stroke-opacity="0.55"/>
<path d="M553.9,225.3 559.9,233.7 553.5,241.9 558.3,248.8 553.7,255.2 558.5,261.7 551.4,268.8 557.4,276.1 552.7,284.8" stroke="#9c9cee" stroke-opacity="0.55"/>
<path d="M562.1,234.1 567.2,241.0 561.1,247.4 568.1,255.7 562.4,261.8 568.2,268.5 562.2,276.7 567.0,284.1" stroke="#f29a9a" stroke-opacity="0.55"/>
<path d="M559.8,232.1 564.9,238.9 558.8,245.3 565.7,253.6 560.0,259.8 565.8,266.4 559.8,274.6 564.6,282.0" stroke="#f29a9a" stroke-opacity="0.55"/>
<path d="M562.8,232.9 567.9,239.8 561.8,246.2 568.8,254.5 563.1,260.6 568.9,267.3 562.9,275.5 567.7,282.9" stroke="#f29a9a" stroke-opacity="0.55"/>
<path d="M572.8,231.0 576.9,238.0 571.7,244.2 576.9,250.6 571.5,258.3 576.4,265.4 570.2,271.9 575.0,280.5 569.6,287.9 575.8,296.9" stroke="#f29a9a" stroke-opacity="0.55"/>
<path d="M568.7,229.0 572.8,236.0 567.6,242.1 572.8,248.6 567.4,256.2 572.4,263.4 566.2,269.9 571.0,278.5 565.5,285.8 571.8,294.9" stroke="#f29a9a" stroke-opacity="0.55"/>
<path d="M571.4,229.1 575.5,236.1 570.3,242.2 575.6,248.7 570.1,256.3 575.1,263.5 568.9,270.0 573.7,278.6 568.2,285.9 574.5,295.0" stroke="#9c9cee" stroke-opacity="0.55"/>
<path d="M575.0,229.1 580.7,235.9 574.7,242.0 578.9,247.9 573.9,253.3 579.1,261.6 573.1,267.8 579.1,275.9 572.0,281.4 578.6,288.2" stroke="#f29a9a" stroke-opacity="0.55"/>
<path d="M570.0,229.7 575.6,236.5 569.6,242.6 573.8,248.5 568.8,253.9 574.1,262.2 568.1,268.4 574.1,276.4 567.0,282.0 573.6,288.7" stroke="#9c9cee" stroke-opacity="0.55"/>
<path d="M573.7,230.0 579.3,236.8 573.4,243.0 577.6,248.8 572.5,254.2 577.8,262.5 571.8,268.7 577.8,276.8 570.7,282.3 577.3,289.1" stroke="#f29a9a" stroke-opacity="0.55"/>
<path d="M497.1,288.3 503.1,290.7 509.3,288.8 508.7,282.4 507.1,276.1 504.8,270.0" stroke="#f29a9a" stroke-opacity="0.55"/>
<path d="M497.9,290.4 504.0,292.8 510.2,290.9 509.6,284.4 508.0,278.1 505.7,272.0" stroke="#f29a9a" stroke-opacity="0.55"/>
<path d="M506.5,279.5 512.1,282.8 514.8,288.7 521.3,288.1" stroke="#9c9cee" stroke-opacity="0.55"/>
<path d="M503.7,279.8 509.3,283.1 512.0,289.0 518.5,288.3" stroke="#f29a9a" stroke-opacity="0.55"/>
<path d="M508.3,286.9 512.9,289.2 517.6,292.2 509.5,297.6" stroke="#9c9cee" stroke-opacity="0.55"/>
<path d="M504.8,281.0 509.4,283.4 514.0,286.3 506.0,291.8" stroke="#9c9cee" stroke-opacity="0.55"/>
<path d="M502.7,269.6 513.4,270.8 508.1,279.8 517.2,281.0" stroke="#f29a9a" stroke-opacity="0.55"/>
<path d="M502.8,271.8 513.6,273.0 508.2,282.0 517.4,283.1" stroke="#f29a9a" stroke-opacity="0.55"/>
<path d="M504.9,274.0 502.6,280.1 497.1,283.5" stroke="#f29a9a" stroke-opacity="0.55"/>
<path d="M505.8,274.1 503.5,280.2 498.0,283.7" stroke="#f29a9a" stroke-opacity="0.55"/>
<path d="M570.5,254.2 564.2,252.8 561.7,246.8" stroke="#f29a9a" stroke-opacity="0.55"/>
<path d="M573.1,254.5 566.7,253.1 564.2,247.1" stroke="#f29a9a" stroke-opacity="0.55"/>
<path d="M573.4,252.5 567.1,251.1 564.6,245.1" stroke="#f29a9a" stroke-opacity="0.55"/>
<path d="M575.0,244.3 569.7,248.1 563.5,246.0" stroke="#f29a9a" stroke-opacity="0.55"/>
<path d="M576.0,239.6 570.8,243.4 564.6,241.3" stroke="#f29a9a" stroke-opacity="0.55"/>
<path d="M575.5,243.9 570.3,247.8 564.1,245.7" stroke="#f29a9a" stroke-opacity="0.55"/>
<path d="M556.0,231.1 563.2,236.0 557.5,243.1 564.1,248.2 558.5,254.5 561.1,257.0" stroke="#9c9cee" stroke-opacity="0.55"/>
<path d="M556.1,231.1 563.3,236.0 557.5,243.2 564.2,248.2 558.5,254.6 561.2,257.0" stroke="#f29a9a" stroke-opacity="0.55"/>
<path d="M562.4,233.5 569.6,238.3 563.8,245.5 570.5,250.6 564.9,256.9 567.5,259.4" stroke="#f29a9a" stroke-opacity="0.55"/>
<path d="M564.3,249.1 564.9,255.6 566.7,261.8 573.2,261.3 575.4,267.5 571.7,272.8 568.4,278.4" stroke="#9c9cee" stroke-opacity="0.55"/>
<path d="M563.5,248.7 564.1,255.2 565.9,261.4 572.4,261.0 574.6,267.1 570.9,272.4 567.6,278.0" stroke="#9c9cee" stroke-opacity="0.55"/>
<path d="M564.1,246.7 564.8,253.2 566.6,259.4 573.1,258.9 575.2,265.1 571.5,270.4 568.3,276.0" stroke="#9c9cee" stroke-opacity="0.55"/>
<path d="M577.4,261.6 583.8,262.8 586.4,256.9" stroke="#f29a9a" stroke-opacity="0.55"/>
<path d="M576.1,259.9 582.5,261.1 585.1,255.2" stroke="#f29a9a" stroke-opacity="0.55"/>
<path d="M572.0,260.7 578.4,261.9 581.0,256.0" stroke="#f29a9a" stroke-opacity="0.55"/>
<path d="M580.0,271.2 577.5,277.2 583.1,280.5 584.5,286.9" stroke="#f29a9a" stroke-opacity="0.55"/>
<path d="M579.9,272.7 577.4,278.8 583.0,282.1 584.4,288.5" stroke="#f29a9a" stroke-opacity="0.55"/>
<path d="M580.9,272.0 578.4,278.0 584.0,281.4 585.4,287.7" stroke="#f29a9a" stroke-opacity="0.55"/>
<path d="M484.2,237.6 485.7,242.2 489.5,243.0 494.0,244.5 495.6,249.0 498.6,252.1 502.4,253.6 503.1,250.6 507.7,249.0 513.8,247.5 518.3,246.0 521.4,247.5" stroke="#f29a9a" stroke-opacity="0.55"/>
<path d="M484.2,242.9 485.7,247.5 489.5,248.3 494.0,249.8 495.6,254.3 498.6,257.4 502.4,258.9 503.1,255.9 507.7,254.3 513.8,252.8 518.3,251.3 521.4,252.8" stroke="#9c9cee" stroke-opacity="0.55"/>
<path d="M486.8,238.1 488.3,242.7 492.1,243.5 496.6,245.0 498.2,249.5 501.2,252.6 505.0,254.1 505.7,251.1 510.3,249.5 516.4,248.0 520.9,246.5 524.0,248.0" stroke="#9c9cee" stroke-opacity="0.55"/>
<path d="M489.7,243.8 490.5,253.0 492.7,256.0 497.3,259.0 500.3,263.5 503.4,259.0 509.4,256.0 514.0,254.4 518.6,252.9" stroke="#9c9cee" stroke-opacity="0.55"/>
<path d="M493.8,242.9 494.6,252.1 496.8,255.1 501.4,258.1 504.4,262.6 507.5,258.1 513.5,255.1 518.1,253.5 522.7,252.0" stroke="#f29a9a" stroke-opacity="0.55"/>
<path d="M490.4,241.7 491.2,250.9 493.4,253.9 498.0,256.9 501.0,261.4 504.1,256.9 510.1,253.9 514.7,252.3 519.3,250.8" stroke="#9c9cee" stroke-opacity="0.55"/>
<path d="M509.0,233.3 513.6,228.8 518.2,225.7 522.7,222.7 525.7,225.7 524.2,230.3 519.7,233.3 515.1,237.9 512.1,239.4" stroke="#9c9cee" stroke-opacity="0.55"/>
<path d="M508.2,231.5 512.8,227.0 517.4,223.9 521.9,220.9 524.9,223.9 523.4,228.5 518.9,231.5 514.3,236.1 511.3,237.6" stroke="#9c9cee" stroke-opacity="0.55"/>
<path d="M509.9,234.9 514.5,230.4 519.1,227.3 523.6,224.3 526.6,227.3 525.1,231.9 520.6,234.9 516.0,239.5 513.0,241.0" stroke="#f29a9a" stroke-opacity="0.55"/>
<path d="M509.8,233.1 515.8,228.5 521.9,225.5 526.5,222.4 529.5,228.5 526.5,233.1 521.9,237.7 517.4,240.7" stroke="#9c9cee" stroke-opacity="0.55"/>
<path d="M516.2,233.3 522.2,228.7 528.3,225.7 532.9,222.6 535.9,228.7 532.9,233.3 528.3,237.9 523.8,240.9" stroke="#9c9cee" stroke-opacity="0.55"/>
<path d="M509.6,230.2 515.6,225.6 521.7,222.6 526.3,219.5 529.3,225.6 526.3,230.2 521.7,234.8 517.2,237.8" stroke="#9c9cee" stroke-opacity="0.55"/>
<path d="M509.4,298.8 516.4,291.4 521.0,298.7 527.4,292.6 529.2,296.7 531.5,300.9 534.6,296.4 538.1,292.7 540.1,298.2 543.0,301.0" stroke="#9c9cee" stroke-opacity="0.55"/>
<path d="M506.9,300.7 513.8,293.4 518.4,300.7 524.8,294.6 526.6,298.7 528.9,302.9 532.0,298.4 535.5,294.7 537.5,300.2 540.4,303.0" stroke="#9c9cee" stroke-opacity="0.55"/>
<path d="M508.9,303.9 515.8,296.6 520.4,303.9 526.8,297.8 528.6,301.9 530.9,306.1 534.0,301.6 537.5,297.9 539.5,303.4 542.4,306.2" stroke="#f29a9a" stroke-opacity="0.55"/>
<path d="M541.7,295.4 546.3,299.9 550.8,298.4 555.4,304.5 559.9,307.5 564.5,306.0 569.0,310.6 572.1,304.5 576.6,310.6 581.2,306.0 587.3,307.5 591.8,310.6 596.4,309.0 602.4,312.1 608.5,310.6 612.8,310.5 618.8,313.6 624.9,315.1 631.0,312.1 637.1,309.0 641.6,303.0 643.1,298.4 640.1,295.4" stroke="#f29a9a" stroke-opacity="0.55"/>
<path d="M538.0,298.0 542.6,302.5 547.1,301.0 551.7,307.1 556.2,310.1 560.8,308.6 565.3,313.2 568.4,307.1 572.9,313.2 577.5,308.6 583.6,310.1 588.1,313.2 592.7,311.6 598.7,314.7 604.8,313.2 609.1,313.1 615.1,316.2 621.2,317.7 627.3,314.7 633.4,311.6 637.9,305.6 639.4,301.0 636.4,298.0" stroke="#9c9cee" stroke-opacity="0.55"/>
<path d="M543.0,294.3 547.6,298.8 552.1,297.3 556.7,303.4 561.2,306.4 565.8,304.9 570.3,309.5 573.4,303.4 577.9,309.5 582.5,304.9 588.6,306.4 593.1,309.5 597.7,307.9 603.7,311.0 609.8,309.5 614.1,309.4 620.1,312.5 626.2,314.0 632.3,311.0 638.4,307.9 642.9,301.9 644.4,297.3 641.4,294.3" stroke="#9c9cee" stroke-opacity="0.55"/>
<path d="M541.0,302.2 547.0,306.7 553.0,309.7 557.7,308.2 563.8,311.2 568.3,315.8 572.9,311.2 577.4,306.7 583.5,305.2 588.0,309.7 594.1,312.8 598.7,309.7 604.8,308.2 611.0,311.2 617.0,313.2 623.0,314.2 631.0,311.2 637.0,306.2" stroke="#9c9cee" stroke-opacity="0.55"/>
<path d="M541.1,301.3 547.1,305.8 553.1,308.8 557.8,307.3 563.9,310.3 568.4,314.9 573.0,310.3 577.5,305.8 583.6,304.3 588.1,308.8 594.2,311.9 598.8,308.8 604.9,307.3 611.1,310.3 617.1,312.3 623.1,313.3 631.1,310.3 637.1,305.3" stroke="#f29a9a" stroke-opacity="0.55"/>
<path d="M543.0,303.2 549.0,307.7 555.0,310.7 559.7,309.2 565.8,312.2 570.3,316.8 574.9,312.2 579.4,307.7 585.5,306.2 590.0,310.7 596.1,313.8 600.7,310.7 606.8,309.2 613.0,312.2 619.0,314.2 625.0,315.2 633.0,312.2 639.0,307.2" stroke="#f29a9a" stroke-opacity="0.55"/>
<path d="M568.1,277.7 577.2,285.3 586.4,291.3 592.4,295.9" stroke="#f29a9a" stroke-opacity="0.55"/>
<path d="M569.2,280.4 578.3,288.0 587.5,294.0 593.5,298.6" stroke="#f29a9a" stroke-opacity="0.55"/>
<path d="M569.7,282.5 578.8,290.1 588.0,296.1 594.0,300.7" stroke="#f29a9a" stroke-opacity="0.55"/>
<path d="M570.5,278.2 576.5,279.7 582.6,282.7 588.7,285.8 593.2,287.3" stroke="#9c9cee" stroke-opacity="0.55"/>
<path d="M572.3,275.7 578.3,277.2 584.4,280.2 590.5,283.3 595.0,284.8" stroke="#9c9cee" stroke-opacity="0.55"/>
<path d="M568.3,277.3 574.3,278.8 580.4,281.8 586.5,284.9 591.0,286.4" stroke="#9c9cee" stroke-opacity="0.55"/>
<path d="M547.9,232.8 551.0,236.4 554.7,239.7 560.0,231.2 563.0,235.5 566.6,239.4 572.2,231.5 574.6,233.6 577.6,238.7 583.7,230.8 590.2,238.1 596.6,229.9 602.4,238.4" stroke="#f29a9a" stroke-opacity="0.55"/>
<path d="M546.0,229.2 549.0,232.8 552.8,236.1 558.1,227.6 561.1,231.9 564.7,235.7 570.3,227.8 572.7,230.0 575.7,235.0 581.8,227.2 588.3,234.5 594.6,226.3 600.5,234.8" stroke="#9c9cee" stroke-opacity="0.55"/>
<path d="M546.6,234.5 549.7,238.1 553.5,241.4 558.8,232.9 561.7,237.2 565.3,241.0 570.9,233.1 573.3,235.3 576.3,240.3 582.4,232.5 588.9,239.8 595.3,231.6 601.1,240.1" stroke="#f29a9a" stroke-opacity="0.55"/>
<path d="M565.5,237.0 557.5,244.2 566.9,249.2 559.6,256.1 568.1,261.0" stroke="#f29a9a" stroke-opacity="0.55"/>
<path d="M564.8,237.9 556.8,245.1 566.2,250.1 558.9,257.0 567.4,261.9" stroke="#9c9cee" stroke-opacity="0.55"/>
<path d="M567.8,236.7 559.8,243.9 569.3,248.9 562.0,255.8 570.4,260.7" stroke="#9c9cee" stroke-opacity="0.55"/>
<path d="M570.8,234.4 566.6,237.8 563.7,241.7 566.1,244.5 572.1,247.4 565.3,254.3 569.6,256.5" stroke="#9c9cee" stroke-opacity="0.55"/>
<path d="M571.9,240.2 567.7,243.6 564.8,247.5 567.3,250.3 573.2,253.2 566.5,260.1 570.8,262.3" stroke="#9c9cee" stroke-opacity="0.55"/>
<path d="M575.0,238.5 570.8,242.0 567.9,245.9 570.4,248.6 576.3,251.6 569.6,258.5 573.8,260.6" stroke="#9c9cee" stroke-opacity="0.55"/>
<path d="M584.1,237.6 576.0,243.5 578.2,246.3 583.5,249.8 581.2,252.0 576.0,254.6" stroke="#f29a9a" stroke-opacity="0.55"/>
<path d="M587.6,234.8 579.4,240.7 581.7,243.5 586.9,246.9 584.6,249.2 579.4,251.7" stroke="#9c9cee" stroke-opacity="0.55"/>
<path d="M582.5,235.8 574.4,241.7 576.6,244.4 581.8,247.9 579.6,250.1 574.4,252.7" stroke="#9c9cee" stroke-opacity="0.55"/>
<path d="M674.1,276.2 668.0,280.8 660.4,282.3 654.4,285.3 649.8,289.9 645.3,294.4" stroke="#f29a9a" stroke-opacity="0.55"/>
<path d="M672.6,278.5 666.5,283.1 658.9,284.6 652.9,287.6 648.3,292.2 643.8,296.7" stroke="#f29a9a" stroke-opacity="0.55"/>
<path d="M672.8,278.4 666.7,283.0 659.1,284.5 653.1,287.5 648.5,292.1 644.0,296.6" stroke="#9c9cee" stroke-opacity="0.55"/>
<path d="M608.7,225.8 616.3,221.2 620.9,227.3 617.8,231.9 613.3,230.4" stroke="#9c9cee" stroke-opacity="0.55"/>
<path d="M607.0,222.7 614.6,218.1 619.2,224.2 616.1,228.8 611.6,227.3" stroke="#9c9cee" stroke-opacity="0.55"/>
<path d="M608.0,225.9 615.6,221.3 620.2,227.4 617.1,232.0 612.6,230.5" stroke="#9c9cee" stroke-opacity="0.55"/>
<path d="M618.1,219.6 624.2,216.6 630.2,219.6 636.3,219.6 642.4,221.1 645.4,227.2" stroke="#9c9cee" stroke-opacity="0.55"/>
<path d="M623.1,224.0 629.2,221.0 635.2,224.0 641.3,224.0 647.4,225.5 650.4,231.6" stroke="#f29a9a" stroke-opacity="0.55"/>
<path d="M623.5,224.9 629.6,221.9 635.6,224.9 641.7,224.9 647.8,226.4 650.8,232.5" stroke="#9c9cee" stroke-opacity="0.55"/>
<path d="M621.8,229.4 625.0,226.5 629.1,222.1 634.2,231.1 641.5,224.5 643.3,229.7 645.9,233.9 649.4,231.2" stroke="#9c9cee" stroke-opacity="0.55"/>
<path d="M617.7,230.7 620.9,227.8 625.0,223.5 630.1,232.4 637.4,225.8 639.2,231.1 641.8,235.2 645.3,232.6" stroke="#f29a9a" stroke-opacity="0.55"/>
<path d="M617.8,229.1 621.0,226.3 625.1,221.9 630.1,230.9 637.4,224.2 639.3,229.5 641.9,233.6 645.3,231.0" stroke="#9c9cee" stroke-opacity="0.55"/>
<path d="M665.1,226.0 672.7,226.0 674.2,233.6 677.2,238.1" stroke="#9c9cee" stroke-opacity="0.55"/>
<path d="M661.3,229.2 668.9,229.2 670.4,236.8 673.4,241.3" stroke="#9c9cee" stroke-opacity="0.55"/>
<path d="M665.5,225.7 673.1,225.7 674.6,233.3 677.6,237.8" stroke="#9c9cee" stroke-opacity="0.55"/>
<path d="M649.5,230.5 657.1,229.0 661.7,233.6 658.6,238.1" stroke="#f29a9a" stroke-opacity="0.55"/>
<path d="M648.5,230.3 656.1,228.8 660.7,233.4 657.6,237.9" stroke="#9c9cee" stroke-opacity="0.55"/>
<path d="M651.8,230.5 659.4,229.0 664.0,233.6 660.9,238.1" stroke="#f29a9a" stroke-opacity="0.55"/>
<path d="M500.2,307.8 504.7,309.3 509.3,307.8 513.8,306.2 518.4,307.8" stroke="#f29a9a" stroke-opacity="0.55"/>
<path d="M495.3,310.5 499.8,312.0 504.4,310.5 508.9,308.9 513.5,310.5" stroke="#9c9cee" stroke-opacity="0.55"/>
<path d="M498.1,63.6 506.5,69.1 508.2,64.3 509.4,58.5 518.5,63.4 520.2,59.5 520.9,53.8 524.2,56.5" stroke="#0808ee"/>
<path d="M495.7,64.4 504.8,69.8 506.2,65.2 507.7,59.2 516.4,64.1 517.9,60.8 519.1,55.2 522.7,58.1" stroke="#f20808"/>
<path d="M604.3,80.1 599.3,87.3 608.1,91.9 603.0,99.4 606.3,101.9" stroke="#0808ee"/>
<path d="M603.0,81.0 598.5,88.8 607.1,93.0 602.5,100.5 605.1,102.9" stroke="#f20808"/>
<path d="M652.3,97.1 653.2,106.5 662.3,102.2 663.4,111.2 666.5,110.6 671.9,107.1 672.6,110.6" stroke="#f20808"/>
<path d="M650.8,96.3 651.6,106.6 660.6,102.1 661.1,110.8 664.3,110.5 669.8,106.6 671.2,110.5" stroke="#0808ee"/>

<path d="M571.8,64.6 577.0,68.5 583.5,68.7 587.9,64.0" stroke="#f20808"/>
<path d="M523.5,162.0 524.0,152.6 533.4,156.8 534.0,146.3" stroke="#f20808"/>
<path d="M523.3,163.9 523.9,154.7 533.3,158.6 533.8,148.5" stroke="#0808ee"/>
<path d="M632.7,62.6 643.9,65.7 638.4,75.2 648.6,76.2" stroke="#0808ee"/>

<path d="M630.8,43.0 639.1,43.7 638.1,47.3 636.4,52.0 645.6,53.1 644.8,57.3 643.7,62.4 646.8,63.5" stroke="#f20808"/>
<path d="M629.8,44.0 637.6,44.9 637.1,48.9 635.7,53.3 644.3,54.6 643.1,58.0 642.6,63.7 645.3,64.8" stroke="#0808ee"/>
<path d="M614.2,52.3 616.5,54.3 622.5,56.0 616.6,64.2 625.4,67.9 618.4,75.3 622.9,77.0 627.3,79.3" stroke="#f20808"/>
<path d="M614.1,54.2 616.0,56.4 622.1,58.2 616.2,66.0 625.0,69.8 617.8,77.3 622.1,79.2 626.7,81.4" stroke="#0808ee"/>
<path d="M563.1,77.1 570.5,82.8 574.6,73.6 582.8,78.5 586.5,69.3" stroke="#f20808"/>


<path d="M524.7,119.9 527.9,111.4 534.9,117.5 536.1,113.6 537.4,107.2 540.7,109.8" stroke="#0808ee"/>
<path d="M505.4,108.6 512.1,107.6 513.8,101.1 520.2,101.3 523.6,107.2 529.3,108.6 534.3,104.7" stroke="#0808ee"/>

<path d="M622.8,79.9 616.8,86.4 624.2,90.2" stroke="#f20808"/>

<path d="M524.0,123.2 531.8,127.5 535.3,119.0 538.0,120.4 542.7,125.2 547.2,115.1" stroke="#0808ee"/>

<path d="M537.8,51.8 543.5,53.8 548.0,58.7 550.6,64.3 556.5,63.3" stroke="#0808ee"/>
<path d="M538.2,49.6 544.2,51.9 548.5,56.9 550.7,63.0 557.1,62.1" stroke="#f20808"/>
<path d="M665.3,55.2 674.7,55.4 675.5,59.3 673.4,64.9 676.6,64.7" stroke="#0808ee"/>
<path d="M663.3,56.2 673.1,56.7 673.1,60.1 671.0,66.1 674.9,65.9" stroke="#f20808"/>
<path d="M537.1,102.0 535.4,108.5 529.9,107.1 525.0,102.4 522.7,96.4" stroke="#0808ee"/>

<path d="M495.4,87.4 499.5,97.1 507.3,90.1 508.4,94.8 510.1,99.0 518.3,94.3 519.7,98.2" stroke="#0808ee"/>
<path d="M493.8,86.7 497.6,96.1 505.3,89.0 506.5,93.8 508.5,97.7 516.4,92.9 517.8,97.0" stroke="#f20808"/>
<path d="M550.1,124.0 555.5,127.7 559.5,122.7 563.6,117.6 558.6,113.5 556.3,107.4 551.9,102.6" stroke="#f20808"/>
<path d="M550.4,121.8 555.8,125.8 560.6,121.4 564.4,115.6 559.2,111.6 556.9,105.1 552.7,101.2" stroke="#0808ee"/>
<path d="M558.5,132.8 563.0,124.4 569.9,130.3 574.5,122.9" stroke="#0808ee"/>
<path d="M558.2,135.2 562.4,126.9 570.0,132.8 574.5,125.2" stroke="#f20808"/>

<path d="M505.2,111.5 508.1,112.5 513.0,118.0 516.9,108.7 524.5,114.2 525.3,109.2 526.7,105.0 530.2,106.6" stroke="#0808ee"/>
<path d="M660.8,71.7 656.9,76.9 650.4,77.6 647.3,83.3 649.9,89.3 656.2,91.0 655.9,97.5" stroke="#f20808"/>
<path d="M659.2,71.1 655.3,76.8 649.1,77.8 645.7,83.4 648.3,89.1 654.1,90.7 654.5,96.9" stroke="#0808ee"/>

<path d="M504.3,96.0 499.7,91.2 504.4,86.3 510.1,87.8 513.9,82.9 516.3,76.8 523.2,78.0 524.2,84.6 528.8,90.2" stroke="#0808ee"/>
<path d="M579.2,70.0 584.3,65.9 590.3,68.2 596.4,66.0 602.9,65.9 608.4,69.4 614.9,68.6" stroke="#f20808"/>


<path d="M541.1,135.8 549.5,140.0 551.2,130.8" stroke="#0808ee"/>
<path d="M516.0,132.1 524.1,139.4 528.4,130.5 531.4,133.3 534.9,136.0 538.9,127.1 545.7,133.9 547.5,130.4" stroke="#f20808"/>
<path d="M514.3,133.9 523.0,140.8 526.6,132.0 530.1,135.1 533.5,137.3 537.2,129.0 544.2,135.0 545.9,131.7" stroke="#0808ee"/>

<path d="M522.3,94.4 520.2,84.6 530.5,88.2" stroke="#0808ee"/>
<path d="M524.4,134.6 530.2,141.3 536.1,133.4 539.0,138.1 542.4,141.5 548.0,132.8" stroke="#f20808"/>
<path d="M526.5,134.3 532.6,140.9 538.0,133.3 540.8,138.0 545.0,141.9 549.9,132.3" stroke="#0808ee"/>

<path d="M558.7,139.6 565.1,140.8 571.6,141.0 575.4,135.8 581.6,137.7 583.5,131.5 586.3,125.7 591.6,121.8 596.9,118.0" stroke="#f20808"/>
<path d="M520.4,128.2 513.8,129.8 511.2,135.7 511.1,141.8 517.0,144.4 522.8,142.7 525.3,148.6 519.8,152.1 517.3,158.0" stroke="#0808ee"/>


<path d="M651.7,79.2 655.8,78.9 660.7,77.7 659.5,87.6 670.2,86.3" stroke="#0808ee"/>
<path d="M632.7,97.2 642.1,98.3 640.2,107.7 644.9,107.7 650.4,107.8 647.6,117.1 650.6,117.8" stroke="#f20808"/>
<path d="M631.3,96.3 641.0,97.3 638.3,107.3 643.0,106.7 648.8,107.4 646.5,116.7 648.7,117.3" stroke="#0808ee"/>
<path d="M524.0,103.8 524.4,98.0 525.8,93.8 534.7,98.5 534.7,94.0 536.0,89.4 539.8,92.3 544.1,94.6" stroke="#0808ee"/>
<path d="M525.0,104.8 525.4,99.2 526.9,94.9 535.4,100.1 536.1,95.7 537.1,90.4 541.0,93.6 545.0,95.5" stroke="#f20808"/>
<path d="M596.4,69.6 588.3,74.6 590.6,77.3 596.1,80.9" stroke="#f20808"/>
<path d="M596.7,71.8 588.5,76.5 590.1,79.2 595.7,82.3" stroke="#0808ee"/>
<path d="M594.6,54.7 605.1,54.5 603.9,59.0 602.7,64.0 605.1,65.5 611.7,63.8 611.5,68.0" stroke="#0808ee"/>


<path d="M583.8,82.5 579.8,87.6 582.3,93.6 577.0,97.2 572.1,101.6 566.8,97.8 566.9,91.3" stroke="#f20808"/>

<path d="M532.7,92.3 536.3,92.9 541.3,92.7 542.3,89.7 541.6,83.8 551.1,84.9 551.0,74.9" stroke="#0808ee"/>
<path d="M531.8,124.1 537.0,120.1 543.1,119.5 548.8,116.3 551.9,110.5" stroke="#0808ee"/>

<path d="M584.0,53.9 593.2,59.8 585.7,65.3 592.6,70.2 591.0,72.6 586.5,75.7" stroke="#0808ee"/>
<path d="M583.3,56.2 592.2,61.2 585.3,67.6 592.1,72.5 590.4,74.9 586.2,78.1" stroke="#f20808"/>
<path d="M525.7,132.2 531.9,130.3 535.6,135.7 542.1,135.6 546.3,140.6 552.7,140.0" stroke="#f20808"/>
<path d="M524.5,134.2 531.5,132.6 535.3,137.9 541.7,138.0 546.0,143.0 552.0,142.2" stroke="#0808ee"/>
<path d="M506.9,57.1 508.1,63.8 501.5,65.7 494.9,66.6" stroke="#0808ee"/>

<path d="M505.2,84.0 511.2,86.2 517.6,85.6 521.8,90.3 527.2,93.1" stroke="#0808ee"/>

<path d="M579.0,132.1 586.4,136.6 588.1,133.4 589.2,127.9" stroke="#0808ee"/>
<path d="M580.5,131.5 587.9,135.7 589.7,132.8 591.0,126.9" stroke="#f20808"/>

<path d="M510.4,65.3 512.8,59.3 514.4,53.0" stroke="#f20808"/>
<path d="M551.3,60.0 552.4,57.1 553.9,50.7 562.3,56.6 562.6,51.0 564.8,47.6" stroke="#0808ee"/>

























<path d="M638.8,32.7 648.3,31.7 648.2,35.3 646.6,40.8 655.7,40.0 654.2,49.2 664.2,48.1 662.0,57.9 671.2,55.8 671.3,59.6 668.9,65.0 679.6,65.1" stroke="#0808ee"/>
<path d="M638.1,34.6 647.8,33.4 647.6,36.8 645.8,42.2 654.8,41.3 653.5,51.4 663.2,49.5 661.0,59.7 670.4,58.0 670.4,61.4 668.5,67.3 678.6,66.5" stroke="#f20808"/>
<path d="M612.4,34.4 609.4,35.7 602.9,36.2 608.0,43.8 598.6,46.7 604.5,56.4 600.0,57.3 595.2,58.7" stroke="#f20808"/>
<path d="M611.2,33.3 608.2,35.1 601.6,35.0 606.8,42.4 597.1,46.1 603.1,55.4 598.2,56.1 594.0,57.1" stroke="#0808ee"/>
<path d="M626.2,47.2 616.9,49.8 622.7,58.6 619.1,59.6 612.5,59.5 618.8,68.3 609.6,70.0" stroke="#0808ee"/>
<path d="M626.9,45.2 617.9,48.1 623.5,56.5 619.7,57.4 613.4,57.8 619.3,66.1 610.2,68.4" stroke="#f20808"/>
<path d="M619.0,52.6 616.8,61.3 625.6,62.3 622.1,71.4 630.3,73.4" stroke="#0808ee"/>
<path d="M620.9,51.4 618.2,60.3 627.3,61.6 623.9,70.7 632.4,72.4" stroke="#f20808"/>
<path d="M606.4,33.3 615.5,27.7 623.7,25.2 626.0,30.0" stroke="#f20808"/>

<path d="M612.7,32.0 620.5,28.4 629.9,26.1 631.3,33.4" stroke="#0808ee"/>


<path d="M631.9,34.4 636.0,28.2 640.1,27.2 644.2,33.3 651.3,31.3 655.4,36.4 657.4,41.5" stroke="#f20808"/>

<path d="M636.3,36.8 643.4,31.6 646.7,34.5 655.8,36.9 659.8,41.8" stroke="#0808ee"/>

<path d="M604.0,38.0 610.0,40.0 606.0,44.0 613.0,47.0" stroke="#f20808"/>

<path d="M633.0,33.0 634.0,43.0 635.0,53.0 640.0,63.0 646.0,71.0 653.0,77.5" stroke="#f20808"/>
<path d="M637.1,34.3 637.9,44.3 640.1,53.9 644.9,62.0 651.2,68.9 657.2,75.0" stroke="#0808ee"/>


<path d="M580.0,77.5 594.0,80.0 608.7,82.0 622.0,81.0 635.0,79.7 646.0,86.3" stroke="#f20808"/>

<path d="M580.1,85.5 592.6,88.3 606.0,90.3 614.6,92.4 623.7,92.5" stroke="#0808ee"/>
<path d="M501.8,82.0 504.8,71.9 512.5,77.1 516.5,68.6 524.1,75.2 527.0,66.3 530.6,69.3 535.0,71.5 539.1,62.4 546.2,67.5 548.1,64.2 549.3,58.3" stroke="#0808ee"/>
<path d="M500.2,80.2 503.7,69.9 511.6,75.5 515.7,66.7 523.1,73.6 525.7,64.1 529.6,67.3 534.0,69.3 537.8,60.8 545.3,66.1 546.9,62.5 548.5,56.7" stroke="#f20808"/>
<path d="M507.1,89.9 515.6,95.1 519.0,85.5 527.1,92.2 531.2,82.4 539.7,87.9 542.9,79.3 551.4,84.8 552.8,80.6 554.6,76.1 562.9,81.7 567.3,73.1 571.2,76.4 575.5,79.2" stroke="#f20808"/>
<path d="M504.9,88.6 513.9,93.6 517.6,84.9 524.8,91.6 529.2,81.6 538.1,86.7 541.2,78.4 549.8,83.5 551.1,80.0 552.9,75.1 560.6,80.6 565.3,72.2 569.5,75.4 573.4,78.3" stroke="#0808ee"/>
<path d="M488.1,104.3 490.2,101.1 492.2,95.3 499.4,100.9 503.2,91.8 506.8,95.4" stroke="#f20808"/>
<path d="M487.9,102.0 489.5,98.8 491.7,93.4 498.8,99.0 502.4,89.5 505.9,92.9" stroke="#0808ee"/>
<path d="M521.9,48.8 529.6,54.6 532.4,44.5 539.9,49.2 543.2,40.6 550.5,45.3" stroke="#0808ee"/>
<path d="M519.8,49.9 527.5,55.0 530.6,45.1 538.1,50.1 541.3,41.7 548.7,45.8" stroke="#f20808"/>
<path d="M567.7,73.5 570.1,77.0 573.1,82.6 579.3,75.6 583.1,84.4 590.0,75.7 594.2,84.4 601.7,76.5" stroke="#0808ee"/>
<path d="M565.4,74.5 568.1,77.8 571.2,83.6 576.9,76.6 581.4,84.9 587.7,76.8 592.2,85.3 599.6,77.7" stroke="#f20808"/>
<path d="M562.6,137.2 566.7,128.9 569.5,131.6 573.0,134.7 574.7,130.8 577.0,127.0 579.7,130.0 583.1,133.6 585.4,129.9 588.2,125.5 594.3,131.7 598.4,124.4 605.4,129.9 609.5,122.6" stroke="#f20808"/>
<path d="M563.8,136.0 568.0,127.9 570.8,130.4 574.8,134.4 576.1,130.5 578.6,126.5 581.8,129.6 584.3,132.7 587.2,129.6 589.5,124.5 596.3,130.6 600.0,123.4 607.3,129.6 610.8,122.1" stroke="#0808ee"/>
<path d="M606.7,123.3 615.5,128.2 618.1,119.3 621.3,120.9 625.9,124.8 629.1,115.3 636.4,120.0 639.5,111.2 642.5,112.8 647.1,117.2 650.7,107.6" stroke="#f20808"/>
<path d="M605.3,124.6 614.7,129.9 616.6,120.7 620.8,122.3 625.0,126.3 628.5,117.1 635.8,121.6 638.2,112.6 641.2,114.8 645.8,118.3 650.2,108.9" stroke="#0808ee"/>
<path d="M582.7,152.0 586.1,142.6 594.5,149.3 597.4,140.0 604.8,146.4 606.2,141.8 608.4,136.9 611.9,139.3 617.0,142.8 620.0,133.9 627.7,139.7 629.8,129.9 637.6,136.1 639.7,134.0 641.2,127.3 649.4,134.0 654.1,124.2" stroke="#0808ee"/>
<path d="M581.0,152.6 584.1,143.7 592.3,150.1 595.5,140.8 602.6,146.8 604.5,142.9 606.8,137.6 610.5,140.3 614.9,143.2 617.7,134.1 625.4,140.4 628.3,130.7 635.8,136.7 637.7,134.7 639.0,128.1 647.5,134.3 651.9,125.0" stroke="#f20808"/>
<path d="M483.1,132.1 490.2,137.1 491.2,132.5 492.8,127.8 500.9,134.2 502.4,128.9 505.2,125.2 512.5,129.3 514.2,125.6 516.3,121.3" stroke="#f20808"/>
<path d="M483.0,134.1 490.1,138.5 490.8,133.6 492.8,129.8 501.2,135.8 502.5,131.0 505.4,126.9 512.3,130.9 513.7,126.9 516.3,123.4" stroke="#0808ee"/>
<path d="M552.5,50.9 561.0,54.7 558.2,58.6 555.3,63.1 564.7,66.7" stroke="#f20808"/>
<path d="M554.9,51.7 563.2,54.8 560.7,58.6 557.2,63.8 566.5,66.8" stroke="#0808ee"/>


<path d="M529.7,37.4 534.7,35.8 539.7,36.6 544.7,38.2" stroke="#f20808"/>
<path d="M530.0,39.0 535.0,37.4 539.8,37.9 545.7,39.4" stroke="#0808ee"/>
<path d="M560.5,44.2 566.0,36.9 572.2,32.8 579.7,33.5 579.7,36.7 575.6,40.2 571.4,41.6 565.6,47.5 563.1,50.8" stroke="#0808ee"/>

<path d="M563.2,46.5 568.2,41.6 574.0,37.4 580.7,36.6 582.3,45.7 576.5,44.9 573.2,49.9 568.2,48.2 566.6,55.7 574.9,55.7" stroke="#f20808"/>


<path d="M489.9,88.3 485.0,90.0 481.6,98.2 483.3,104.9 488.3,108.2" stroke="#f20808"/>

<path d="M480.5,96.7 481.7,104.8 480.4,109.4 485.6,114.5" stroke="#0808ee"/>

<path d="M513.1,116.5 511.5,124.8 509.8,131.4" stroke="#f20808"/>
<path d="M527.5,114.7 530.9,107.8 535.7,101.8 539.4,97.8 542.9,99.8 549.9,99.8 552.5,96.6 556.5,98.1 561.4,103.4 564.3,106.3 559.4,108.1 552.7,106.6 548.2,108.3 544.2,104.6" stroke="#0808ee"/>

<path d="M526.4,114.8 531.4,109.8 536.4,108.2 541.3,111.5 544.7,108.2" stroke="#f20808"/>

<path d="M573.0,84.0 580.0,82.0 588.6,80.0 597.4,84.0 606.0,88.7 617.3,91.0 630.5,93.0 628.3,99.7 621.7,104.0 615.0,108.6" stroke="#f20808"/>

<path d="M574.9,87.1 582.2,84.9 589.6,83.5 598.2,87.6 606.9,92.3 617.5,94.6 625.5,97.0 623.9,102.4 618.3,106.8" stroke="#0808ee"/>


<path d="M588.6,82.0 590.8,91.0 599.6,99.7 606.0,104.0 610.6,108.6" stroke="#f20808"/>

<path d="M586.4,85.6 591.0,95.1 594.9,102.3 602.4,105.4 606.2,110.7 599.6,115.9 593.8,113.7" stroke="#0808ee"/>
<path d="M530.0,120.2 534.6,112.6 539.1,111.1 545.2,114.1 551.3,117.1 555.8,123.2 560.4,127.8 566.4,130.8 564.9,135.4 572.5,135.4 575.5,132.3" stroke="#f20808"/>


<path d="M530.0,129.3 537.6,127.8 545.2,127.8 552.8,126.3 560.4,124.7 566.4,121.7 575.5,120.2 583.1,120.2 587.7,118.7" stroke="#f20808"/>
<path d="M530.0,132.4 539.2,130.7 547.8,129.6 556.2,127.8 563.5,126.1 569.9,129.5 575.2,126.6 582.1,123.0 588.2,120.2 587.4,115.8 590.5,112.8 593.9,115.2 598.3,114.5" stroke="#0808ee"/>

<path d="M613.2,83.1 619.4,81.5 626.4,79.7 632.5,80.6 637.9,78.0 642.5,79.4 644.3,87.5 646.2,91.1 652.5,92.3 655.9,89.2 657.8,84.1 660.8,79.1 665.8,76.1 672.1,74.0" stroke="#0808ee"/>
<path d="M615.0,83.3 621.6,81.6 628.3,80.0 634.9,81.6 639.9,78.3 644.9,80.0 646.5,88.3 648.2,91.6 654.8,93.2 658.1,89.9 659.8,85.0 663.1,80.0 668.1,76.6 674.7,75.0" stroke="#f20808"/>
<path d="M615.4,90.7 621.8,92.3 628.9,93.4 627.0,102.3 621.9,105.2 617.3,108.1" stroke="#0808ee"/>
<path d="M615.0,88.3 621.6,89.9 628.3,91.6 626.6,99.9 621.6,103.2 616.7,106.5" stroke="#f20808"/>
<path d="M648.3,101.6 657.2,108.2 666.0,103.8 672.6,108.2" stroke="#f20808"/>
<path d="M650.8,101.1 659.6,107.8 668.2,103.5 675.2,108.2" stroke="#0808ee"/>
<path d="M505.0,124.7 506.8,133.3 508.7,141.9 505.1,146.5 501.0,151.6 500.1,155.3 504.6,157.9 512.0,160.0 516.5,163.3 519.4,166.5 521.6,169.9" stroke="#0808ee"/>


<path d="M511.5,125.0 509.8,133.3 513.1,141.6 508.2,144.9 503.2,148.2 501.5,151.5 504.9,154.9 509.8,158.2 514.8,159.8 518.1,161.5" stroke="#f20808"/>

<path d="M514.8,141.6 521.4,139.9 526.4,136.6 531.4,133.3 538.0,130.0 544.7,128.3" stroke="#f20808"/>

<path d="M521.3,124.6 524.6,131.7 528.1,138.4 526.2,146.1 527.6,153.0 527.8,158.3 524.6,163.4 521.5,168.3" stroke="#0808ee"/>

<path d="M524.8,163.1 529.7,164.8 533.0,163.1 536.4,159.8 541.3,161.5 545.0,160.0" stroke="#f20808"/>





<path d="M584.8,155.0 587.7,163.3 594.8,162.0 592.6,154.5" stroke="#0808ee"/>


<path d="M545.0,154.6 549.6,151.5 552.9,159.9 548.0,165.3 545.0,168.2" stroke="#0808ee"/>
<path d="M545.0,153.0 550.0,150.0 553.3,158.0 548.3,163.0 545.0,166.5" stroke="#f20808"/>
<path d="M560.0,123.7 568.8,128.1 573.3,134.8 582.1,137.0" stroke="#f20808"/>


<path d="M615.2,145.4 618.0,151.9 623.6,156.7 628.8,156.1" stroke="#0808ee"/>

<path d="M615.0,156.5 616.7,161.5 621.6,158.2 626.6,157.3" stroke="#f20808"/>



<path d="M481.4,146.3 485.0,141.7 488.2,136.6 491.4,131.9 495.3,127.0" stroke="#0808ee"/>
<path d="M626.7,282.1 621.6,286.1 616.6,290.3 610.4,292.0" stroke="#f20808"/>


<path d="M645.7,274.4 651.6,271.5 654.6,265.2 654.6,259.2 649.6,255.5" stroke="#0808ee"/>

<path d="M657.7,226.2 651.2,226.6 650.1,233.0 643.6,233.4 639.9,228.0 639.4,221.5" stroke="#f20808"/>
<path d="M625.3,233.3 622.6,235.1 616.2,236.2 621.2,243.7" stroke="#f20808"/>
<path d="M626.4,234.5 623.4,237.0 616.9,237.4 622.6,245.0" stroke="#0808ee"/>
<path d="M630.5,267.4 636.7,276.8 626.2,279.3 632.4,288.1 628.8,289.5 624.0,291.1" stroke="#0808ee"/>

<path d="M629.6,258.2 619.9,257.4 621.8,263.0 621.7,267.8 618.4,268.0 613.1,267.1 614.8,276.9 609.3,276.0" stroke="#f20808"/>

<path d="M617.0,255.6 611.6,254.0 605.2,255.0 599.8,259.3" stroke="#0808ee"/>

<path d="M659.3,270.8 650.0,266.9 649.0,275.6 640.0,273.4 638.5,276.6" stroke="#f20808"/>
<path d="M658.7,272.7 650.1,269.5 649.0,278.2 639.4,275.3 638.2,278.6" stroke="#0808ee"/>
<path d="M601.5,257.1 601.8,261.0 602.1,265.7 598.1,265.1 593.5,264.8" stroke="#f20808"/>
<path d="M601.5,258.7 602.0,262.7 602.3,268.0 598.4,267.1 594.0,266.7" stroke="#0808ee"/>
<path d="M596.9,288.4 601.3,288.7 607.2,288.6 606.9,291.9 605.2,296.9 609.3,297.2 614.1,297.7" stroke="#f20808"/>
<path d="M597.7,290.0 602.0,291.0 607.7,290.9 607.4,293.7 605.5,298.7 610.0,299.5 614.7,299.4" stroke="#0808ee"/>

<path d="M627.6,254.0 637.0,259.1 631.2,266.5 634.1,269.0 638.0,271.7 636.7,274.6" stroke="#0808ee"/>
<path d="M654.4,253.8 660.9,245.8 667.8,253.7" stroke="#0808ee"/>
<path d="M653.3,255.6 659.9,247.4 666.2,255.4" stroke="#f20808"/>
<path d="M629.3,218.7 629.2,228.7 621.0,225.3 620.4,235.5 609.2,233.0" stroke="#0808ee"/>
<path d="M627.4,218.8 627.3,228.6 618.5,225.8 617.6,235.4 607.3,233.2" stroke="#f20808"/>
<path d="M604.6,267.4 603.4,261.4 601.0,255.2 603.2,248.4 605.3,242.1 609.2,237.2" stroke="#0808ee"/>
<path d="M604.7,269.6 603.5,263.2 601.2,257.1 603.7,251.2 605.3,244.9 609.0,239.5" stroke="#f20808"/>
<path d="M608.6,311.3 612.4,306.7 618.3,304.8 624.6,304.3 624.9,297.6 618.0,297.7 618.0,304.8 617.8,311.6 621.7,316.3" stroke="#0808ee"/>
<path d="M609.0,309.6 612.7,304.2 619.0,302.7 625.4,301.7 624.8,295.2 618.3,296.0 618.7,302.5 617.9,308.9 621.7,314.2" stroke="#f20808"/>
<path d="M605.7,260.8 602.6,255.1 607.7,251.0 608.5,244.6 602.2,243.2 595.7,243.1 594.0,249.4 594.2,255.9" stroke="#f20808"/>
<path d="M603.4,260.7 600.8,254.6 605.6,250.1 606.2,243.8 600.2,242.3 593.4,242.9 592.3,249.3 592.1,255.6" stroke="#0808ee"/>
<path d="M634.9,249.4 636.3,253.9 637.8,259.0 628.0,257.5 628.8,266.1 620.0,265.9 620.1,269.7" stroke="#0808ee"/>
<path d="M632.9,249.4 634.7,254.4 635.7,259.6 625.9,257.9 627.3,266.8 618.1,266.2 618.5,270.3" stroke="#f20808"/>
<path d="M646.6,236.6 653.2,228.7 658.8,237.7" stroke="#0808ee"/>

<path d="M611.6,310.5 606.2,306.3 599.9,308.8 593.4,308.2" stroke="#0808ee"/>

<path d="M611.5,261.6 601.6,262.5 603.8,272.1" stroke="#0808ee"/>
<path d="M609.5,260.3 600.0,261.3 602.2,270.7" stroke="#f20808"/>
<path d="M649.8,250.7 640.7,252.2 645.0,260.7 635.0,260.5 638.9,270.0" stroke="#0808ee"/>

<path d="M618.4,223.9 619.0,230.7 618.2,236.3 618.6,243.7 612.8,245.5" stroke="#0808ee"/>
<path d="M616.9,221.9 618.2,228.2 617.6,234.7 617.8,241.2 611.8,243.6" stroke="#f20808"/>
<path d="M612.3,246.7 617.3,248.5 622.0,250.9 615.7,258.4" stroke="#f20808"/>
<path d="M614.6,245.3 619.2,247.4 623.6,250.1 617.5,257.7" stroke="#0808ee"/>
<path d="M625.6,286.4 628.5,288.8 632.8,291.6 627.0,297.5 634.9,302.0 627.8,309.0" stroke="#f20808"/>
<path d="M626.8,284.4 630.0,287.3 634.5,289.7 628.7,295.6 636.2,300.2 629.1,306.9" stroke="#0808ee"/>

<path d="M627.2,299.4 617.2,297.2 617.4,300.9 618.2,305.5 614.8,304.1 609.1,302.7 609.5,308.4" stroke="#0808ee"/>

<path d="M629.6,264.9 633.3,263.2 638.5,259.2 641.7,268.6 645.0,266.3 649.0,263.8 650.4,268.5" stroke="#f20808"/>

<path d="M619.2,289.3 612.1,295.3 613.7,298.3 619.2,301.9 616.2,304.5 612.0,307.8" stroke="#f20808"/>

<path d="M600.7,263.0 606.2,260.1 612.1,262.3 618.7,260.2 621.2,265.9 622.7,272.2 625.7,277.4" stroke="#0808ee"/>

<path d="M612.9,231.1 619.4,230.8 625.3,228.1 630.4,224.0 636.8,222.9" stroke="#f20808"/>
<path d="M608.1,304.2 610.7,298.3 610.5,291.8 614.8,286.9 615.4,280.4 609.7,277.3 610.3,270.8 616.3,268.2 617.9,261.9" stroke="#f20808"/>
<path d="M609.4,304.4 612.1,297.5 612.3,291.1 616.1,286.3 617.6,279.9 611.8,277.5 611.8,270.2 617.8,268.1 619.8,261.5" stroke="#0808ee"/>
<path d="M634.0,223.1 631.8,229.2 633.7,235.4 640.0,237.2 644.8,232.8" stroke="#f20808"/>


<path d="M635.5,219.7 629.8,224.1 625.9,228.9 622.1,234.0 615.2,236.4 610.1,232.2 605.1,228.3" stroke="#0808ee"/>
<path d="M611.4,255.6 606.1,251.0 608.1,244.3 601.3,243.2 596.9,247.5 590.7,247.6" stroke="#0808ee"/>
<path d="M610.4,253.2 605.5,249.0 607.0,242.6 600.7,240.9 596.3,245.7 589.8,245.7" stroke="#f20808"/>
<path d="M624.3,258.5 621.5,253.3 615.9,251.2 609.1,251.5 605.3,246.2" stroke="#0808ee"/>
<path d="M622.4,258.0 619.5,252.1 613.2,250.5 606.7,250.5 603.1,245.1" stroke="#f20808"/>
<path d="M645.8,273.2 649.6,268.0 655.3,271.1 658.8,265.6 656.8,259.4 662.5,256.2 667.9,252.6 668.2,246.1 673.1,241.9" stroke="#f20808"/>

<path d="M642.5,298.7 636.4,300.9 633.4,295.1 639.2,292.1 645.3,294.5 644.1,300.8" stroke="#f20808"/>

<path d="M591.5,268.5 597.4,267.4 601.6,268.5 600.5,272.4 599.5,277.0 602.7,277.8" stroke="#f20808"/>
<path d="M590.0,267.6 595.9,266.6 600.2,267.8 598.6,271.7 598.2,276.2 600.7,276.8" stroke="#0808ee"/>

<path d="M628.5,287.5 630.6,281.9 637.1,278.7 640.5,284.5 638.9,290.7 640.9,296.7" stroke="#0808ee"/>
<path d="M636.5,278.6 641.9,278.7 646.6,281.0 642.5,289.4 651.8,290.4" stroke="#0808ee"/>
<path d="M637.4,280.6 642.8,281.1 647.7,282.6 643.1,291.5 652.8,292.6" stroke="#f20808"/>
<path d="M635.2,269.2 639.6,267.3 644.6,265.9 646.9,275.3 655.7,271.4" stroke="#f20808"/>

<path d="M617.2,251.5 611.0,243.3 604.0,251.9 601.3,248.3 598.4,243.2" stroke="#0808ee"/>

<path d="M588.0,278.0 593.0,273.5 594.6,267.2 601.2,267.2 607.2,263.9 610.1,258.8 615.6,255.3 619.9,250.2" stroke="#0808ee"/>

<path d="M611.6,269.8 607.2,274.9 604.2,280.1 607.7,285.1 614.4,286.5 616.7,293.0" stroke="#0808ee"/>
<path d="M613.6,270.6 609.6,275.8 605.9,281.1 610.1,286.1 616.4,287.7 618.8,293.8" stroke="#f20808"/>
<path d="M641.3,275.6 642.2,269.2 642.7,262.7 642.1,256.2 639.2,250.4 633.1,248.0 633.8,241.5" stroke="#f20808"/>
<path d="M639.8,275.6 640.2,268.7 640.9,263.2 640.6,255.8 637.6,250.4 631.2,248.2 632.6,242.0" stroke="#0808ee"/>
<path d="M606.9,267.8 602.0,264.2 603.3,257.7 602.0,250.7 598.8,245.6 591.7,247.1 591.9,253.4 588.2,258.6 589.4,265.0" stroke="#0808ee"/>

<path d="M618.3,225.8 627.2,220.4 628.8,230.5 632.6,228.8 637.6,225.3" stroke="#0808ee"/>
<path d="M619.8,227.8 628.1,221.9 630.5,232.4 633.7,230.7 638.4,226.8" stroke="#f20808"/>

<path d="M603.0,293.8 597.0,291.3 598.4,284.9 593.2,281.0 586.8,282.4" stroke="#f20808"/>

<path d="M651.5,271.2 649.4,277.8 649.4,283.9 649.1,291.0" stroke="#0808ee"/>

<path d="M616.0,252.9 613.2,260.9 605.1,254.4 603.2,259.4 601.3,262.7" stroke="#0808ee"/>
<path d="M633.6,297.6 633.1,302.1 630.3,306.7 627.1,304.5 622.2,301.4 620.5,305.9" stroke="#0808ee"/>
<path d="M631.8,296.8 630.6,301.8 628.3,305.7 624.7,303.5 620.3,300.7 618.8,305.4" stroke="#f20808"/>
<path d="M631.5,278.7 636.6,282.8 641.4,287.1 647.5,289.6 651.2,284.3 657.2,281.8 655.5,275.6" stroke="#f20808"/>

<path d="M644.4,251.7 647.3,253.7 648.8,260.2 656.5,253.5 657.6,258.2" stroke="#0808ee"/>
<path d="M643.3,250.9 645.7,253.2 647.7,259.5 655.1,252.9 656.5,257.8" stroke="#f20808"/>
<path d="M592.4,300.2 601.4,295.9 603.2,306.2 612.1,301.7 613.8,304.3 614.0,311.1" stroke="#f20808"/>
<path d="M592.8,298.1 601.0,294.1 603.1,304.8 612.0,300.2 613.8,302.8 614.4,309.6" stroke="#0808ee"/>
<path d="M599.9,298.4 603.9,303.5 609.2,299.8 608.0,293.4 606.0,287.2" stroke="#f20808"/>


<path d="M647.1,291.1 645.7,284.8 649.6,279.5 647.6,273.4 653.5,270.7 657.3,276.0" stroke="#f20808"/>
<path d="M616.2,228.0 619.0,233.9 624.7,237.0 623.9,243.5 620.7,249.2 616.6,254.2" stroke="#f20808"/>
<path d="M617.5,226.1 620.4,232.0 625.8,235.3 625.6,241.6 622.2,247.5 617.6,252.0" stroke="#0808ee"/>
<path d="M610.2,299.3 605.8,307.5 598.5,301.0" stroke="#f20808"/>

<path d="M606.5,269.4 603.4,263.5 608.6,259.9 615.2,259.5" stroke="#0808ee"/>

<path d="M622.8,297.6 629.1,296.3 632.1,302.1 637.7,305.3" stroke="#f20808"/>
<path d="M621.0,298.4 627.8,296.6 630.8,303.0 635.8,305.4" stroke="#0808ee"/>
<path d="M612.4,285.2 608.2,280.3 602.3,282.9 596.5,286.0 591.9,281.4 595.5,276.0 599.4,270.8 605.4,268.4" stroke="#f20808"/>

<path d="M629.6,261.9 638.6,259.6 639.7,261.6 639.1,268.0 648.5,264.6 649.5,274.6" stroke="#0808ee"/>
<path d="M630.0,259.4 638.7,257.1 639.9,259.7 639.4,265.7 649.2,262.8 649.5,272.6" stroke="#f20808"/>
<path d="M637.0,236.7 636.6,243.0 634.2,248.9 637.0,254.7 642.9,257.2" stroke="#0808ee"/>
<path d="M637.1,235.2 637.1,241.7 634.0,247.4 636.7,253.3 642.8,255.6" stroke="#f20808"/>

<path d="M612.2,312.6 606.4,308.5 608.5,302.6 603.8,298.4 606.2,291.5 610.1,286.9 607.5,281.0" stroke="#0808ee"/>
<path d="M593.9,272.9 603.6,273.8 600.2,282.1 608.3,283.1 605.7,291.2" stroke="#f20808"/>
<path d="M591.7,271.4 601.4,272.7 598.4,281.6 606.3,282.0 603.8,290.6" stroke="#0808ee"/>
<path d="M640.7,287.2 638.8,292.9 632.4,291.6 631.4,284.9 631.9,278.0 633.2,271.9 636.2,265.7" stroke="#0808ee"/>

<path d="M610.7,225.4 609.3,234.9 611.8,235.9 618.5,234.3 616.2,244.4 621.0,244.5 627.2,243.7" stroke="#0808ee"/>
<path d="M610.8,223.7 608.9,233.4 611.9,234.3 618.5,233.1 616.4,242.9 620.6,243.1 626.7,242.4" stroke="#f20808"/>
<path d="M623.3,224.7 625.4,231.1 622.5,237.3 617.9,241.5 612.3,243.8" stroke="#0808ee"/>

<path d="M648.1,235.1 658.0,232.8 658.4,242.9 667.5,241.2" stroke="#f20808"/>
<path d="M646.7,233.7 657.2,231.4 656.8,241.8 666.4,239.5" stroke="#0808ee"/>
<path d="M614.8,243.3 612.1,251.9 608.5,249.0 604.3,246.0 600.1,255.0 593.2,249.1" stroke="#0808ee"/>


<path d="M637.6,290.3 633.1,295.0 632.7,301.5 635.2,307.5" stroke="#f20808"/>

<path d="M606.2,285.7 606.0,292.7 612.9,292.2 614.3,285.6 608.3,284.2 602.8,288.1 598.0,284.6" stroke="#0808ee"/>

<path d="M632.3,301.4 635.4,295.6 630.3,291.6 632.5,285.5 638.8,287.2 644.1,291.0 649.9,288.2" stroke="#f20808"/>
<path d="M612.1,247.6 618.3,245.7 623.5,241.8 625.7,235.7 631.2,232.3" stroke="#f20808"/>
<path d="M614.0,248.4 619.7,246.9 625.4,242.6 626.9,237.3 632.5,233.7" stroke="#0808ee"/>
<path d="M617.7,228.0 620.4,229.5 627.3,229.9 621.4,239.0 631.5,241.5" stroke="#f20808"/>


<path d="M614.6,252.7 622.8,247.5 625.5,256.2 628.5,254.4 632.5,251.3" stroke="#f20808"/>
<path d="M527.9,279.0 534.5,275.8 540.3,276.7 543.1,282.8 541.7,289.7" stroke="#0808ee"/>
<path d="M529.1,277.5 534.9,274.6 541.4,275.1 543.4,281.2 542.6,287.7" stroke="#f20808"/>
<path d="M523.1,262.8 520.0,265.8 516.8,269.2 525.9,273.0 519.5,280.0 521.7,281.8 527.1,284.4 520.2,290.7" stroke="#0808ee"/>
<path d="M524.0,264.5 521.0,267.4 517.1,270.9 526.1,274.9 519.8,281.6 522.2,283.6 527.3,285.6 520.8,292.2" stroke="#f20808"/>
<path d="M543.0,281.4 538.6,276.2 536.8,270.7 537.5,263.9 535.9,258.1 536.1,251.6" stroke="#0808ee"/>

<path d="M543.8,284.5 551.3,289.3 548.1,292.5 545.0,295.5 550.2,297.4" stroke="#0808ee"/>
<path d="M545.0,283.3 553.0,288.5 550.1,291.5 547.1,295.0 552.1,296.8" stroke="#f20808"/>
<path d="M525.2,251.0 527.4,258.1 533.4,258.5 539.5,258.7 544.6,254.5 544.9,247.9" stroke="#0808ee"/>
<path d="M523.8,250.9 525.5,257.1 532.0,258.0 538.4,258.6 543.2,254.2 543.1,247.7" stroke="#f20808"/>

<path d="M521.4,287.3 521.7,280.8 526.3,276.3 526.4,269.8 531.2,265.4" stroke="#f20808"/>
<path d="M521.8,233.5 529.9,242.1 522.5,248.9 529.7,257.4 524.6,263.1 529.9,270.1 523.9,277.4 531.3,284.1 524.8,293.7" stroke="#0808ee"/>
<path d="M519.9,233.1 527.4,241.2 519.9,248.4 527.3,256.2 522.1,262.8 528.0,269.7 521.6,276.7 528.7,283.4 522.4,292.5" stroke="#f20808"/>
<path d="M524.0,236.0 529.8,244.3 524.5,250.9 529.0,258.7 523.8,265.9 528.8,273.1 522.9,280.5 529.1,287.1" stroke="#f20808"/>

<path d="M530.4,233.1 537.4,239.0 531.1,247.4 537.9,255.5 530.8,263.2 535.9,269.9 531.5,276.5 536.5,282.9 528.7,290.3" stroke="#0808ee"/>
<path d="M530.0,234.6 537.0,240.9 530.7,248.7 537.3,257.2 530.2,264.7 535.3,271.5 530.4,277.8 536.2,284.6 528.4,291.9" stroke="#f20808"/>

<path d="M534.7,237.3 539.7,245.2 533.4,252.5 538.6,260.5 530.9,266.7 536.9,274.2 529.6,281.0 534.1,288.3" stroke="#f20808"/>
<path d="M541.8,227.0 549.1,236.2 543.1,243.3 548.7,250.6 543.4,259.0 548.3,266.5 540.3,273.7 548.2,280.5 541.9,288.7" stroke="#0808ee"/>
<path d="M541.9,228.8 548.7,237.5 543.1,245.6 548.3,252.5 543.0,260.5 548.7,268.1 540.4,275.6 548.3,282.2 542.1,290.5" stroke="#f20808"/>

<path d="M547.9,231.8 552.8,238.4 547.0,244.5 551.0,251.4 544.8,259.4 550.3,265.8 544.5,272.2 549.9,279.3 544.4,286.7" stroke="#f20808"/>
<path d="M556.4,228.0 562.4,236.5 556.0,244.7 560.8,251.6 556.2,258.0 561.0,264.5 553.8,271.6 559.9,278.9 555.2,287.6" stroke="#f20808"/>
<path d="M556.9,226.3 562.8,234.9 555.9,242.6 561.3,250.1 556.3,255.9 560.7,262.6 554.4,269.5 559.8,276.6 555.4,285.3" stroke="#0808ee"/>
<path d="M560.8,233.1 566.3,240.2 559.6,246.8 567.3,255.0 561.1,260.8 566.8,268.0 560.9,276.1 565.4,282.6" stroke="#0808ee"/>

<path d="M567.4,227.9 571.6,234.6 566.4,240.6 572.1,247.7 566.1,254.7 571.2,262.2 565.0,268.2 570.4,276.6 565.1,284.2 571.4,293.1" stroke="#0808ee"/>
<path d="M569.6,229.2 573.7,236.1 568.5,242.3 573.7,248.8 568.3,256.4 573.3,263.5 567.0,270.1 571.9,278.6 566.4,286.0 572.7,295.0" stroke="#f20808"/>

<path d="M573.2,232.1 578.8,238.9 572.9,245.0 577.0,250.9 572.0,256.3 577.3,264.6 571.3,270.8 577.3,278.9 570.2,284.4 576.8,291.2" stroke="#f20808"/>










<path d="M571.1,252.3 564.8,250.9 562.0,244.5" stroke="#0808ee"/>


<path d="M574.3,242.4 569.1,246.2 562.9,244.1" stroke="#f20808"/>
<path d="M559.5,234.0 566.7,238.9 560.9,246.1 567.6,251.1 561.9,257.5 564.6,260.0" stroke="#f20808"/>

<path d="M566.6,248.3 567.2,254.8 569.0,261.1 575.5,260.6 577.7,266.7 574.0,272.0 570.7,277.7" stroke="#f20808"/>
<path d="M568.8,249.1 569.1,256.4 570.5,262.3 576.8,261.6 579.6,267.9 576.0,272.8 572.3,279.2" stroke="#0808ee"/>
<path d="M574.0,261.1 580.4,262.3 583.0,256.4" stroke="#f20808"/>
<path d="M571.8,261.8 578.2,263.2 580.7,257.2" stroke="#0808ee"/>
<path d="M581.8,269.5 579.3,275.5 584.9,278.9 586.3,285.2" stroke="#f20808"/>


<path d="M484.9,240.0 486.4,244.6 490.2,245.4 494.7,246.9 496.3,251.4 499.3,254.5 503.1,256.0 503.8,253.0 508.4,251.4 514.5,249.9 519.0,248.4 522.1,249.9" stroke="#f20808"/>
<path d="M492.8,242.7 492.9,251.6 495.7,254.5 499.8,257.5 502.7,262.4 506.6,257.5 512.0,254.9 516.9,253.3 521.7,251.4" stroke="#0808ee"/>

<path d="M509.7,234.1 514.1,229.0 518.7,226.1 523.3,222.8 526.8,225.8 525.1,231.0 520.1,233.1 515.6,238.4 513.0,239.4" stroke="#0808ee"/>

<path d="M513.0,231.7 519.0,227.1 525.1,224.1 529.7,221.0 532.7,227.1 529.7,231.7 525.1,236.3 520.6,239.3" stroke="#f20808"/>

<path d="M509.5,300.5 516.5,293.2 521.0,300.5 527.4,294.4 529.3,298.5 531.6,302.7 534.6,298.2 538.2,294.5 540.2,300.0 543.0,302.8" stroke="#f20808"/>
<path d="M510.2,301.7 517.0,294.4 521.7,302.2 528.7,295.7 529.7,299.5 532.3,303.7 535.3,299.9 538.8,295.4 541.5,301.4 544.5,304.0" stroke="#0808ee"/>
<path d="M540.0,295.4 544.6,299.9 549.1,298.4 553.7,304.5 558.2,307.5 562.8,306.0 567.3,310.6 570.4,304.5 574.9,310.6 579.5,306.0 585.6,307.5 590.1,310.6 594.7,309.0 600.7,312.1 606.8,310.6 611.1,310.5 617.1,313.6 623.2,315.1 629.3,312.1 635.4,309.0 639.9,303.0 641.4,298.4 638.4,295.4" stroke="#f20808"/>


<path d="M540.5,300.5 546.2,304.0 552.4,307.1 557.2,306.2 562.4,308.7 567.4,313.7 572.1,309.4 576.1,304.0 582.9,302.5 587.4,307.1 593.4,310.9 598.1,307.6 604.2,305.7 610.2,308.8 616.4,311.3 622.0,312.0 629.5,308.5 636.1,304.0" stroke="#0808ee"/>
<path d="M567.3,280.1 576.7,287.6 585.3,293.8 592.1,298.0" stroke="#0808ee"/>


<path d="M570.4,278.7 576.4,280.2 582.5,283.2 588.6,286.3 593.1,287.8" stroke="#f20808"/>
<path d="M548.9,231.7 552.0,235.3 555.7,238.6 561.0,230.1 564.0,234.4 567.6,238.2 573.2,230.3 575.6,232.4 578.6,237.5 584.7,229.7 591.2,237.0 597.5,228.7 603.4,237.3" stroke="#f20808"/>
<path d="M550.4,233.3 553.5,236.6 557.0,240.7 562.1,232.0 565.2,235.9 568.5,239.5 575.0,232.4 577.3,234.5 580.4,238.9 586.2,231.4 592.7,239.1 599.2,230.9 604.4,239.2" stroke="#0808ee"/>
<path d="M565.3,238.6 556.8,246.6 567.1,251.6 559.4,257.8 567.4,262.7" stroke="#0808ee"/>

<path d="M573.4,237.4 569.2,240.9 566.3,244.8 568.8,247.5 574.7,250.5 568.0,257.4 572.2,259.5" stroke="#f20808"/>


<path d="M586.4,236.5 578.1,242.6 580.4,245.1 585.8,249.4 583.4,251.5 578.4,253.6" stroke="#0808ee"/>

<path d="M671.3,275.7 665.5,280.6 658.3,281.5 652.5,284.8 647.3,289.6 643.4,294.2" stroke="#0808ee"/>

<path d="M608.0,225.6 615.6,221.0 620.2,227.1 617.1,231.7 612.6,230.2" stroke="#f20808"/>

<path d="M619.7,222.9 626.4,219.7 631.8,222.8 637.9,222.6 644.1,224.0 647.9,230.4" stroke="#0808ee"/>
<path d="M617.3,232.0 620.5,229.4 624.6,224.1 629.7,233.9 637.5,227.3 639.2,231.8 641.6,236.2 645.7,233.3" stroke="#0808ee"/>
<path d="M619.4,230.6 622.7,227.8 626.7,223.4 631.8,232.4 639.1,225.7 640.9,231.0 643.5,235.1 647.0,232.5" stroke="#f20808"/>
<path d="M662.4,228.9 669.8,229.0 671.5,236.0 674.3,240.6" stroke="#0808ee"/>

<path d="M650.5,227.1 658.1,225.6 662.7,230.2 659.6,234.7" stroke="#f20808"/>



</g>
<g fill="none" stroke="#1c1c1c" stroke-width="2"><path d="M507.7,20.8 C514,13 528,11 551,16.8"/><path d="M642.3,16.4 C636,9 620,6.5 599,11.8"/><path d="M519.5,212.6H548M629.6,212.6H601"/></g>
<g fill="#1c1c1c"><path d="M564.6,20.1L553.2,8.8L549.3,23.6Z"/><path d="M585.4,15.8L596.3,4.4L600.3,19.3Z"/><path d="M560.9,212.6L546.6,204.7L546.6,220.8Z"/><path d="M588.8,212.6L603,204.7L603,220.8Z"/></g>
</svg></body></html>
